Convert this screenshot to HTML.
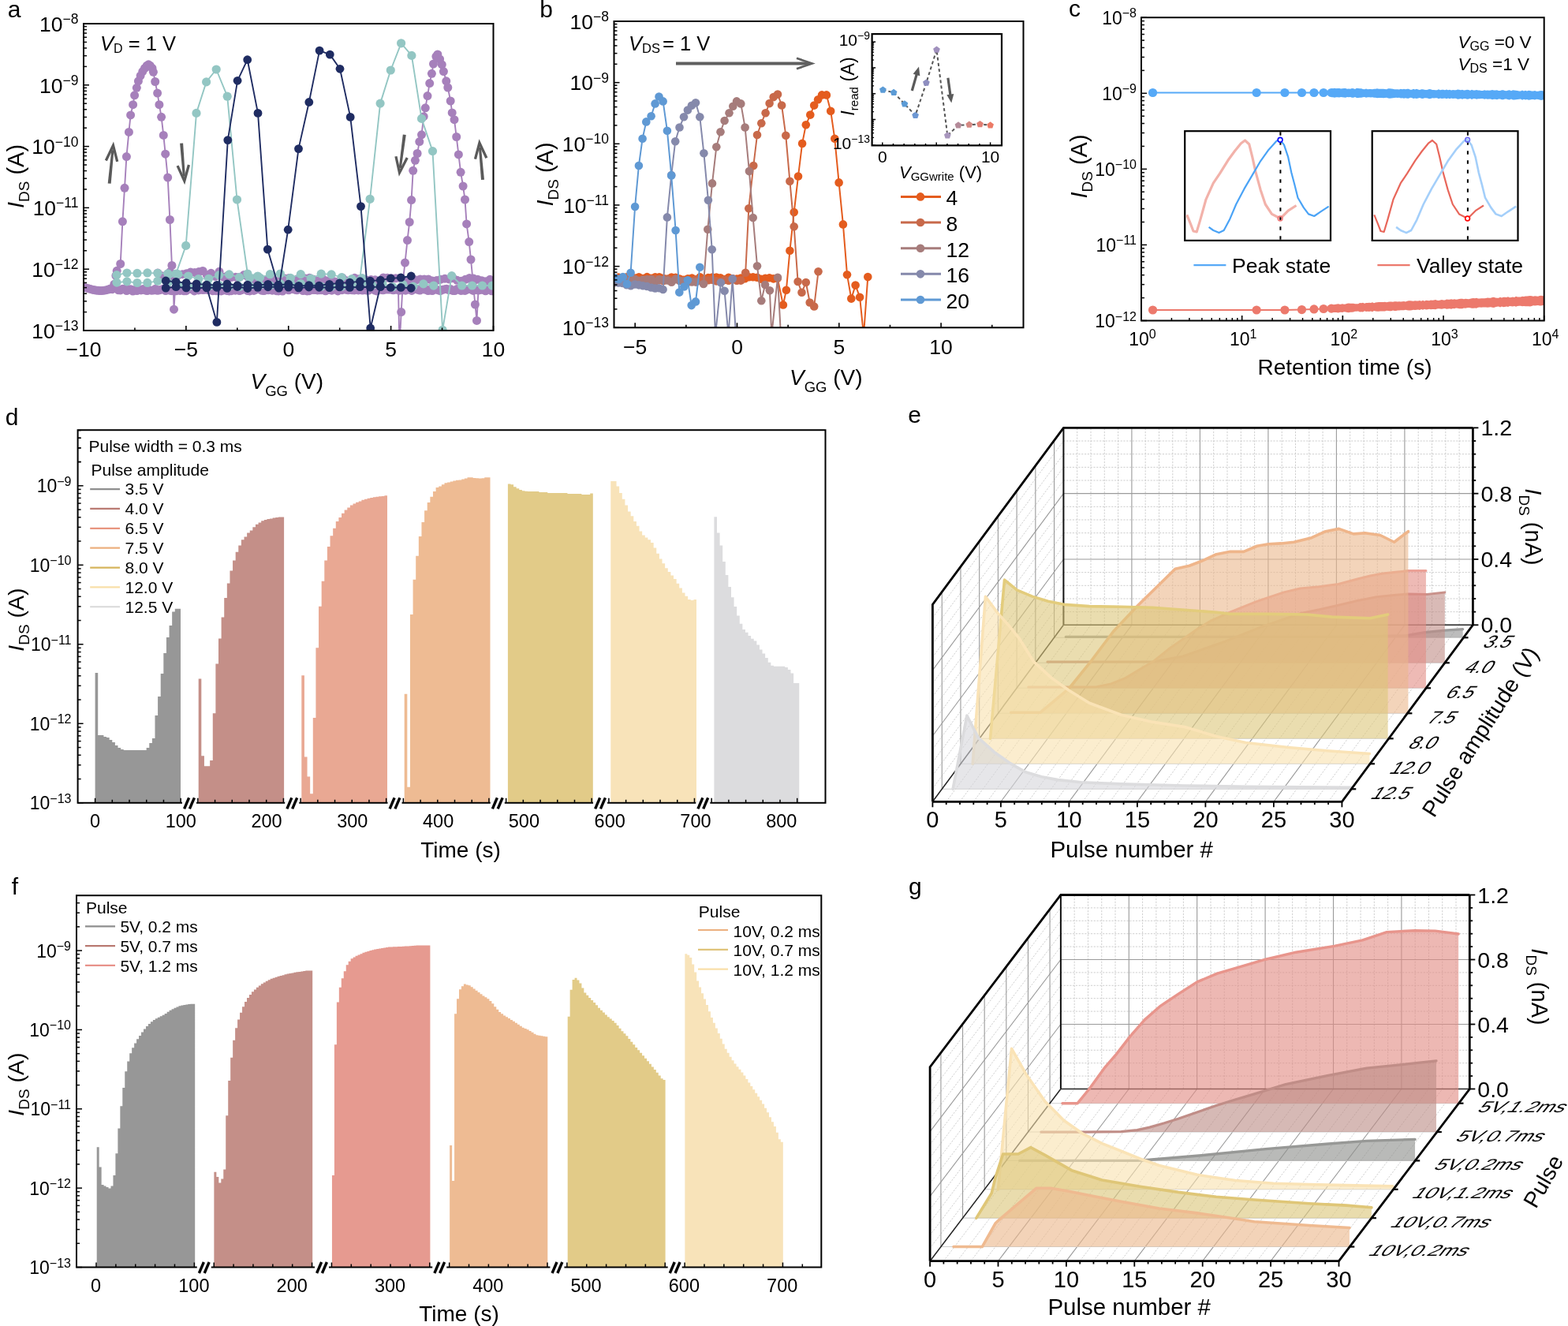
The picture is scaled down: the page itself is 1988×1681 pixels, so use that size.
<!DOCTYPE html><html><head><meta charset="utf-8"><style>html,body{margin:0;padding:0;background:#fff;}svg{display:block;}</style></head><body>
<svg xmlns="http://www.w3.org/2000/svg" width="1988" height="1681" viewBox="0 0 1988 1681" font-family='"Liberation Sans", Arial, Helvetica, sans-serif'>
<rect width="1988" height="1681" fill="#fff"/>
<g id="pa">
<clipPath id="clipa"><rect x="106.0" y="30.0" width="519.5" height="389.0"/></clipPath>
<g clip-path="url(#clipa)">
<path d="M106 364.23 L108.6 364.8 L111.2 365.48 L113.8 366.19 L116.4 366.9 L119 367.52 L121.6 368.03 L124.2 368.36 L126.8 368.5 L129.4 368.43 L132 368.16 L134.6 367.71 L137.2 367.12 L139.8 366.43 L142.4 366.71 L150.2 367.81 L152.8 367.88 L155.4 366.2 L158 366.04 L160.6 368.51 L163.2 366.78 L165.8 366.7 L168.4 368.99 L171 367.41 L173.6 368.51 L176.2 367.43 L178.8 367.92 L181.4 366.45 L184 367.9 L186.6 368.6 L189.2 367.57 L191.8 368.22 L194.4 368.01 L197 366.19 L199.6 368.27 L202.2 367.77 L204.8 366.9 L207.4 366.09 L210 368.6 L212.6 367.42 L215.2 368.16 L217.8 368.64 L220.4 368.14 L223 368.76 L225.6 367.18 L228.2 368.4 L230.8 367.33 L233.4 368.81 L236 368.64 L238.6 366.29 L241.2 366.41 L243.8 366.65 L246.4 368.9 L249 367.31 L251.6 367.88 L254.2 366.9 L256.8 367.52 L259.4 367.16 L262 367.05 L264.6 367.76 L267.2 367.75 L269.8 368.71 L272.4 368.05 L275 368.79 L277.6 368.57 L280.2 368.97 L282.8 368.01 L285.4 366.49 L288 368.58 L290.6 368.89 L293.2 368.71 L295.8 367.71 L298.4 368.14 L301 366.63 L303.6 368.49 L306.2 367.72 L308.8 366.85 L311.4 366.19 L314 368.56 L316.6 368.97 L319.2 366.27 L321.8 368.4 L324.4 367.23 L327 366.45 L329.6 366.88 L332.2 368.31 L334.8 368.62 L337.4 366.13 L340 367.84 L342.6 366.13 L345.2 368.16 L347.8 366.99 L350.4 368.64 L353 368.94 L355.6 367.52 L358.2 369 L360.8 366.93 L363.4 366.23 L366 367.8 L368.6 366.09 L371.2 366.59 L373.8 367.22 L376.4 367.83 L379 366.47 L381.6 366.13 L384.2 368.6 L386.8 366.94 L389.4 368.88 L392 368.69 L394.6 367.13 L397.2 367.38 L399.8 367.56 L402.4 367.93 L405 367.79 L407.6 367.68 L410.2 367.86 L412.8 368.82 L415.4 367.52 L418 367.29 L420.6 368.16 L423.2 366.71 L425.8 366.9 L428.4 368.93 L431 367.56 L433.6 367.65 L436.2 366.03 L438.8 367.25 L441.4 367.74 L444 366.06 L446.6 367.85 L449.2 367.9 L451.8 366.18 L454.4 367.88 L457 367.4 L459.6 368.04 L462.2 367.06 L464.8 368.12 L467.4 368.21 L470 366.07 L472.6 366.18 L475.2 368.03 L477.8 368.89 L480.4 366.75 L483 367.37 L485.6 367.78 L488.2 366.96 L490.8 367.09 L493.4 366.94 L496 367.11 L498.6 367.79 L501.2 366.9 L503.8 367.13 L506.4 368.32 L509 366.08 L511.6 367.71 L514.2 368.21 L516.8 366.93 L519.4 366.67 L522 368.41 L524.6 366.72 L527.2 366.56 L529.8 367.31 L532.4 368.09 L535 366.31 L537.6 366.97 L540.2 367 L542.8 368.5 L545.4 367.32 L548 368.57 L550.6 366.51 L553.2 367.01 L555.8 367.95 L558.4 368.65 L561 367.35 L563.6 366.68 L566.2 366.36 L568.8 367.59 L571.4 366.57 L574 368.42 L576.6 368.52 L579.2 366.55 L581.8 366.84 L584.4 368.42 L587 367.93 L589.6 368.42 L592.2 367.04 L594.8 366.39 L597.4 366.88 L600 368.38 L602.6 366.81 L605.2 367.04 L607.8 367.25 L610.4 367.26 L613 367.23 L615.6 368.76 L618.2 366.47 L620.8 366.01 L623.4 368.83 L626 368.64 L628.6 368.96" stroke="#a680bb" fill="none" stroke-width="1.5" />
<path d="M200 346.04 L205.2 349.65 L210.4 349.49 L215.6 344.55 L220.8 348.22 L226 348.86 L231.2 347.64 L236.4 346.63 L241.6 345.02 L246.8 345.39 L252 344.59 L257.2 343.48 L262.4 348.71 L267.6 346.3 L272.8 350.48 L278 344.36 L283.2 351.23 L288.4 349.55 L293.6 351.39 L298.8 351.17 L304 351.2 L309.2 348.62 L314.4 351.08 L319.6 355.47 L324.8 352.03 L330 352.8 L335.2 354.98 L340.4 354.15 L345.6 353.48 L350.8 356.63 L356 354.67 L361.2 353.05 L366.4 352.51 L371.6 356.17 L376.8 353.86 L382 355.69 L387.2 353.11 L392.4 352.18 L397.6 354.21 L402.8 355.9 L408 352.03 L413.2 355.75 L418.4 356.53 L423.6 356.84 L428.8 356.94 L434 352.05 L439.2 355.77 L444.4 357.18 L449.6 352.3 L454.8 353.63 L460 353.61 L465.2 355.16 L470.4 354.54 L475.6 354.84 L480.8 356.66 L486 352.01 L491.2 352.33 L496.4 352.76 L501.6 352.75 L506.8 352.41 L512 357.85 L517.2 357.13 L522.4 352.52 L527.6 355.01 L532.8 353.9 L538 353.89 L543.2 354.11 L548.4 355.88 L553.6 355.52 L558.8 354.17 L564 353.15 L569.2 353.97 L574.4 352.74 L579.6 355.33 L584.8 356.3 L590 354.28 L595.2 352.48 L600.4 353.07 L605.6 354.24 L610.8 355.63 L616 356.7 L621.2 354.28" stroke="#a680bb" fill="none" stroke-width="1.5" />
<circle cx="106" cy="364.23" r="5.5" fill="#a680bb" />
<circle cx="108.6" cy="364.8" r="5.5" fill="#a680bb" />
<circle cx="111.2" cy="365.48" r="5.5" fill="#a680bb" />
<circle cx="113.8" cy="366.19" r="5.5" fill="#a680bb" />
<circle cx="116.4" cy="366.9" r="5.5" fill="#a680bb" />
<circle cx="119" cy="367.52" r="5.5" fill="#a680bb" />
<circle cx="121.6" cy="368.03" r="5.5" fill="#a680bb" />
<circle cx="124.2" cy="368.36" r="5.5" fill="#a680bb" />
<circle cx="126.8" cy="368.5" r="5.5" fill="#a680bb" />
<circle cx="129.4" cy="368.43" r="5.5" fill="#a680bb" />
<circle cx="132" cy="368.16" r="5.5" fill="#a680bb" />
<circle cx="134.6" cy="367.71" r="5.5" fill="#a680bb" />
<circle cx="137.2" cy="367.12" r="5.5" fill="#a680bb" />
<circle cx="139.8" cy="366.43" r="5.5" fill="#a680bb" />
<circle cx="142.4" cy="366.71" r="5.5" fill="#a680bb" />
<circle cx="150.2" cy="367.81" r="5.5" fill="#a680bb" />
<circle cx="152.8" cy="367.88" r="5.5" fill="#a680bb" />
<circle cx="155.4" cy="366.2" r="5.5" fill="#a680bb" />
<circle cx="158" cy="366.04" r="5.5" fill="#a680bb" />
<circle cx="160.6" cy="368.51" r="5.5" fill="#a680bb" />
<circle cx="163.2" cy="366.78" r="5.5" fill="#a680bb" />
<circle cx="165.8" cy="366.7" r="5.5" fill="#a680bb" />
<circle cx="168.4" cy="368.99" r="5.5" fill="#a680bb" />
<circle cx="171" cy="367.41" r="5.5" fill="#a680bb" />
<circle cx="173.6" cy="368.51" r="5.5" fill="#a680bb" />
<circle cx="176.2" cy="367.43" r="5.5" fill="#a680bb" />
<circle cx="178.8" cy="367.92" r="5.5" fill="#a680bb" />
<circle cx="181.4" cy="366.45" r="5.5" fill="#a680bb" />
<circle cx="184" cy="367.9" r="5.5" fill="#a680bb" />
<circle cx="186.6" cy="368.6" r="5.5" fill="#a680bb" />
<circle cx="189.2" cy="367.57" r="5.5" fill="#a680bb" />
<circle cx="191.8" cy="368.22" r="5.5" fill="#a680bb" />
<circle cx="194.4" cy="368.01" r="5.5" fill="#a680bb" />
<circle cx="197" cy="366.19" r="5.5" fill="#a680bb" />
<circle cx="199.6" cy="368.27" r="5.5" fill="#a680bb" />
<circle cx="202.2" cy="367.77" r="5.5" fill="#a680bb" />
<circle cx="204.8" cy="366.9" r="5.5" fill="#a680bb" />
<circle cx="207.4" cy="366.09" r="5.5" fill="#a680bb" />
<circle cx="210" cy="368.6" r="5.5" fill="#a680bb" />
<circle cx="212.6" cy="367.42" r="5.5" fill="#a680bb" />
<circle cx="215.2" cy="368.16" r="5.5" fill="#a680bb" />
<circle cx="217.8" cy="368.64" r="5.5" fill="#a680bb" />
<circle cx="220.4" cy="368.14" r="5.5" fill="#a680bb" />
<circle cx="223" cy="368.76" r="5.5" fill="#a680bb" />
<circle cx="225.6" cy="367.18" r="5.5" fill="#a680bb" />
<circle cx="228.2" cy="368.4" r="5.5" fill="#a680bb" />
<circle cx="230.8" cy="367.33" r="5.5" fill="#a680bb" />
<circle cx="233.4" cy="368.81" r="5.5" fill="#a680bb" />
<circle cx="236" cy="368.64" r="5.5" fill="#a680bb" />
<circle cx="238.6" cy="366.29" r="5.5" fill="#a680bb" />
<circle cx="241.2" cy="366.41" r="5.5" fill="#a680bb" />
<circle cx="243.8" cy="366.65" r="5.5" fill="#a680bb" />
<circle cx="246.4" cy="368.9" r="5.5" fill="#a680bb" />
<circle cx="249" cy="367.31" r="5.5" fill="#a680bb" />
<circle cx="251.6" cy="367.88" r="5.5" fill="#a680bb" />
<circle cx="254.2" cy="366.9" r="5.5" fill="#a680bb" />
<circle cx="256.8" cy="367.52" r="5.5" fill="#a680bb" />
<circle cx="259.4" cy="367.16" r="5.5" fill="#a680bb" />
<circle cx="262" cy="367.05" r="5.5" fill="#a680bb" />
<circle cx="264.6" cy="367.76" r="5.5" fill="#a680bb" />
<circle cx="267.2" cy="367.75" r="5.5" fill="#a680bb" />
<circle cx="269.8" cy="368.71" r="5.5" fill="#a680bb" />
<circle cx="272.4" cy="368.05" r="5.5" fill="#a680bb" />
<circle cx="275" cy="368.79" r="5.5" fill="#a680bb" />
<circle cx="277.6" cy="368.57" r="5.5" fill="#a680bb" />
<circle cx="280.2" cy="368.97" r="5.5" fill="#a680bb" />
<circle cx="282.8" cy="368.01" r="5.5" fill="#a680bb" />
<circle cx="285.4" cy="366.49" r="5.5" fill="#a680bb" />
<circle cx="288" cy="368.58" r="5.5" fill="#a680bb" />
<circle cx="290.6" cy="368.89" r="5.5" fill="#a680bb" />
<circle cx="293.2" cy="368.71" r="5.5" fill="#a680bb" />
<circle cx="295.8" cy="367.71" r="5.5" fill="#a680bb" />
<circle cx="298.4" cy="368.14" r="5.5" fill="#a680bb" />
<circle cx="301" cy="366.63" r="5.5" fill="#a680bb" />
<circle cx="303.6" cy="368.49" r="5.5" fill="#a680bb" />
<circle cx="306.2" cy="367.72" r="5.5" fill="#a680bb" />
<circle cx="308.8" cy="366.85" r="5.5" fill="#a680bb" />
<circle cx="311.4" cy="366.19" r="5.5" fill="#a680bb" />
<circle cx="314" cy="368.56" r="5.5" fill="#a680bb" />
<circle cx="316.6" cy="368.97" r="5.5" fill="#a680bb" />
<circle cx="319.2" cy="366.27" r="5.5" fill="#a680bb" />
<circle cx="321.8" cy="368.4" r="5.5" fill="#a680bb" />
<circle cx="324.4" cy="367.23" r="5.5" fill="#a680bb" />
<circle cx="327" cy="366.45" r="5.5" fill="#a680bb" />
<circle cx="329.6" cy="366.88" r="5.5" fill="#a680bb" />
<circle cx="332.2" cy="368.31" r="5.5" fill="#a680bb" />
<circle cx="334.8" cy="368.62" r="5.5" fill="#a680bb" />
<circle cx="337.4" cy="366.13" r="5.5" fill="#a680bb" />
<circle cx="340" cy="367.84" r="5.5" fill="#a680bb" />
<circle cx="342.6" cy="366.13" r="5.5" fill="#a680bb" />
<circle cx="345.2" cy="368.16" r="5.5" fill="#a680bb" />
<circle cx="347.8" cy="366.99" r="5.5" fill="#a680bb" />
<circle cx="350.4" cy="368.64" r="5.5" fill="#a680bb" />
<circle cx="353" cy="368.94" r="5.5" fill="#a680bb" />
<circle cx="355.6" cy="367.52" r="5.5" fill="#a680bb" />
<circle cx="358.2" cy="369" r="5.5" fill="#a680bb" />
<circle cx="360.8" cy="366.93" r="5.5" fill="#a680bb" />
<circle cx="363.4" cy="366.23" r="5.5" fill="#a680bb" />
<circle cx="366" cy="367.8" r="5.5" fill="#a680bb" />
<circle cx="368.6" cy="366.09" r="5.5" fill="#a680bb" />
<circle cx="371.2" cy="366.59" r="5.5" fill="#a680bb" />
<circle cx="373.8" cy="367.22" r="5.5" fill="#a680bb" />
<circle cx="376.4" cy="367.83" r="5.5" fill="#a680bb" />
<circle cx="379" cy="366.47" r="5.5" fill="#a680bb" />
<circle cx="381.6" cy="366.13" r="5.5" fill="#a680bb" />
<circle cx="384.2" cy="368.6" r="5.5" fill="#a680bb" />
<circle cx="386.8" cy="366.94" r="5.5" fill="#a680bb" />
<circle cx="389.4" cy="368.88" r="5.5" fill="#a680bb" />
<circle cx="392" cy="368.69" r="5.5" fill="#a680bb" />
<circle cx="394.6" cy="367.13" r="5.5" fill="#a680bb" />
<circle cx="397.2" cy="367.38" r="5.5" fill="#a680bb" />
<circle cx="399.8" cy="367.56" r="5.5" fill="#a680bb" />
<circle cx="402.4" cy="367.93" r="5.5" fill="#a680bb" />
<circle cx="405" cy="367.79" r="5.5" fill="#a680bb" />
<circle cx="407.6" cy="367.68" r="5.5" fill="#a680bb" />
<circle cx="410.2" cy="367.86" r="5.5" fill="#a680bb" />
<circle cx="412.8" cy="368.82" r="5.5" fill="#a680bb" />
<circle cx="415.4" cy="367.52" r="5.5" fill="#a680bb" />
<circle cx="418" cy="367.29" r="5.5" fill="#a680bb" />
<circle cx="420.6" cy="368.16" r="5.5" fill="#a680bb" />
<circle cx="423.2" cy="366.71" r="5.5" fill="#a680bb" />
<circle cx="425.8" cy="366.9" r="5.5" fill="#a680bb" />
<circle cx="428.4" cy="368.93" r="5.5" fill="#a680bb" />
<circle cx="431" cy="367.56" r="5.5" fill="#a680bb" />
<circle cx="433.6" cy="367.65" r="5.5" fill="#a680bb" />
<circle cx="436.2" cy="366.03" r="5.5" fill="#a680bb" />
<circle cx="438.8" cy="367.25" r="5.5" fill="#a680bb" />
<circle cx="441.4" cy="367.74" r="5.5" fill="#a680bb" />
<circle cx="444" cy="366.06" r="5.5" fill="#a680bb" />
<circle cx="446.6" cy="367.85" r="5.5" fill="#a680bb" />
<circle cx="449.2" cy="367.9" r="5.5" fill="#a680bb" />
<circle cx="451.8" cy="366.18" r="5.5" fill="#a680bb" />
<circle cx="454.4" cy="367.88" r="5.5" fill="#a680bb" />
<circle cx="457" cy="367.4" r="5.5" fill="#a680bb" />
<circle cx="459.6" cy="368.04" r="5.5" fill="#a680bb" />
<circle cx="462.2" cy="367.06" r="5.5" fill="#a680bb" />
<circle cx="464.8" cy="368.12" r="5.5" fill="#a680bb" />
<circle cx="467.4" cy="368.21" r="5.5" fill="#a680bb" />
<circle cx="470" cy="366.07" r="5.5" fill="#a680bb" />
<circle cx="472.6" cy="366.18" r="5.5" fill="#a680bb" />
<circle cx="475.2" cy="368.03" r="5.5" fill="#a680bb" />
<circle cx="477.8" cy="368.89" r="5.5" fill="#a680bb" />
<circle cx="480.4" cy="366.75" r="5.5" fill="#a680bb" />
<circle cx="483" cy="367.37" r="5.5" fill="#a680bb" />
<circle cx="485.6" cy="367.78" r="5.5" fill="#a680bb" />
<circle cx="488.2" cy="366.96" r="5.5" fill="#a680bb" />
<circle cx="490.8" cy="367.09" r="5.5" fill="#a680bb" />
<circle cx="493.4" cy="366.94" r="5.5" fill="#a680bb" />
<circle cx="496" cy="367.11" r="5.5" fill="#a680bb" />
<circle cx="498.6" cy="367.79" r="5.5" fill="#a680bb" />
<circle cx="501.2" cy="366.9" r="5.5" fill="#a680bb" />
<circle cx="503.8" cy="367.13" r="5.5" fill="#a680bb" />
<circle cx="506.4" cy="368.32" r="5.5" fill="#a680bb" />
<circle cx="509" cy="366.08" r="5.5" fill="#a680bb" />
<circle cx="511.6" cy="367.71" r="5.5" fill="#a680bb" />
<circle cx="514.2" cy="368.21" r="5.5" fill="#a680bb" />
<circle cx="516.8" cy="366.93" r="5.5" fill="#a680bb" />
<circle cx="519.4" cy="366.67" r="5.5" fill="#a680bb" />
<circle cx="522" cy="368.41" r="5.5" fill="#a680bb" />
<circle cx="524.6" cy="366.72" r="5.5" fill="#a680bb" />
<circle cx="527.2" cy="366.56" r="5.5" fill="#a680bb" />
<circle cx="529.8" cy="367.31" r="5.5" fill="#a680bb" />
<circle cx="532.4" cy="368.09" r="5.5" fill="#a680bb" />
<circle cx="535" cy="366.31" r="5.5" fill="#a680bb" />
<circle cx="537.6" cy="366.97" r="5.5" fill="#a680bb" />
<circle cx="540.2" cy="367" r="5.5" fill="#a680bb" />
<circle cx="542.8" cy="368.5" r="5.5" fill="#a680bb" />
<circle cx="545.4" cy="367.32" r="5.5" fill="#a680bb" />
<circle cx="548" cy="368.57" r="5.5" fill="#a680bb" />
<circle cx="550.6" cy="366.51" r="5.5" fill="#a680bb" />
<circle cx="553.2" cy="367.01" r="5.5" fill="#a680bb" />
<circle cx="555.8" cy="367.95" r="5.5" fill="#a680bb" />
<circle cx="558.4" cy="368.65" r="5.5" fill="#a680bb" />
<circle cx="561" cy="367.35" r="5.5" fill="#a680bb" />
<circle cx="563.6" cy="366.68" r="5.5" fill="#a680bb" />
<circle cx="566.2" cy="366.36" r="5.5" fill="#a680bb" />
<circle cx="568.8" cy="367.59" r="5.5" fill="#a680bb" />
<circle cx="571.4" cy="366.57" r="5.5" fill="#a680bb" />
<circle cx="574" cy="368.42" r="5.5" fill="#a680bb" />
<circle cx="576.6" cy="368.52" r="5.5" fill="#a680bb" />
<circle cx="579.2" cy="366.55" r="5.5" fill="#a680bb" />
<circle cx="581.8" cy="366.84" r="5.5" fill="#a680bb" />
<circle cx="584.4" cy="368.42" r="5.5" fill="#a680bb" />
<circle cx="587" cy="367.93" r="5.5" fill="#a680bb" />
<circle cx="589.6" cy="368.42" r="5.5" fill="#a680bb" />
<circle cx="592.2" cy="367.04" r="5.5" fill="#a680bb" />
<circle cx="594.8" cy="366.39" r="5.5" fill="#a680bb" />
<circle cx="597.4" cy="366.88" r="5.5" fill="#a680bb" />
<circle cx="600" cy="368.38" r="5.5" fill="#a680bb" />
<circle cx="602.6" cy="366.81" r="5.5" fill="#a680bb" />
<circle cx="605.2" cy="367.04" r="5.5" fill="#a680bb" />
<circle cx="607.8" cy="367.25" r="5.5" fill="#a680bb" />
<circle cx="610.4" cy="367.26" r="5.5" fill="#a680bb" />
<circle cx="613" cy="367.23" r="5.5" fill="#a680bb" />
<circle cx="615.6" cy="368.76" r="5.5" fill="#a680bb" />
<circle cx="618.2" cy="366.47" r="5.5" fill="#a680bb" />
<circle cx="620.8" cy="366.01" r="5.5" fill="#a680bb" />
<circle cx="623.4" cy="368.83" r="5.5" fill="#a680bb" />
<circle cx="626" cy="368.64" r="5.5" fill="#a680bb" />
<circle cx="628.6" cy="368.96" r="5.5" fill="#a680bb" />
<circle cx="200" cy="346.04" r="5.5" fill="#a680bb" />
<circle cx="205.2" cy="349.65" r="5.5" fill="#a680bb" />
<circle cx="210.4" cy="349.49" r="5.5" fill="#a680bb" />
<circle cx="215.6" cy="344.55" r="5.5" fill="#a680bb" />
<circle cx="220.8" cy="348.22" r="5.5" fill="#a680bb" />
<circle cx="226" cy="348.86" r="5.5" fill="#a680bb" />
<circle cx="231.2" cy="347.64" r="5.5" fill="#a680bb" />
<circle cx="236.4" cy="346.63" r="5.5" fill="#a680bb" />
<circle cx="241.6" cy="345.02" r="5.5" fill="#a680bb" />
<circle cx="246.8" cy="345.39" r="5.5" fill="#a680bb" />
<circle cx="252" cy="344.59" r="5.5" fill="#a680bb" />
<circle cx="257.2" cy="343.48" r="5.5" fill="#a680bb" />
<circle cx="262.4" cy="348.71" r="5.5" fill="#a680bb" />
<circle cx="267.6" cy="346.3" r="5.5" fill="#a680bb" />
<circle cx="272.8" cy="350.48" r="5.5" fill="#a680bb" />
<circle cx="278" cy="344.36" r="5.5" fill="#a680bb" />
<circle cx="283.2" cy="351.23" r="5.5" fill="#a680bb" />
<circle cx="288.4" cy="349.55" r="5.5" fill="#a680bb" />
<circle cx="293.6" cy="351.39" r="5.5" fill="#a680bb" />
<circle cx="298.8" cy="351.17" r="5.5" fill="#a680bb" />
<circle cx="304" cy="351.2" r="5.5" fill="#a680bb" />
<circle cx="309.2" cy="348.62" r="5.5" fill="#a680bb" />
<circle cx="314.4" cy="351.08" r="5.5" fill="#a680bb" />
<circle cx="319.6" cy="355.47" r="5.5" fill="#a680bb" />
<circle cx="324.8" cy="352.03" r="5.5" fill="#a680bb" />
<circle cx="330" cy="352.8" r="5.5" fill="#a680bb" />
<circle cx="335.2" cy="354.98" r="5.5" fill="#a680bb" />
<circle cx="340.4" cy="354.15" r="5.5" fill="#a680bb" />
<circle cx="345.6" cy="353.48" r="5.5" fill="#a680bb" />
<circle cx="350.8" cy="356.63" r="5.5" fill="#a680bb" />
<circle cx="356" cy="354.67" r="5.5" fill="#a680bb" />
<circle cx="361.2" cy="353.05" r="5.5" fill="#a680bb" />
<circle cx="366.4" cy="352.51" r="5.5" fill="#a680bb" />
<circle cx="371.6" cy="356.17" r="5.5" fill="#a680bb" />
<circle cx="376.8" cy="353.86" r="5.5" fill="#a680bb" />
<circle cx="382" cy="355.69" r="5.5" fill="#a680bb" />
<circle cx="387.2" cy="353.11" r="5.5" fill="#a680bb" />
<circle cx="392.4" cy="352.18" r="5.5" fill="#a680bb" />
<circle cx="397.6" cy="354.21" r="5.5" fill="#a680bb" />
<circle cx="402.8" cy="355.9" r="5.5" fill="#a680bb" />
<circle cx="408" cy="352.03" r="5.5" fill="#a680bb" />
<circle cx="413.2" cy="355.75" r="5.5" fill="#a680bb" />
<circle cx="418.4" cy="356.53" r="5.5" fill="#a680bb" />
<circle cx="423.6" cy="356.84" r="5.5" fill="#a680bb" />
<circle cx="428.8" cy="356.94" r="5.5" fill="#a680bb" />
<circle cx="434" cy="352.05" r="5.5" fill="#a680bb" />
<circle cx="439.2" cy="355.77" r="5.5" fill="#a680bb" />
<circle cx="444.4" cy="357.18" r="5.5" fill="#a680bb" />
<circle cx="449.6" cy="352.3" r="5.5" fill="#a680bb" />
<circle cx="454.8" cy="353.63" r="5.5" fill="#a680bb" />
<circle cx="460" cy="353.61" r="5.5" fill="#a680bb" />
<circle cx="465.2" cy="355.16" r="5.5" fill="#a680bb" />
<circle cx="470.4" cy="354.54" r="5.5" fill="#a680bb" />
<circle cx="475.6" cy="354.84" r="5.5" fill="#a680bb" />
<circle cx="480.8" cy="356.66" r="5.5" fill="#a680bb" />
<circle cx="486" cy="352.01" r="5.5" fill="#a680bb" />
<circle cx="491.2" cy="352.33" r="5.5" fill="#a680bb" />
<circle cx="496.4" cy="352.76" r="5.5" fill="#a680bb" />
<circle cx="501.6" cy="352.75" r="5.5" fill="#a680bb" />
<circle cx="506.8" cy="352.41" r="5.5" fill="#a680bb" />
<circle cx="512" cy="357.85" r="5.5" fill="#a680bb" />
<circle cx="517.2" cy="357.13" r="5.5" fill="#a680bb" />
<circle cx="522.4" cy="352.52" r="5.5" fill="#a680bb" />
<circle cx="527.6" cy="355.01" r="5.5" fill="#a680bb" />
<circle cx="532.8" cy="353.9" r="5.5" fill="#a680bb" />
<circle cx="538" cy="353.89" r="5.5" fill="#a680bb" />
<circle cx="543.2" cy="354.11" r="5.5" fill="#a680bb" />
<circle cx="548.4" cy="355.88" r="5.5" fill="#a680bb" />
<circle cx="553.6" cy="355.52" r="5.5" fill="#a680bb" />
<circle cx="558.8" cy="354.17" r="5.5" fill="#a680bb" />
<circle cx="564" cy="353.15" r="5.5" fill="#a680bb" />
<circle cx="569.2" cy="353.97" r="5.5" fill="#a680bb" />
<circle cx="574.4" cy="352.74" r="5.5" fill="#a680bb" />
<circle cx="579.6" cy="355.33" r="5.5" fill="#a680bb" />
<circle cx="584.8" cy="356.3" r="5.5" fill="#a680bb" />
<circle cx="590" cy="354.28" r="5.5" fill="#a680bb" />
<circle cx="595.2" cy="352.48" r="5.5" fill="#a680bb" />
<circle cx="600.4" cy="353.07" r="5.5" fill="#a680bb" />
<circle cx="605.6" cy="354.24" r="5.5" fill="#a680bb" />
<circle cx="610.8" cy="355.63" r="5.5" fill="#a680bb" />
<circle cx="616" cy="356.7" r="5.5" fill="#a680bb" />
<circle cx="621.2" cy="354.28" r="5.5" fill="#a680bb" />
<path d="M140 366 L144.8 360.3 L146.9 349.4 L148.2 343.3 L152.7 334.5 L155.4 280.8 L158 238.3 L160.4 198.6 L163.4 167.4 L165.6 145.9 L168.6 132.7 L170.6 120.8 L173.3 111.3 L175.4 102.8 L178.1 96.1 L180.8 90.6 L183.5 86.5 L186.2 83.2 L188.3 81.8 L190.3 83.2 L193 86.5 L194.4 91.3 L196.7 103.5 L199.6 118.1 L201.9 132.7 L204.6 148.3 L207.3 171.4 L209.7 195.2 L212.7 225.1 L215.4 278.5 L217.9 336.5 L219.5 350 L220.5 392.2 L222 367" stroke="#a680bb" fill="none" stroke-width="1.9" stroke-linejoin="round"/>
<circle cx="140" cy="366" r="5.5" fill="#a680bb" />
<circle cx="144.8" cy="360.3" r="5.5" fill="#a680bb" />
<circle cx="146.9" cy="349.4" r="5.5" fill="#a680bb" />
<circle cx="148.2" cy="343.3" r="5.5" fill="#a680bb" />
<circle cx="152.7" cy="334.5" r="5.5" fill="#a680bb" />
<circle cx="155.4" cy="280.8" r="5.5" fill="#a680bb" />
<circle cx="158" cy="238.3" r="5.5" fill="#a680bb" />
<circle cx="160.4" cy="198.6" r="5.5" fill="#a680bb" />
<circle cx="163.4" cy="167.4" r="5.5" fill="#a680bb" />
<circle cx="165.6" cy="145.9" r="5.5" fill="#a680bb" />
<circle cx="168.6" cy="132.7" r="5.5" fill="#a680bb" />
<circle cx="170.6" cy="120.8" r="5.5" fill="#a680bb" />
<circle cx="173.3" cy="111.3" r="5.5" fill="#a680bb" />
<circle cx="175.4" cy="102.8" r="5.5" fill="#a680bb" />
<circle cx="178.1" cy="96.1" r="5.5" fill="#a680bb" />
<circle cx="180.8" cy="90.6" r="5.5" fill="#a680bb" />
<circle cx="183.5" cy="86.5" r="5.5" fill="#a680bb" />
<circle cx="186.2" cy="83.2" r="5.5" fill="#a680bb" />
<circle cx="188.3" cy="81.8" r="5.5" fill="#a680bb" />
<circle cx="190.3" cy="83.2" r="5.5" fill="#a680bb" />
<circle cx="193" cy="86.5" r="5.5" fill="#a680bb" />
<circle cx="194.4" cy="91.3" r="5.5" fill="#a680bb" />
<circle cx="196.7" cy="103.5" r="5.5" fill="#a680bb" />
<circle cx="199.6" cy="118.1" r="5.5" fill="#a680bb" />
<circle cx="201.9" cy="132.7" r="5.5" fill="#a680bb" />
<circle cx="204.6" cy="148.3" r="5.5" fill="#a680bb" />
<circle cx="207.3" cy="171.4" r="5.5" fill="#a680bb" />
<circle cx="209.7" cy="195.2" r="5.5" fill="#a680bb" />
<circle cx="212.7" cy="225.1" r="5.5" fill="#a680bb" />
<circle cx="215.4" cy="278.5" r="5.5" fill="#a680bb" />
<circle cx="217.9" cy="336.5" r="5.5" fill="#a680bb" />
<circle cx="219.5" cy="350" r="5.5" fill="#a680bb" />
<circle cx="220.5" cy="392.2" r="5.5" fill="#a680bb" />
<circle cx="222" cy="367" r="5.5" fill="#a680bb" />
<path d="M505 367 L506.5 440 L508.7 395.6 L511 355 L513.5 333.1 L516.5 304.6 L519.2 281.5 L521.6 253.6 L523.7 216.3 L526.4 203.3 L529.1 194.5 L531.8 179.6 L534.5 170.8 L537.2 147.7 L539.3 136.8 L542 121.6 L544.7 105.6 L547.4 93.3 L549.5 81.1 L552.9 71.6 L554.9 68.9 L557.6 75 L560.3 81.8 L562.4 90.6 L565.8 102.8 L567.8 111 L571.2 128 L573.2 142.9 L576 151.7 L578.7 173.5 L581.4 195.9 L584.1 218.3 L587.1 236 L589.5 253 L591.6 283.9 L594.7 306.6 L597 329 L599.7 357.5 L602.4 386 L604.5 406.4 L606.5 368 L608 366" stroke="#a680bb" fill="none" stroke-width="1.9" stroke-linejoin="round"/>
<circle cx="505" cy="367" r="5.5" fill="#a680bb" />
<circle cx="506.5" cy="440" r="5.5" fill="#a680bb" />
<circle cx="508.7" cy="395.6" r="5.5" fill="#a680bb" />
<circle cx="511" cy="355" r="5.5" fill="#a680bb" />
<circle cx="513.5" cy="333.1" r="5.5" fill="#a680bb" />
<circle cx="516.5" cy="304.6" r="5.5" fill="#a680bb" />
<circle cx="519.2" cy="281.5" r="5.5" fill="#a680bb" />
<circle cx="521.6" cy="253.6" r="5.5" fill="#a680bb" />
<circle cx="523.7" cy="216.3" r="5.5" fill="#a680bb" />
<circle cx="526.4" cy="203.3" r="5.5" fill="#a680bb" />
<circle cx="529.1" cy="194.5" r="5.5" fill="#a680bb" />
<circle cx="531.8" cy="179.6" r="5.5" fill="#a680bb" />
<circle cx="534.5" cy="170.8" r="5.5" fill="#a680bb" />
<circle cx="537.2" cy="147.7" r="5.5" fill="#a680bb" />
<circle cx="539.3" cy="136.8" r="5.5" fill="#a680bb" />
<circle cx="542" cy="121.6" r="5.5" fill="#a680bb" />
<circle cx="544.7" cy="105.6" r="5.5" fill="#a680bb" />
<circle cx="547.4" cy="93.3" r="5.5" fill="#a680bb" />
<circle cx="549.5" cy="81.1" r="5.5" fill="#a680bb" />
<circle cx="552.9" cy="71.6" r="5.5" fill="#a680bb" />
<circle cx="554.9" cy="68.9" r="5.5" fill="#a680bb" />
<circle cx="557.6" cy="75" r="5.5" fill="#a680bb" />
<circle cx="560.3" cy="81.8" r="5.5" fill="#a680bb" />
<circle cx="562.4" cy="90.6" r="5.5" fill="#a680bb" />
<circle cx="565.8" cy="102.8" r="5.5" fill="#a680bb" />
<circle cx="567.8" cy="111" r="5.5" fill="#a680bb" />
<circle cx="571.2" cy="128" r="5.5" fill="#a680bb" />
<circle cx="573.2" cy="142.9" r="5.5" fill="#a680bb" />
<circle cx="576" cy="151.7" r="5.5" fill="#a680bb" />
<circle cx="578.7" cy="173.5" r="5.5" fill="#a680bb" />
<circle cx="581.4" cy="195.9" r="5.5" fill="#a680bb" />
<circle cx="584.1" cy="218.3" r="5.5" fill="#a680bb" />
<circle cx="587.1" cy="236" r="5.5" fill="#a680bb" />
<circle cx="589.5" cy="253" r="5.5" fill="#a680bb" />
<circle cx="591.6" cy="283.9" r="5.5" fill="#a680bb" />
<circle cx="594.7" cy="306.6" r="5.5" fill="#a680bb" />
<circle cx="597" cy="329" r="5.5" fill="#a680bb" />
<circle cx="599.7" cy="357.5" r="5.5" fill="#a680bb" />
<circle cx="602.4" cy="386" r="5.5" fill="#a680bb" />
<circle cx="604.5" cy="406.4" r="5.5" fill="#a680bb" />
<circle cx="606.5" cy="368" r="5.5" fill="#a680bb" />
<circle cx="608" cy="366" r="5.5" fill="#a680bb" />
<path d="M148 348.61 L160.96 346.02 L173.92 346.47 L186.88 345.94 L199.84 346.23 L212.8 346.75 L225.76 347.5 L238.72 349.98 L251.68 353.56 L264.64 353.28 L277.6 348.84 L290.56 347.86 L303.52 351.64 L316.48 352.55 L329.44 352.14 L342.4 347.72 L355.36 347.03 L368.32 352.42 L381.28 347.64 L394.24 353.16 L407.2 347.16 L420.16 347.85 L433.12 351.71 L446.08 353.67 L459.04 352.59" stroke="#93c6c3" fill="none" stroke-width="1.6" />
<path d="M148 358.11 L160.96 356.86 L173.92 358.51 L186.88 358.47 L199.84 356.23 L212.8 358.48 L225.76 361.12 L238.72 363.4 L251.68 360.87 L264.64 362.95 L277.6 361.32 L290.56 363.07 L303.52 363.44 L316.48 362.34 L329.44 361.82 L342.4 361.94 L355.36 359.72 L368.32 359.22 L381.28 359.5 L394.24 359.9 L407.2 363.21 L420.16 363.22 L433.12 363.18 L446.08 361.9 L459.04 359.18 L472 361.56 L484.96 359.53 L497.92 363.67 L510.88 360.62 L523.84 363.14 L536.8 359.9 L549.76 362.08" stroke="#93c6c3" fill="none" stroke-width="1.6" />
<circle cx="148" cy="348.61" r="5.6" fill="#93c6c3" />
<circle cx="160.96" cy="346.02" r="5.6" fill="#93c6c3" />
<circle cx="173.92" cy="346.47" r="5.6" fill="#93c6c3" />
<circle cx="186.88" cy="345.94" r="5.6" fill="#93c6c3" />
<circle cx="199.84" cy="346.23" r="5.6" fill="#93c6c3" />
<circle cx="212.8" cy="346.75" r="5.6" fill="#93c6c3" />
<circle cx="225.76" cy="347.5" r="5.6" fill="#93c6c3" />
<circle cx="238.72" cy="349.98" r="5.6" fill="#93c6c3" />
<circle cx="251.68" cy="353.56" r="5.6" fill="#93c6c3" />
<circle cx="264.64" cy="353.28" r="5.6" fill="#93c6c3" />
<circle cx="277.6" cy="348.84" r="5.6" fill="#93c6c3" />
<circle cx="290.56" cy="347.86" r="5.6" fill="#93c6c3" />
<circle cx="303.52" cy="351.64" r="5.6" fill="#93c6c3" />
<circle cx="316.48" cy="352.55" r="5.6" fill="#93c6c3" />
<circle cx="329.44" cy="352.14" r="5.6" fill="#93c6c3" />
<circle cx="342.4" cy="347.72" r="5.6" fill="#93c6c3" />
<circle cx="355.36" cy="347.03" r="5.6" fill="#93c6c3" />
<circle cx="368.32" cy="352.42" r="5.6" fill="#93c6c3" />
<circle cx="381.28" cy="347.64" r="5.6" fill="#93c6c3" />
<circle cx="394.24" cy="353.16" r="5.6" fill="#93c6c3" />
<circle cx="407.2" cy="347.16" r="5.6" fill="#93c6c3" />
<circle cx="420.16" cy="347.85" r="5.6" fill="#93c6c3" />
<circle cx="433.12" cy="351.71" r="5.6" fill="#93c6c3" />
<circle cx="446.08" cy="353.67" r="5.6" fill="#93c6c3" />
<circle cx="459.04" cy="352.59" r="5.6" fill="#93c6c3" />
<circle cx="148" cy="358.11" r="5.6" fill="#93c6c3" />
<circle cx="160.96" cy="356.86" r="5.6" fill="#93c6c3" />
<circle cx="173.92" cy="358.51" r="5.6" fill="#93c6c3" />
<circle cx="186.88" cy="358.47" r="5.6" fill="#93c6c3" />
<circle cx="199.84" cy="356.23" r="5.6" fill="#93c6c3" />
<circle cx="212.8" cy="358.48" r="5.6" fill="#93c6c3" />
<circle cx="225.76" cy="361.12" r="5.6" fill="#93c6c3" />
<circle cx="238.72" cy="363.4" r="5.6" fill="#93c6c3" />
<circle cx="251.68" cy="360.87" r="5.6" fill="#93c6c3" />
<circle cx="264.64" cy="362.95" r="5.6" fill="#93c6c3" />
<circle cx="277.6" cy="361.32" r="5.6" fill="#93c6c3" />
<circle cx="290.56" cy="363.07" r="5.6" fill="#93c6c3" />
<circle cx="303.52" cy="363.44" r="5.6" fill="#93c6c3" />
<circle cx="316.48" cy="362.34" r="5.6" fill="#93c6c3" />
<circle cx="329.44" cy="361.82" r="5.6" fill="#93c6c3" />
<circle cx="342.4" cy="361.94" r="5.6" fill="#93c6c3" />
<circle cx="355.36" cy="359.72" r="5.6" fill="#93c6c3" />
<circle cx="368.32" cy="359.22" r="5.6" fill="#93c6c3" />
<circle cx="381.28" cy="359.5" r="5.6" fill="#93c6c3" />
<circle cx="394.24" cy="359.9" r="5.6" fill="#93c6c3" />
<circle cx="407.2" cy="363.21" r="5.6" fill="#93c6c3" />
<circle cx="420.16" cy="363.22" r="5.6" fill="#93c6c3" />
<circle cx="433.12" cy="363.18" r="5.6" fill="#93c6c3" />
<circle cx="446.08" cy="361.9" r="5.6" fill="#93c6c3" />
<circle cx="459.04" cy="359.18" r="5.6" fill="#93c6c3" />
<circle cx="472" cy="361.56" r="5.6" fill="#93c6c3" />
<circle cx="484.96" cy="359.53" r="5.6" fill="#93c6c3" />
<circle cx="497.92" cy="363.67" r="5.6" fill="#93c6c3" />
<circle cx="510.88" cy="360.62" r="5.6" fill="#93c6c3" />
<circle cx="523.84" cy="363.14" r="5.6" fill="#93c6c3" />
<circle cx="536.8" cy="359.9" r="5.6" fill="#93c6c3" />
<circle cx="549.76" cy="362.08" r="5.6" fill="#93c6c3" />
<path d="M210.2 356 L223.2 347 L235.7 311.4 L249 143.4 L261.6 103.9 L274.2 88 L288.2 122.2 L300.5 253 L313.9 347 L326.8 350" stroke="#93c6c3" fill="none" stroke-width="1.9" stroke-linejoin="round"/>
<circle cx="210.2" cy="356" r="5.6" fill="#93c6c3" />
<circle cx="223.2" cy="347" r="5.6" fill="#93c6c3" />
<circle cx="235.7" cy="311.4" r="5.6" fill="#93c6c3" />
<circle cx="249" cy="143.4" r="5.6" fill="#93c6c3" />
<circle cx="261.6" cy="103.9" r="5.6" fill="#93c6c3" />
<circle cx="274.2" cy="88" r="5.6" fill="#93c6c3" />
<circle cx="288.2" cy="122.2" r="5.6" fill="#93c6c3" />
<circle cx="300.5" cy="253" r="5.6" fill="#93c6c3" />
<circle cx="313.9" cy="347" r="5.6" fill="#93c6c3" />
<circle cx="326.8" cy="350" r="5.6" fill="#93c6c3" />
<path d="M456 356 L469.1 252.3 L482.1 131.1 L495.3 89 L508.6 54.8 L521.9 70.4 L534.5 150.4 L548.5 191.6 L561.1 418.3 L572.7 349.6 L585.6 362 L598.6 362 L611.5 362 L624 362" stroke="#93c6c3" fill="none" stroke-width="1.9" stroke-linejoin="round"/>
<circle cx="456" cy="356" r="5.6" fill="#93c6c3" />
<circle cx="469.1" cy="252.3" r="5.6" fill="#93c6c3" />
<circle cx="482.1" cy="131.1" r="5.6" fill="#93c6c3" />
<circle cx="495.3" cy="89" r="5.6" fill="#93c6c3" />
<circle cx="508.6" cy="54.8" r="5.6" fill="#93c6c3" />
<circle cx="521.9" cy="70.4" r="5.6" fill="#93c6c3" />
<circle cx="534.5" cy="150.4" r="5.6" fill="#93c6c3" />
<circle cx="548.5" cy="191.6" r="5.6" fill="#93c6c3" />
<circle cx="561.1" cy="418.3" r="5.6" fill="#93c6c3" />
<circle cx="572.7" cy="349.6" r="5.6" fill="#93c6c3" />
<circle cx="585.6" cy="362" r="5.6" fill="#93c6c3" />
<circle cx="598.6" cy="362" r="5.6" fill="#93c6c3" />
<circle cx="611.5" cy="362" r="5.6" fill="#93c6c3" />
<circle cx="624" cy="362" r="5.6" fill="#93c6c3" />
<path d="M210.2 365.09 L223.16 363.69 L236.12 364.96 L249.08 365.11 L262.04 364.92 L275 364.46 L287.96 365.45 L300.92 363.53 L313.88 365.5 L326.84 364.36 L339.8 363.75 L352.76 363.78 L365.72 364.06 L378.68 364.96 L391.64 364.01 L404.6 364.29 L417.56 364.7 L430.52 363.82 L443.48 364.45 L456.44 363.71 L469.4 364.07 L482.36 363.64 L495.32 364.45 L508.28 364.42 L521.24 365.27" stroke="#1f2c62" fill="none" stroke-width="1.9" stroke-linejoin="round"/>
<circle cx="210.2" cy="365.09" r="5.4" fill="#1f2c62" />
<circle cx="223.16" cy="363.69" r="5.4" fill="#1f2c62" />
<circle cx="236.12" cy="364.96" r="5.4" fill="#1f2c62" />
<circle cx="249.08" cy="365.11" r="5.4" fill="#1f2c62" />
<circle cx="262.04" cy="364.92" r="5.4" fill="#1f2c62" />
<circle cx="275" cy="364.46" r="5.4" fill="#1f2c62" />
<circle cx="287.96" cy="365.45" r="5.4" fill="#1f2c62" />
<circle cx="300.92" cy="363.53" r="5.4" fill="#1f2c62" />
<circle cx="313.88" cy="365.5" r="5.4" fill="#1f2c62" />
<circle cx="326.84" cy="364.36" r="5.4" fill="#1f2c62" />
<circle cx="339.8" cy="363.75" r="5.4" fill="#1f2c62" />
<circle cx="352.76" cy="363.78" r="5.4" fill="#1f2c62" />
<circle cx="365.72" cy="364.06" r="5.4" fill="#1f2c62" />
<circle cx="378.68" cy="364.96" r="5.4" fill="#1f2c62" />
<circle cx="391.64" cy="364.01" r="5.4" fill="#1f2c62" />
<circle cx="404.6" cy="364.29" r="5.4" fill="#1f2c62" />
<circle cx="417.56" cy="364.7" r="5.4" fill="#1f2c62" />
<circle cx="430.52" cy="363.82" r="5.4" fill="#1f2c62" />
<circle cx="443.48" cy="364.45" r="5.4" fill="#1f2c62" />
<circle cx="456.44" cy="363.71" r="5.4" fill="#1f2c62" />
<circle cx="469.4" cy="364.07" r="5.4" fill="#1f2c62" />
<circle cx="482.36" cy="363.64" r="5.4" fill="#1f2c62" />
<circle cx="495.32" cy="364.45" r="5.4" fill="#1f2c62" />
<circle cx="508.28" cy="364.42" r="5.4" fill="#1f2c62" />
<circle cx="521.24" cy="365.27" r="5.4" fill="#1f2c62" />
<path d="M210.2 356.02 L223.16 357.32 L236.12 358.61 L249.08 359.91 L262.04 361.05 L275 361.43 L287.96 359.95 L300.92 361.74 L313.88 361.05 L326.84 361.66 L339.8 360.3 L352.76 361.26 L365.72 360.2 L378.68 362.36 L391.64 361.62 L404.6 362.06 L417.56 360.3 L430.52 358.89 L443.48 358.18 L456.44 356.71 L469.4 356.11 L482.36 355.12 L495.32 352.91 L508.28 351.96 L521.24 349.98" stroke="#1f2c62" fill="none" stroke-width="1.9" stroke-linejoin="round"/>
<circle cx="210.2" cy="356.02" r="5.4" fill="#1f2c62" />
<circle cx="223.16" cy="357.32" r="5.4" fill="#1f2c62" />
<circle cx="236.12" cy="358.61" r="5.4" fill="#1f2c62" />
<circle cx="249.08" cy="359.91" r="5.4" fill="#1f2c62" />
<circle cx="262.04" cy="361.05" r="5.4" fill="#1f2c62" />
<circle cx="275" cy="361.43" r="5.4" fill="#1f2c62" />
<circle cx="287.96" cy="359.95" r="5.4" fill="#1f2c62" />
<circle cx="300.92" cy="361.74" r="5.4" fill="#1f2c62" />
<circle cx="313.88" cy="361.05" r="5.4" fill="#1f2c62" />
<circle cx="326.84" cy="361.66" r="5.4" fill="#1f2c62" />
<circle cx="339.8" cy="360.3" r="5.4" fill="#1f2c62" />
<circle cx="352.76" cy="361.26" r="5.4" fill="#1f2c62" />
<circle cx="365.72" cy="360.2" r="5.4" fill="#1f2c62" />
<circle cx="378.68" cy="362.36" r="5.4" fill="#1f2c62" />
<circle cx="391.64" cy="361.62" r="5.4" fill="#1f2c62" />
<circle cx="404.6" cy="362.06" r="5.4" fill="#1f2c62" />
<circle cx="417.56" cy="360.3" r="5.4" fill="#1f2c62" />
<circle cx="430.52" cy="358.89" r="5.4" fill="#1f2c62" />
<circle cx="443.48" cy="358.18" r="5.4" fill="#1f2c62" />
<circle cx="456.44" cy="356.71" r="5.4" fill="#1f2c62" />
<circle cx="469.4" cy="356.11" r="5.4" fill="#1f2c62" />
<circle cx="482.36" cy="355.12" r="5.4" fill="#1f2c62" />
<circle cx="495.32" cy="352.91" r="5.4" fill="#1f2c62" />
<circle cx="508.28" cy="351.96" r="5.4" fill="#1f2c62" />
<circle cx="521.24" cy="349.98" r="5.4" fill="#1f2c62" />
<path d="M262 364 L274.9 408.4 L288.8 177.6 L301.1 102.3 L313.7 75.7 L327 143.4 L339.3 316.1 L353.6 365.2 L365.2 291.2 L378.5 188.6 L391.8 129.5 L405.1 64.1 L418.3 69.1 L431 87.3 L444.2 148.4 L457.5 261.6 L469.7 416 L482.2 363" stroke="#1f2c62" fill="none" stroke-width="1.9" stroke-linejoin="round"/>
<circle cx="262" cy="364" r="5.4" fill="#1f2c62" />
<circle cx="274.9" cy="408.4" r="5.4" fill="#1f2c62" />
<circle cx="288.8" cy="177.6" r="5.4" fill="#1f2c62" />
<circle cx="301.1" cy="102.3" r="5.4" fill="#1f2c62" />
<circle cx="313.7" cy="75.7" r="5.4" fill="#1f2c62" />
<circle cx="327" cy="143.4" r="5.4" fill="#1f2c62" />
<circle cx="339.3" cy="316.1" r="5.4" fill="#1f2c62" />
<circle cx="353.6" cy="365.2" r="5.4" fill="#1f2c62" />
<circle cx="365.2" cy="291.2" r="5.4" fill="#1f2c62" />
<circle cx="378.5" cy="188.6" r="5.4" fill="#1f2c62" />
<circle cx="391.8" cy="129.5" r="5.4" fill="#1f2c62" />
<circle cx="405.1" cy="64.1" r="5.4" fill="#1f2c62" />
<circle cx="418.3" cy="69.1" r="5.4" fill="#1f2c62" />
<circle cx="431" cy="87.3" r="5.4" fill="#1f2c62" />
<circle cx="444.2" cy="148.4" r="5.4" fill="#1f2c62" />
<circle cx="457.5" cy="261.6" r="5.4" fill="#1f2c62" />
<circle cx="469.7" cy="416" r="5.4" fill="#1f2c62" />
<circle cx="482.2" cy="363" r="5.4" fill="#1f2c62" />
<path d="M140.69 232.8 L144.42 190.42 L141.39 190.12 L136.71 232.4 Z" stroke="none" fill="#5a5a5a" stroke-width="1" />
<path d="M148.69 204.91 L143.5 184.3 L134.36 203.49" stroke="#5a5a5a" fill="none" stroke-width="3.3" stroke-linejoin="miter" stroke-miterlimit="10" stroke-linecap="butt"/>
<path d="M228.11 181.75 L231.82 223.63 L234.85 223.4 L232.09 181.45 Z" stroke="none" fill="#5a5a5a" stroke-width="1" />
<path d="M225.08 210.11 L233.8 229.5 L239.44 209" stroke="#5a5a5a" fill="none" stroke-width="3.3" stroke-linejoin="miter" stroke-miterlimit="10" stroke-linecap="butt"/>
<path d="M510.82 170.54 L505.77 212.85 L508.78 213.25 L514.78 171.06 Z" stroke="none" fill="#5a5a5a" stroke-width="1" />
<path d="M501.95 198.24 L506.5 219 L516.23 200.1" stroke="#5a5a5a" fill="none" stroke-width="3.3" stroke-linejoin="miter" stroke-miterlimit="10" stroke-linecap="butt"/>
<path d="M613.99 227.63 L609.94 186.84 L606.91 187.11 L610.01 227.97 Z" stroke="none" fill="#5a5a5a" stroke-width="1" />
<path d="M616.82 200.3 L607.9 181 L602.47 201.55" stroke="#5a5a5a" fill="none" stroke-width="3.3" stroke-linejoin="miter" stroke-miterlimit="10" stroke-linecap="butt"/>
</g>
<rect x="106.0" y="30.0" width="519.5" height="389.0" fill="none" stroke="#000" stroke-width="2"/>
<line x1="106" y1="30" x2="113" y2="30" stroke="#000" stroke-width="1.5" />
<line x1="106" y1="84.38" x2="110" y2="84.38" stroke="#000" stroke-width="1.5" />
<line x1="106" y1="70.68" x2="110" y2="70.68" stroke="#000" stroke-width="1.5" />
<line x1="106" y1="60.96" x2="110" y2="60.96" stroke="#000" stroke-width="1.5" />
<line x1="106" y1="53.42" x2="110" y2="53.42" stroke="#000" stroke-width="1.5" />
<line x1="106" y1="47.26" x2="110" y2="47.26" stroke="#000" stroke-width="1.5" />
<line x1="106" y1="42.05" x2="110" y2="42.05" stroke="#000" stroke-width="1.5" />
<line x1="106" y1="37.54" x2="110" y2="37.54" stroke="#000" stroke-width="1.5" />
<line x1="106" y1="33.56" x2="110" y2="33.56" stroke="#000" stroke-width="1.5" />
<line x1="106" y1="107.8" x2="113" y2="107.8" stroke="#000" stroke-width="1.5" />
<line x1="106" y1="162.18" x2="110" y2="162.18" stroke="#000" stroke-width="1.5" />
<line x1="106" y1="148.48" x2="110" y2="148.48" stroke="#000" stroke-width="1.5" />
<line x1="106" y1="138.76" x2="110" y2="138.76" stroke="#000" stroke-width="1.5" />
<line x1="106" y1="131.22" x2="110" y2="131.22" stroke="#000" stroke-width="1.5" />
<line x1="106" y1="125.06" x2="110" y2="125.06" stroke="#000" stroke-width="1.5" />
<line x1="106" y1="119.85" x2="110" y2="119.85" stroke="#000" stroke-width="1.5" />
<line x1="106" y1="115.34" x2="110" y2="115.34" stroke="#000" stroke-width="1.5" />
<line x1="106" y1="111.36" x2="110" y2="111.36" stroke="#000" stroke-width="1.5" />
<line x1="106" y1="185.6" x2="113" y2="185.6" stroke="#000" stroke-width="1.5" />
<line x1="106" y1="239.98" x2="110" y2="239.98" stroke="#000" stroke-width="1.5" />
<line x1="106" y1="226.28" x2="110" y2="226.28" stroke="#000" stroke-width="1.5" />
<line x1="106" y1="216.56" x2="110" y2="216.56" stroke="#000" stroke-width="1.5" />
<line x1="106" y1="209.02" x2="110" y2="209.02" stroke="#000" stroke-width="1.5" />
<line x1="106" y1="202.86" x2="110" y2="202.86" stroke="#000" stroke-width="1.5" />
<line x1="106" y1="197.65" x2="110" y2="197.65" stroke="#000" stroke-width="1.5" />
<line x1="106" y1="193.14" x2="110" y2="193.14" stroke="#000" stroke-width="1.5" />
<line x1="106" y1="189.16" x2="110" y2="189.16" stroke="#000" stroke-width="1.5" />
<line x1="106" y1="263.4" x2="113" y2="263.4" stroke="#000" stroke-width="1.5" />
<line x1="106" y1="317.78" x2="110" y2="317.78" stroke="#000" stroke-width="1.5" />
<line x1="106" y1="304.08" x2="110" y2="304.08" stroke="#000" stroke-width="1.5" />
<line x1="106" y1="294.36" x2="110" y2="294.36" stroke="#000" stroke-width="1.5" />
<line x1="106" y1="286.82" x2="110" y2="286.82" stroke="#000" stroke-width="1.5" />
<line x1="106" y1="280.66" x2="110" y2="280.66" stroke="#000" stroke-width="1.5" />
<line x1="106" y1="275.45" x2="110" y2="275.45" stroke="#000" stroke-width="1.5" />
<line x1="106" y1="270.94" x2="110" y2="270.94" stroke="#000" stroke-width="1.5" />
<line x1="106" y1="266.96" x2="110" y2="266.96" stroke="#000" stroke-width="1.5" />
<line x1="106" y1="341.2" x2="113" y2="341.2" stroke="#000" stroke-width="1.5" />
<line x1="106" y1="395.58" x2="110" y2="395.58" stroke="#000" stroke-width="1.5" />
<line x1="106" y1="381.88" x2="110" y2="381.88" stroke="#000" stroke-width="1.5" />
<line x1="106" y1="372.16" x2="110" y2="372.16" stroke="#000" stroke-width="1.5" />
<line x1="106" y1="364.62" x2="110" y2="364.62" stroke="#000" stroke-width="1.5" />
<line x1="106" y1="358.46" x2="110" y2="358.46" stroke="#000" stroke-width="1.5" />
<line x1="106" y1="353.25" x2="110" y2="353.25" stroke="#000" stroke-width="1.5" />
<line x1="106" y1="348.74" x2="110" y2="348.74" stroke="#000" stroke-width="1.5" />
<line x1="106" y1="344.76" x2="110" y2="344.76" stroke="#000" stroke-width="1.5" />
<line x1="106" y1="419" x2="113" y2="419" stroke="#000" stroke-width="1.5" />
<line x1="106" y1="419" x2="106" y2="413" stroke="#000" stroke-width="1.6" />
<line x1="235.88" y1="419" x2="235.88" y2="413" stroke="#000" stroke-width="1.6" />
<line x1="365.75" y1="419" x2="365.75" y2="413" stroke="#000" stroke-width="1.6" />
<line x1="495.62" y1="419" x2="495.62" y2="413" stroke="#000" stroke-width="1.6" />
<line x1="625.5" y1="419" x2="625.5" y2="413" stroke="#000" stroke-width="1.6" />
<line x1="170.94" y1="419" x2="170.94" y2="415.5" stroke="#000" stroke-width="1.6" />
<line x1="300.81" y1="419" x2="300.81" y2="415.5" stroke="#000" stroke-width="1.6" />
<line x1="430.69" y1="419" x2="430.69" y2="415.5" stroke="#000" stroke-width="1.6" />
<line x1="560.56" y1="419" x2="560.56" y2="415.5" stroke="#000" stroke-width="1.6" />
<text x="99.5" y="39.8" font-size="26.5" text-anchor="end">10<tspan dy="-9.8" font-size="17.5">−8</tspan></text>
<text x="99.5" y="117.6" font-size="26.5" text-anchor="end">10<tspan dy="-9.8" font-size="17.5">−9</tspan></text>
<text x="99.5" y="195.4" font-size="26.5" text-anchor="end">10<tspan dy="-9.8" font-size="17.5">−10</tspan></text>
<text x="99.5" y="273.2" font-size="26.5" text-anchor="end">10<tspan dy="-9.8" font-size="17.5">−11</tspan></text>
<text x="99.5" y="351" font-size="26.5" text-anchor="end">10<tspan dy="-9.8" font-size="17.5">−12</tspan></text>
<text x="99.5" y="428.8" font-size="26.5" text-anchor="end">10<tspan dy="-9.8" font-size="17.5">−13</tspan></text>
<text x="106" y="452" font-size="26.5" text-anchor="middle"  style="">−10</text>
<text x="235.88" y="452" font-size="26.5" text-anchor="middle"  style="">−5</text>
<text x="365.75" y="452" font-size="26.5" text-anchor="middle"  style="">0</text>
<text x="495.62" y="452" font-size="26.5" text-anchor="middle"  style="">5</text>
<text x="625.5" y="452" font-size="26.5" text-anchor="middle"  style="">10</text>
<text x="363.75" y="492.5" font-size="28" text-anchor="middle"><tspan font-style="italic">V</tspan><tspan font-size="18.5" dy="9.5">GG</tspan><tspan dy="-9.5"> (V)</tspan></text>
<text transform="translate(29.5,223.5) rotate(-90)" font-size="29" text-anchor="middle"><tspan font-style="italic">I</tspan><tspan font-size="19" dy="7">DS</tspan><tspan dy="-7"> (A)</tspan></text>
<text x="9.7" y="21.7" font-size="30" text-anchor="start"  style="">a</text>
<text x="127" y="64" font-size="25.5"><tspan font-style="italic">V</tspan><tspan font-size="16" dy="2.5">D</tspan><tspan dy="-2.5"> = 1 V</tspan></text>
</g>
<g id="pb">
<clipPath id="clipb"><rect x="778.5" y="27.0" width="519.0" height="388.3"/></clipPath>
<g clip-path="url(#clipb)">
<path d="M779 352.3 L784.17 351.6 L789.34 353.6 L794.51 351.29 L799.68 353.14 L804.85 352.46 L810.02 351.23 L815.19 353.03 L820.36 351.15 L825.53 352.73 L830.7 351.28 L835.87 351.36 L841.04 352.7 L846.21 354.31 L851.38 351.5 L856.55 351.89 L861.72 353.51 L866.89 354.79 L872.06 353.31 L877.23 352.59 L882.4 354.91 L887.57 351.19 L892.74 354.43 L897.91 352.16 L903.08 351.58 L908.25 351.47 L913.42 352.23 L918.59 354.26 L923.76 351.72 L928.93 353.33 L934.1 353.56 L939.27 352.49 L944.44 353.19 L949.61 351.25 L954.78 351.24 L959.95 351.82 L965.12 353.72 L970.29 352.71 L975.46 352.26 L980.63 353.34 L985.8 352.81 L992.9 386.5 L996.9 367.8 L1001.4 317.8 L1006.7 269.1 L1012 223.5 L1017.1 181.9 L1021.8 158.3 L1027.3 145.6 L1032.2 133.6 L1037.1 126.3 L1042 120.4 L1047.9 120.4 L1053.2 140.7 L1058.3 175.8 L1063.6 231.4 L1068.9 284.4 L1074 348.2 L1079.3 378.6 L1084.6 361.6 L1090.1 376.7 L1095 425 L1100.3 351.1" stroke="#e45c1e" fill="none" stroke-width="2" stroke-linejoin="round"/>
<circle cx="779" cy="352.3" r="5.3" fill="#e45c1e" />
<circle cx="784.17" cy="351.6" r="5.3" fill="#e45c1e" />
<circle cx="789.34" cy="353.6" r="5.3" fill="#e45c1e" />
<circle cx="794.51" cy="351.29" r="5.3" fill="#e45c1e" />
<circle cx="799.68" cy="353.14" r="5.3" fill="#e45c1e" />
<circle cx="804.85" cy="352.46" r="5.3" fill="#e45c1e" />
<circle cx="810.02" cy="351.23" r="5.3" fill="#e45c1e" />
<circle cx="815.19" cy="353.03" r="5.3" fill="#e45c1e" />
<circle cx="820.36" cy="351.15" r="5.3" fill="#e45c1e" />
<circle cx="825.53" cy="352.73" r="5.3" fill="#e45c1e" />
<circle cx="830.7" cy="351.28" r="5.3" fill="#e45c1e" />
<circle cx="835.87" cy="351.36" r="5.3" fill="#e45c1e" />
<circle cx="841.04" cy="352.7" r="5.3" fill="#e45c1e" />
<circle cx="846.21" cy="354.31" r="5.3" fill="#e45c1e" />
<circle cx="851.38" cy="351.5" r="5.3" fill="#e45c1e" />
<circle cx="856.55" cy="351.89" r="5.3" fill="#e45c1e" />
<circle cx="861.72" cy="353.51" r="5.3" fill="#e45c1e" />
<circle cx="866.89" cy="354.79" r="5.3" fill="#e45c1e" />
<circle cx="872.06" cy="353.31" r="5.3" fill="#e45c1e" />
<circle cx="877.23" cy="352.59" r="5.3" fill="#e45c1e" />
<circle cx="882.4" cy="354.91" r="5.3" fill="#e45c1e" />
<circle cx="887.57" cy="351.19" r="5.3" fill="#e45c1e" />
<circle cx="892.74" cy="354.43" r="5.3" fill="#e45c1e" />
<circle cx="897.91" cy="352.16" r="5.3" fill="#e45c1e" />
<circle cx="903.08" cy="351.58" r="5.3" fill="#e45c1e" />
<circle cx="908.25" cy="351.47" r="5.3" fill="#e45c1e" />
<circle cx="913.42" cy="352.23" r="5.3" fill="#e45c1e" />
<circle cx="918.59" cy="354.26" r="5.3" fill="#e45c1e" />
<circle cx="923.76" cy="351.72" r="5.3" fill="#e45c1e" />
<circle cx="928.93" cy="353.33" r="5.3" fill="#e45c1e" />
<circle cx="934.1" cy="353.56" r="5.3" fill="#e45c1e" />
<circle cx="939.27" cy="352.49" r="5.3" fill="#e45c1e" />
<circle cx="944.44" cy="353.19" r="5.3" fill="#e45c1e" />
<circle cx="949.61" cy="351.25" r="5.3" fill="#e45c1e" />
<circle cx="954.78" cy="351.24" r="5.3" fill="#e45c1e" />
<circle cx="959.95" cy="351.82" r="5.3" fill="#e45c1e" />
<circle cx="965.12" cy="353.72" r="5.3" fill="#e45c1e" />
<circle cx="970.29" cy="352.71" r="5.3" fill="#e45c1e" />
<circle cx="975.46" cy="352.26" r="5.3" fill="#e45c1e" />
<circle cx="980.63" cy="353.34" r="5.3" fill="#e45c1e" />
<circle cx="985.8" cy="352.81" r="5.3" fill="#e45c1e" />
<circle cx="992.9" cy="386.5" r="5.3" fill="#e45c1e" />
<circle cx="996.9" cy="367.8" r="5.3" fill="#e45c1e" />
<circle cx="1001.4" cy="317.8" r="5.3" fill="#e45c1e" />
<circle cx="1006.7" cy="269.1" r="5.3" fill="#e45c1e" />
<circle cx="1012" cy="223.5" r="5.3" fill="#e45c1e" />
<circle cx="1017.1" cy="181.9" r="5.3" fill="#e45c1e" />
<circle cx="1021.8" cy="158.3" r="5.3" fill="#e45c1e" />
<circle cx="1027.3" cy="145.6" r="5.3" fill="#e45c1e" />
<circle cx="1032.2" cy="133.6" r="5.3" fill="#e45c1e" />
<circle cx="1037.1" cy="126.3" r="5.3" fill="#e45c1e" />
<circle cx="1042" cy="120.4" r="5.3" fill="#e45c1e" />
<circle cx="1047.9" cy="120.4" r="5.3" fill="#e45c1e" />
<circle cx="1053.2" cy="140.7" r="5.3" fill="#e45c1e" />
<circle cx="1058.3" cy="175.8" r="5.3" fill="#e45c1e" />
<circle cx="1063.6" cy="231.4" r="5.3" fill="#e45c1e" />
<circle cx="1068.9" cy="284.4" r="5.3" fill="#e45c1e" />
<circle cx="1074" cy="348.2" r="5.3" fill="#e45c1e" />
<circle cx="1079.3" cy="378.6" r="5.3" fill="#e45c1e" />
<circle cx="1084.6" cy="361.6" r="5.3" fill="#e45c1e" />
<circle cx="1090.1" cy="376.7" r="5.3" fill="#e45c1e" />
<circle cx="1095" cy="425" r="5.3" fill="#e45c1e" />
<circle cx="1100.3" cy="351.1" r="5.3" fill="#e45c1e" />
<path d="M779 354.2 L784.17 356.18 L789.34 355.8 L794.51 353.98 L799.68 355.3 L804.85 355.1 L810.02 356.5 L815.19 355.92 L820.36 354.15 L825.53 356.92 L830.7 353.47 L835.87 354.67 L841.04 356.03 L846.21 353.61 L851.38 354.96 L856.55 353.16 L861.72 355.67 L866.89 356.06 L872.06 355.29 L877.23 356.5 L882.4 354.25 L887.57 355.78 L892.74 355.38 L897.91 355.32 L903.08 354.82 L908.25 356.36 L913.42 356.78 L918.59 354.9 L923.76 355.66 L928.93 353.24 L934.1 355.81 L939.27 355.59 L945.2 345.7 L949.3 264.2 L955.3 210 L960 171 L965.3 156.2 L970.6 143.2 L975.6 131.1 L980.7 123.1 L986 119.6 L991.1 133.5 L996.3 171.8 L1001.4 229.8 L1006.7 287.3 L1011.6 357 L1016.5 370.8 L1021.8 358 L1026.7 383.5 L1032.2 388.5 L1037.5 344.3" stroke="#c8694a" fill="none" stroke-width="2" stroke-linejoin="round"/>
<circle cx="779" cy="354.2" r="5.3" fill="#c8694a" />
<circle cx="784.17" cy="356.18" r="5.3" fill="#c8694a" />
<circle cx="789.34" cy="355.8" r="5.3" fill="#c8694a" />
<circle cx="794.51" cy="353.98" r="5.3" fill="#c8694a" />
<circle cx="799.68" cy="355.3" r="5.3" fill="#c8694a" />
<circle cx="804.85" cy="355.1" r="5.3" fill="#c8694a" />
<circle cx="810.02" cy="356.5" r="5.3" fill="#c8694a" />
<circle cx="815.19" cy="355.92" r="5.3" fill="#c8694a" />
<circle cx="820.36" cy="354.15" r="5.3" fill="#c8694a" />
<circle cx="825.53" cy="356.92" r="5.3" fill="#c8694a" />
<circle cx="830.7" cy="353.47" r="5.3" fill="#c8694a" />
<circle cx="835.87" cy="354.67" r="5.3" fill="#c8694a" />
<circle cx="841.04" cy="356.03" r="5.3" fill="#c8694a" />
<circle cx="846.21" cy="353.61" r="5.3" fill="#c8694a" />
<circle cx="851.38" cy="354.96" r="5.3" fill="#c8694a" />
<circle cx="856.55" cy="353.16" r="5.3" fill="#c8694a" />
<circle cx="861.72" cy="355.67" r="5.3" fill="#c8694a" />
<circle cx="866.89" cy="356.06" r="5.3" fill="#c8694a" />
<circle cx="872.06" cy="355.29" r="5.3" fill="#c8694a" />
<circle cx="877.23" cy="356.5" r="5.3" fill="#c8694a" />
<circle cx="882.4" cy="354.25" r="5.3" fill="#c8694a" />
<circle cx="887.57" cy="355.78" r="5.3" fill="#c8694a" />
<circle cx="892.74" cy="355.38" r="5.3" fill="#c8694a" />
<circle cx="897.91" cy="355.32" r="5.3" fill="#c8694a" />
<circle cx="903.08" cy="354.82" r="5.3" fill="#c8694a" />
<circle cx="908.25" cy="356.36" r="5.3" fill="#c8694a" />
<circle cx="913.42" cy="356.78" r="5.3" fill="#c8694a" />
<circle cx="918.59" cy="354.9" r="5.3" fill="#c8694a" />
<circle cx="923.76" cy="355.66" r="5.3" fill="#c8694a" />
<circle cx="928.93" cy="353.24" r="5.3" fill="#c8694a" />
<circle cx="934.1" cy="355.81" r="5.3" fill="#c8694a" />
<circle cx="939.27" cy="355.59" r="5.3" fill="#c8694a" />
<circle cx="945.2" cy="345.7" r="5.3" fill="#c8694a" />
<circle cx="949.3" cy="264.2" r="5.3" fill="#c8694a" />
<circle cx="955.3" cy="210" r="5.3" fill="#c8694a" />
<circle cx="960" cy="171" r="5.3" fill="#c8694a" />
<circle cx="965.3" cy="156.2" r="5.3" fill="#c8694a" />
<circle cx="970.6" cy="143.2" r="5.3" fill="#c8694a" />
<circle cx="975.6" cy="131.1" r="5.3" fill="#c8694a" />
<circle cx="980.7" cy="123.1" r="5.3" fill="#c8694a" />
<circle cx="986" cy="119.6" r="5.3" fill="#c8694a" />
<circle cx="991.1" cy="133.5" r="5.3" fill="#c8694a" />
<circle cx="996.3" cy="171.8" r="5.3" fill="#c8694a" />
<circle cx="1001.4" cy="229.8" r="5.3" fill="#c8694a" />
<circle cx="1006.7" cy="287.3" r="5.3" fill="#c8694a" />
<circle cx="1011.6" cy="357" r="5.3" fill="#c8694a" />
<circle cx="1016.5" cy="370.8" r="5.3" fill="#c8694a" />
<circle cx="1021.8" cy="358" r="5.3" fill="#c8694a" />
<circle cx="1026.7" cy="383.5" r="5.3" fill="#c8694a" />
<circle cx="1032.2" cy="388.5" r="5.3" fill="#c8694a" />
<circle cx="1037.5" cy="344.3" r="5.3" fill="#c8694a" />
<path d="M779 358.17 L784.17 357.42 L789.34 355.05 L794.51 355.5 L799.68 356.74 L804.85 353.9 L810.02 355.83 L815.19 354.54 L820.36 354.32 L825.53 354.06 L830.7 357.18 L835.87 354.37 L841.04 354.89 L846.21 355.52 L851.38 357.63 L856.55 354.15 L861.72 355.78 L866.89 356.22 L872.06 357.69 L877.23 357.4 L882.4 357.6 L892 360 L897.3 290.8 L903 232.4 L908.3 186.3 L913.5 167.2 L918.6 153 L924.5 143.2 L929.3 134.7 L934 128.4 L939.3 131.4 L944.6 161.5 L949.9 217.1 L954.7 276 L960 337.2 L965.3 381.2 L970 361.1 L975.9 368.2 L978.3 425 L986 351.7 L990 425" stroke="#a67c7b" fill="none" stroke-width="2" stroke-linejoin="round"/>
<circle cx="779" cy="358.17" r="5.3" fill="#a67c7b" />
<circle cx="784.17" cy="357.42" r="5.3" fill="#a67c7b" />
<circle cx="789.34" cy="355.05" r="5.3" fill="#a67c7b" />
<circle cx="794.51" cy="355.5" r="5.3" fill="#a67c7b" />
<circle cx="799.68" cy="356.74" r="5.3" fill="#a67c7b" />
<circle cx="804.85" cy="353.9" r="5.3" fill="#a67c7b" />
<circle cx="810.02" cy="355.83" r="5.3" fill="#a67c7b" />
<circle cx="815.19" cy="354.54" r="5.3" fill="#a67c7b" />
<circle cx="820.36" cy="354.32" r="5.3" fill="#a67c7b" />
<circle cx="825.53" cy="354.06" r="5.3" fill="#a67c7b" />
<circle cx="830.7" cy="357.18" r="5.3" fill="#a67c7b" />
<circle cx="835.87" cy="354.37" r="5.3" fill="#a67c7b" />
<circle cx="841.04" cy="354.89" r="5.3" fill="#a67c7b" />
<circle cx="846.21" cy="355.52" r="5.3" fill="#a67c7b" />
<circle cx="851.38" cy="357.63" r="5.3" fill="#a67c7b" />
<circle cx="856.55" cy="354.15" r="5.3" fill="#a67c7b" />
<circle cx="861.72" cy="355.78" r="5.3" fill="#a67c7b" />
<circle cx="866.89" cy="356.22" r="5.3" fill="#a67c7b" />
<circle cx="872.06" cy="357.69" r="5.3" fill="#a67c7b" />
<circle cx="877.23" cy="357.4" r="5.3" fill="#a67c7b" />
<circle cx="882.4" cy="357.6" r="5.3" fill="#a67c7b" />
<circle cx="892" cy="360" r="5.3" fill="#a67c7b" />
<circle cx="897.3" cy="290.8" r="5.3" fill="#a67c7b" />
<circle cx="903" cy="232.4" r="5.3" fill="#a67c7b" />
<circle cx="908.3" cy="186.3" r="5.3" fill="#a67c7b" />
<circle cx="913.5" cy="167.2" r="5.3" fill="#a67c7b" />
<circle cx="918.6" cy="153" r="5.3" fill="#a67c7b" />
<circle cx="924.5" cy="143.2" r="5.3" fill="#a67c7b" />
<circle cx="929.3" cy="134.7" r="5.3" fill="#a67c7b" />
<circle cx="934" cy="128.4" r="5.3" fill="#a67c7b" />
<circle cx="939.3" cy="131.4" r="5.3" fill="#a67c7b" />
<circle cx="944.6" cy="161.5" r="5.3" fill="#a67c7b" />
<circle cx="949.9" cy="217.1" r="5.3" fill="#a67c7b" />
<circle cx="954.7" cy="276" r="5.3" fill="#a67c7b" />
<circle cx="960" cy="337.2" r="5.3" fill="#a67c7b" />
<circle cx="965.3" cy="381.2" r="5.3" fill="#a67c7b" />
<circle cx="970" cy="361.1" r="5.3" fill="#a67c7b" />
<circle cx="975.9" cy="368.2" r="5.3" fill="#a67c7b" />
<circle cx="978.3" cy="425" r="5.3" fill="#a67c7b" />
<circle cx="986" cy="351.7" r="5.3" fill="#a67c7b" />
<circle cx="990" cy="425" r="5.3" fill="#a67c7b" />
<path d="M779 357.34 L784.17 358.47 L789.34 359.02 L794.51 361.32 L799.68 362.27 L804.85 360.57 L810.02 361.37 L815.19 362.26 L820.36 362.99 L825.53 364.47 L830.7 365.51 L835.87 365.25 L840.6 367 L845.9 275.4 L851.2 222 L856.2 179.2 L861.5 161.5 L867 148.3 L871.9 139.6 L876.9 133.7 L882 130.2 L887.3 148.3 L892.4 194.3 L897.9 253.7 L902.7 316.2 L907 425 L913.9 358.2 L918.6 368.8 L923.5 425 L928.7 353.4 L933 425" stroke="#8589ab" fill="none" stroke-width="2" stroke-linejoin="round"/>
<circle cx="779" cy="357.34" r="5.3" fill="#8589ab" />
<circle cx="784.17" cy="358.47" r="5.3" fill="#8589ab" />
<circle cx="789.34" cy="359.02" r="5.3" fill="#8589ab" />
<circle cx="794.51" cy="361.32" r="5.3" fill="#8589ab" />
<circle cx="799.68" cy="362.27" r="5.3" fill="#8589ab" />
<circle cx="804.85" cy="360.57" r="5.3" fill="#8589ab" />
<circle cx="810.02" cy="361.37" r="5.3" fill="#8589ab" />
<circle cx="815.19" cy="362.26" r="5.3" fill="#8589ab" />
<circle cx="820.36" cy="362.99" r="5.3" fill="#8589ab" />
<circle cx="825.53" cy="364.47" r="5.3" fill="#8589ab" />
<circle cx="830.7" cy="365.51" r="5.3" fill="#8589ab" />
<circle cx="835.87" cy="365.25" r="5.3" fill="#8589ab" />
<circle cx="840.6" cy="367" r="5.3" fill="#8589ab" />
<circle cx="845.9" cy="275.4" r="5.3" fill="#8589ab" />
<circle cx="851.2" cy="222" r="5.3" fill="#8589ab" />
<circle cx="856.2" cy="179.2" r="5.3" fill="#8589ab" />
<circle cx="861.5" cy="161.5" r="5.3" fill="#8589ab" />
<circle cx="867" cy="148.3" r="5.3" fill="#8589ab" />
<circle cx="871.9" cy="139.6" r="5.3" fill="#8589ab" />
<circle cx="876.9" cy="133.7" r="5.3" fill="#8589ab" />
<circle cx="882" cy="130.2" r="5.3" fill="#8589ab" />
<circle cx="887.3" cy="148.3" r="5.3" fill="#8589ab" />
<circle cx="892.4" cy="194.3" r="5.3" fill="#8589ab" />
<circle cx="897.9" cy="253.7" r="5.3" fill="#8589ab" />
<circle cx="902.7" cy="316.2" r="5.3" fill="#8589ab" />
<circle cx="907" cy="425" r="5.3" fill="#8589ab" />
<circle cx="913.9" cy="358.2" r="5.3" fill="#8589ab" />
<circle cx="918.6" cy="368.8" r="5.3" fill="#8589ab" />
<circle cx="923.5" cy="425" r="5.3" fill="#8589ab" />
<circle cx="928.7" cy="353.4" r="5.3" fill="#8589ab" />
<circle cx="933" cy="425" r="5.3" fill="#8589ab" />
<path d="M779.5 352 L784.7 354 L789.8 351 L795 360 L799.6 345.7 L805.1 262 L809.9 210 L814.6 175.7 L819.3 154.4 L825.6 147.3 L830.6 131.4 L835.5 122.5 L840.6 128.4 L845.9 165.7 L851.2 222.4 L856.6 292 L861.3 370.6 L867.2 363.5 L871.9 355.2 L876.7 387.1 L882 382.4 L887.3 338.7" stroke="#5f99d4" fill="none" stroke-width="2" stroke-linejoin="round"/>
<circle cx="779.5" cy="352" r="5.3" fill="#5f99d4" />
<circle cx="784.7" cy="354" r="5.3" fill="#5f99d4" />
<circle cx="789.8" cy="351" r="5.3" fill="#5f99d4" />
<circle cx="795" cy="360" r="5.3" fill="#5f99d4" />
<circle cx="799.6" cy="345.7" r="5.3" fill="#5f99d4" />
<circle cx="805.1" cy="262" r="5.3" fill="#5f99d4" />
<circle cx="809.9" cy="210" r="5.3" fill="#5f99d4" />
<circle cx="814.6" cy="175.7" r="5.3" fill="#5f99d4" />
<circle cx="819.3" cy="154.4" r="5.3" fill="#5f99d4" />
<circle cx="825.6" cy="147.3" r="5.3" fill="#5f99d4" />
<circle cx="830.6" cy="131.4" r="5.3" fill="#5f99d4" />
<circle cx="835.5" cy="122.5" r="5.3" fill="#5f99d4" />
<circle cx="840.6" cy="128.4" r="5.3" fill="#5f99d4" />
<circle cx="845.9" cy="165.7" r="5.3" fill="#5f99d4" />
<circle cx="851.2" cy="222.4" r="5.3" fill="#5f99d4" />
<circle cx="856.6" cy="292" r="5.3" fill="#5f99d4" />
<circle cx="861.3" cy="370.6" r="5.3" fill="#5f99d4" />
<circle cx="867.2" cy="363.5" r="5.3" fill="#5f99d4" />
<circle cx="871.9" cy="355.2" r="5.3" fill="#5f99d4" />
<circle cx="876.7" cy="387.1" r="5.3" fill="#5f99d4" />
<circle cx="882" cy="382.4" r="5.3" fill="#5f99d4" />
<circle cx="887.3" cy="338.7" r="5.3" fill="#5f99d4" />
</g>
<rect x="778.5" y="27.0" width="519.0" height="388.3" fill="none" stroke="#000" stroke-width="2"/>
<line x1="778.5" y1="27" x2="785.5" y2="27" stroke="#000" stroke-width="1.5" />
<line x1="778.5" y1="81.28" x2="782.5" y2="81.28" stroke="#000" stroke-width="1.5" />
<line x1="778.5" y1="67.61" x2="782.5" y2="67.61" stroke="#000" stroke-width="1.5" />
<line x1="778.5" y1="57.9" x2="782.5" y2="57.9" stroke="#000" stroke-width="1.5" />
<line x1="778.5" y1="50.38" x2="782.5" y2="50.38" stroke="#000" stroke-width="1.5" />
<line x1="778.5" y1="44.23" x2="782.5" y2="44.23" stroke="#000" stroke-width="1.5" />
<line x1="778.5" y1="39.03" x2="782.5" y2="39.03" stroke="#000" stroke-width="1.5" />
<line x1="778.5" y1="34.53" x2="782.5" y2="34.53" stroke="#000" stroke-width="1.5" />
<line x1="778.5" y1="30.55" x2="782.5" y2="30.55" stroke="#000" stroke-width="1.5" />
<line x1="778.5" y1="104.66" x2="785.5" y2="104.66" stroke="#000" stroke-width="1.5" />
<line x1="778.5" y1="158.94" x2="782.5" y2="158.94" stroke="#000" stroke-width="1.5" />
<line x1="778.5" y1="145.27" x2="782.5" y2="145.27" stroke="#000" stroke-width="1.5" />
<line x1="778.5" y1="135.56" x2="782.5" y2="135.56" stroke="#000" stroke-width="1.5" />
<line x1="778.5" y1="128.04" x2="782.5" y2="128.04" stroke="#000" stroke-width="1.5" />
<line x1="778.5" y1="121.89" x2="782.5" y2="121.89" stroke="#000" stroke-width="1.5" />
<line x1="778.5" y1="116.69" x2="782.5" y2="116.69" stroke="#000" stroke-width="1.5" />
<line x1="778.5" y1="112.19" x2="782.5" y2="112.19" stroke="#000" stroke-width="1.5" />
<line x1="778.5" y1="108.21" x2="782.5" y2="108.21" stroke="#000" stroke-width="1.5" />
<line x1="778.5" y1="182.32" x2="785.5" y2="182.32" stroke="#000" stroke-width="1.5" />
<line x1="778.5" y1="236.6" x2="782.5" y2="236.6" stroke="#000" stroke-width="1.5" />
<line x1="778.5" y1="222.93" x2="782.5" y2="222.93" stroke="#000" stroke-width="1.5" />
<line x1="778.5" y1="213.22" x2="782.5" y2="213.22" stroke="#000" stroke-width="1.5" />
<line x1="778.5" y1="205.7" x2="782.5" y2="205.7" stroke="#000" stroke-width="1.5" />
<line x1="778.5" y1="199.55" x2="782.5" y2="199.55" stroke="#000" stroke-width="1.5" />
<line x1="778.5" y1="194.35" x2="782.5" y2="194.35" stroke="#000" stroke-width="1.5" />
<line x1="778.5" y1="189.85" x2="782.5" y2="189.85" stroke="#000" stroke-width="1.5" />
<line x1="778.5" y1="185.87" x2="782.5" y2="185.87" stroke="#000" stroke-width="1.5" />
<line x1="778.5" y1="259.98" x2="785.5" y2="259.98" stroke="#000" stroke-width="1.5" />
<line x1="778.5" y1="314.26" x2="782.5" y2="314.26" stroke="#000" stroke-width="1.5" />
<line x1="778.5" y1="300.59" x2="782.5" y2="300.59" stroke="#000" stroke-width="1.5" />
<line x1="778.5" y1="290.88" x2="782.5" y2="290.88" stroke="#000" stroke-width="1.5" />
<line x1="778.5" y1="283.36" x2="782.5" y2="283.36" stroke="#000" stroke-width="1.5" />
<line x1="778.5" y1="277.21" x2="782.5" y2="277.21" stroke="#000" stroke-width="1.5" />
<line x1="778.5" y1="272.01" x2="782.5" y2="272.01" stroke="#000" stroke-width="1.5" />
<line x1="778.5" y1="267.51" x2="782.5" y2="267.51" stroke="#000" stroke-width="1.5" />
<line x1="778.5" y1="263.53" x2="782.5" y2="263.53" stroke="#000" stroke-width="1.5" />
<line x1="778.5" y1="337.64" x2="785.5" y2="337.64" stroke="#000" stroke-width="1.5" />
<line x1="778.5" y1="391.92" x2="782.5" y2="391.92" stroke="#000" stroke-width="1.5" />
<line x1="778.5" y1="378.25" x2="782.5" y2="378.25" stroke="#000" stroke-width="1.5" />
<line x1="778.5" y1="368.54" x2="782.5" y2="368.54" stroke="#000" stroke-width="1.5" />
<line x1="778.5" y1="361.02" x2="782.5" y2="361.02" stroke="#000" stroke-width="1.5" />
<line x1="778.5" y1="354.87" x2="782.5" y2="354.87" stroke="#000" stroke-width="1.5" />
<line x1="778.5" y1="349.67" x2="782.5" y2="349.67" stroke="#000" stroke-width="1.5" />
<line x1="778.5" y1="345.17" x2="782.5" y2="345.17" stroke="#000" stroke-width="1.5" />
<line x1="778.5" y1="341.19" x2="782.5" y2="341.19" stroke="#000" stroke-width="1.5" />
<line x1="778.5" y1="415.3" x2="785.5" y2="415.3" stroke="#000" stroke-width="1.5" />
<line x1="805.2" y1="415.3" x2="805.2" y2="409.3" stroke="#000" stroke-width="1.6" />
<line x1="934.5" y1="415.3" x2="934.5" y2="409.3" stroke="#000" stroke-width="1.6" />
<line x1="1063.8" y1="415.3" x2="1063.8" y2="409.3" stroke="#000" stroke-width="1.6" />
<line x1="1193.1" y1="415.3" x2="1193.1" y2="409.3" stroke="#000" stroke-width="1.6" />
<line x1="869.85" y1="415.3" x2="869.85" y2="411.8" stroke="#000" stroke-width="1.6" />
<line x1="999.15" y1="415.3" x2="999.15" y2="411.8" stroke="#000" stroke-width="1.6" />
<line x1="1128.45" y1="415.3" x2="1128.45" y2="411.8" stroke="#000" stroke-width="1.6" />
<line x1="1257.75" y1="415.3" x2="1257.75" y2="411.8" stroke="#000" stroke-width="1.6" />
<text x="772" y="36.8" font-size="26.5" text-anchor="end">10<tspan dy="-9.8" font-size="17.5">−8</tspan></text>
<text x="772" y="114.46" font-size="26.5" text-anchor="end">10<tspan dy="-9.8" font-size="17.5">−9</tspan></text>
<text x="772" y="192.12" font-size="26.5" text-anchor="end">10<tspan dy="-9.8" font-size="17.5">−10</tspan></text>
<text x="772" y="269.78" font-size="26.5" text-anchor="end">10<tspan dy="-9.8" font-size="17.5">−11</tspan></text>
<text x="772" y="347.44" font-size="26.5" text-anchor="end">10<tspan dy="-9.8" font-size="17.5">−12</tspan></text>
<text x="772" y="425.1" font-size="26.5" text-anchor="end">10<tspan dy="-9.8" font-size="17.5">−13</tspan></text>
<text x="805.2" y="448.5" font-size="26.5" text-anchor="middle"  style="">−5</text>
<text x="934.5" y="448.5" font-size="26.5" text-anchor="middle"  style="">0</text>
<text x="1063.8" y="448.5" font-size="26.5" text-anchor="middle"  style="">5</text>
<text x="1193.1" y="448.5" font-size="26.5" text-anchor="middle"  style="">10</text>
<text x="1001" y="487.5" font-size="28"><tspan font-style="italic">V</tspan><tspan font-size="18.5" dy="9.5">GG</tspan><tspan dy="-9.5"> (V)</tspan></text>
<text transform="translate(701,221) rotate(-90)" font-size="29" text-anchor="middle"><tspan font-style="italic">I</tspan><tspan font-size="19" dy="7">DS</tspan><tspan dy="-7"> (A)</tspan></text>
<text x="684.2" y="21.6" font-size="30" text-anchor="start"  style="">b</text>
<text x="797" y="64" font-size="25.5"><tspan font-style="italic">V</tspan><tspan font-size="16.5" dy="3">DS</tspan><tspan dy="-3" dx="3">= 1 V</tspan></text>
<line x1="857" y1="80.5" x2="1026" y2="80.5" stroke="#5f5f5f" stroke-width="4" />
<path d="M1010 73.8 L1029.5 80.5 L1010 87.2" stroke="#5f5f5f" fill="none" stroke-width="2.8" />
<line x1="1142" y1="249.4" x2="1193" y2="249.4" stroke="#e45c1e" stroke-width="3" />
<circle cx="1167" cy="249.4" r="5.3" fill="#e45c1e" />
<text x="1199.5" y="260.2" font-size="26.5" text-anchor="start"  style="">4</text>
<line x1="1142" y1="282.05" x2="1193" y2="282.05" stroke="#c8694a" stroke-width="3" />
<circle cx="1167" cy="282.05" r="5.3" fill="#c8694a" />
<text x="1199.5" y="292.85" font-size="26.5" text-anchor="start"  style="">8</text>
<line x1="1142" y1="314.7" x2="1193" y2="314.7" stroke="#a67c7b" stroke-width="3" />
<circle cx="1167" cy="314.7" r="5.3" fill="#a67c7b" />
<text x="1199.5" y="325.5" font-size="26.5" text-anchor="start"  style="">12</text>
<line x1="1142" y1="347.35" x2="1193" y2="347.35" stroke="#8589ab" stroke-width="3" />
<circle cx="1167" cy="347.35" r="5.3" fill="#8589ab" />
<text x="1199.5" y="358.15" font-size="26.5" text-anchor="start"  style="">16</text>
<line x1="1142" y1="380" x2="1193" y2="380" stroke="#5f99d4" stroke-width="3" />
<circle cx="1167" cy="380" r="5.3" fill="#5f99d4" />
<text x="1199.5" y="390.8" font-size="26.5" text-anchor="start"  style="">20</text>
<rect x="1105.6" y="43.1" width="164.4000000000001" height="141.3" fill="#fff" stroke="#000" stroke-width="2.2"/>
<line x1="1105.6" y1="53.1" x2="1110.1" y2="53.1" stroke="#000" stroke-width="1.5" />
<line x1="1105.6" y1="76.03" x2="1108.1" y2="76.03" stroke="#000" stroke-width="1.2" />
<line x1="1105.6" y1="70.25" x2="1108.1" y2="70.25" stroke="#000" stroke-width="1.2" />
<line x1="1105.6" y1="66.15" x2="1108.1" y2="66.15" stroke="#000" stroke-width="1.2" />
<line x1="1105.6" y1="62.97" x2="1108.1" y2="62.97" stroke="#000" stroke-width="1.2" />
<line x1="1105.6" y1="60.38" x2="1108.1" y2="60.38" stroke="#000" stroke-width="1.2" />
<line x1="1105.6" y1="58.18" x2="1108.1" y2="58.18" stroke="#000" stroke-width="1.2" />
<line x1="1105.6" y1="56.28" x2="1108.1" y2="56.28" stroke="#000" stroke-width="1.2" />
<line x1="1105.6" y1="54.6" x2="1108.1" y2="54.6" stroke="#000" stroke-width="1.2" />
<line x1="1105.6" y1="85.9" x2="1110.1" y2="85.9" stroke="#000" stroke-width="1.5" />
<line x1="1105.6" y1="108.83" x2="1108.1" y2="108.83" stroke="#000" stroke-width="1.2" />
<line x1="1105.6" y1="103.05" x2="1108.1" y2="103.05" stroke="#000" stroke-width="1.2" />
<line x1="1105.6" y1="98.95" x2="1108.1" y2="98.95" stroke="#000" stroke-width="1.2" />
<line x1="1105.6" y1="95.77" x2="1108.1" y2="95.77" stroke="#000" stroke-width="1.2" />
<line x1="1105.6" y1="93.18" x2="1108.1" y2="93.18" stroke="#000" stroke-width="1.2" />
<line x1="1105.6" y1="90.98" x2="1108.1" y2="90.98" stroke="#000" stroke-width="1.2" />
<line x1="1105.6" y1="89.08" x2="1108.1" y2="89.08" stroke="#000" stroke-width="1.2" />
<line x1="1105.6" y1="87.4" x2="1108.1" y2="87.4" stroke="#000" stroke-width="1.2" />
<line x1="1105.6" y1="118.7" x2="1110.1" y2="118.7" stroke="#000" stroke-width="1.5" />
<line x1="1105.6" y1="141.63" x2="1108.1" y2="141.63" stroke="#000" stroke-width="1.2" />
<line x1="1105.6" y1="135.85" x2="1108.1" y2="135.85" stroke="#000" stroke-width="1.2" />
<line x1="1105.6" y1="131.75" x2="1108.1" y2="131.75" stroke="#000" stroke-width="1.2" />
<line x1="1105.6" y1="128.57" x2="1108.1" y2="128.57" stroke="#000" stroke-width="1.2" />
<line x1="1105.6" y1="125.98" x2="1108.1" y2="125.98" stroke="#000" stroke-width="1.2" />
<line x1="1105.6" y1="123.78" x2="1108.1" y2="123.78" stroke="#000" stroke-width="1.2" />
<line x1="1105.6" y1="121.88" x2="1108.1" y2="121.88" stroke="#000" stroke-width="1.2" />
<line x1="1105.6" y1="120.2" x2="1108.1" y2="120.2" stroke="#000" stroke-width="1.2" />
<line x1="1105.6" y1="151.5" x2="1110.1" y2="151.5" stroke="#000" stroke-width="1.5" />
<line x1="1105.6" y1="174.43" x2="1108.1" y2="174.43" stroke="#000" stroke-width="1.2" />
<line x1="1105.6" y1="168.65" x2="1108.1" y2="168.65" stroke="#000" stroke-width="1.2" />
<line x1="1105.6" y1="164.55" x2="1108.1" y2="164.55" stroke="#000" stroke-width="1.2" />
<line x1="1105.6" y1="161.37" x2="1108.1" y2="161.37" stroke="#000" stroke-width="1.2" />
<line x1="1105.6" y1="158.78" x2="1108.1" y2="158.78" stroke="#000" stroke-width="1.2" />
<line x1="1105.6" y1="156.58" x2="1108.1" y2="156.58" stroke="#000" stroke-width="1.2" />
<line x1="1105.6" y1="154.68" x2="1108.1" y2="154.68" stroke="#000" stroke-width="1.2" />
<line x1="1105.6" y1="153" x2="1108.1" y2="153" stroke="#000" stroke-width="1.2" />
<line x1="1105.6" y1="184.3" x2="1110.1" y2="184.3" stroke="#000" stroke-width="1.5" />
<line x1="1118.8" y1="184.4" x2="1118.8" y2="180.4" stroke="#000" stroke-width="1.5" />
<line x1="1132.48" y1="184.4" x2="1132.48" y2="181.9" stroke="#000" stroke-width="1.5" />
<line x1="1146.16" y1="184.4" x2="1146.16" y2="181.9" stroke="#000" stroke-width="1.5" />
<line x1="1159.84" y1="184.4" x2="1159.84" y2="181.9" stroke="#000" stroke-width="1.5" />
<line x1="1173.52" y1="184.4" x2="1173.52" y2="181.9" stroke="#000" stroke-width="1.5" />
<line x1="1187.2" y1="184.4" x2="1187.2" y2="180.4" stroke="#000" stroke-width="1.5" />
<line x1="1200.88" y1="184.4" x2="1200.88" y2="181.9" stroke="#000" stroke-width="1.5" />
<line x1="1214.56" y1="184.4" x2="1214.56" y2="181.9" stroke="#000" stroke-width="1.5" />
<line x1="1228.24" y1="184.4" x2="1228.24" y2="181.9" stroke="#000" stroke-width="1.5" />
<line x1="1241.92" y1="184.4" x2="1241.92" y2="181.9" stroke="#000" stroke-width="1.5" />
<line x1="1255.6" y1="184.4" x2="1255.6" y2="180.4" stroke="#000" stroke-width="1.5" />
<text x="1103" y="57.5" font-size="21" text-anchor="end">10<tspan dy="-8" font-size="14">−9</tspan></text>
<text x="1103" y="189" font-size="21" text-anchor="end">10<tspan dy="-8" font-size="14">−13</tspan></text>
<text x="1118.8" y="206" font-size="21" text-anchor="middle"  style="">0</text>
<text x="1255.6" y="206" font-size="21" text-anchor="middle"  style="">10</text>
<text x="1140" y="226" font-size="22"><tspan font-style="italic">V</tspan><tspan font-size="15" dy="3">GGwrite</tspan><tspan dy="-3"> (V)</tspan></text>
<text transform="translate(1083,109.5) rotate(-90)" font-size="23.5" text-anchor="middle"><tspan font-style="italic">I</tspan><tspan font-size="15" dy="5">read</tspan><tspan dy="-5"> (A)</tspan></text>
<path d="M1119.4 114 L1133.1 117.3 L1146.9 131.9 L1160.6 146.3 L1174.4 105 L1187.5 63.1 L1201.3 171.9 L1215 158.8 L1228.8 158.1 L1242.5 157.5 L1255.6 158.8" stroke="#555" fill="none" stroke-width="2" stroke-dasharray="4,3.2"/>
<path d="M1119.4 109.4 L1123.77 112.58 L1122.1 117.72 L1116.7 117.72 L1115.03 112.58 Z" stroke="none" fill="#5b9bd6" stroke-width="1" />
<path d="M1133.1 112.7 L1137.47 115.88 L1135.8 121.02 L1130.4 121.02 L1128.73 115.88 Z" stroke="none" fill="#5b9bd6" stroke-width="1" />
<path d="M1146.9 127.3 L1151.27 130.48 L1149.6 135.62 L1144.2 135.62 L1142.53 130.48 Z" stroke="none" fill="#5b9bd6" stroke-width="1" />
<path d="M1160.6 141.7 L1164.97 144.88 L1163.3 150.02 L1157.9 150.02 L1156.23 144.88 Z" stroke="none" fill="#6e98d3" stroke-width="1" />
<path d="M1174.4 100.4 L1178.77 103.58 L1177.1 108.72 L1171.7 108.72 L1170.03 103.58 Z" stroke="none" fill="#8e8ec0" stroke-width="1" />
<path d="M1187.5 58.5 L1191.87 61.68 L1190.2 66.82 L1184.8 66.82 L1183.13 61.68 Z" stroke="none" fill="#a090bd" stroke-width="1" />
<path d="M1201.3 167.3 L1205.67 170.48 L1204 175.62 L1198.6 175.62 L1196.93 170.48 Z" stroke="none" fill="#a896bd" stroke-width="1" />
<path d="M1215 154.2 L1219.37 157.38 L1217.7 162.52 L1212.3 162.52 L1210.63 157.38 Z" stroke="none" fill="#b48a99" stroke-width="1" />
<path d="M1228.8 153.5 L1233.17 156.68 L1231.5 161.82 L1226.1 161.82 L1224.43 156.68 Z" stroke="none" fill="#d48883" stroke-width="1" />
<path d="M1242.5 152.9 L1246.87 156.08 L1245.2 161.22 L1239.8 161.22 L1238.13 156.08 Z" stroke="none" fill="#e07f74" stroke-width="1" />
<path d="M1255.6 154.2 L1259.97 157.38 L1258.3 162.52 L1252.9 162.52 L1251.23 157.38 Z" stroke="none" fill="#ec7a66" stroke-width="1" />
<line x1="1156.3" y1="115" x2="1163.2" y2="90.75" stroke="#5a5a5a" stroke-width="3.2" />
<path d="M1166.32 96.21 L1165 84.4 L1157.66 93.75 Z" stroke="none" fill="#5a5a5a" stroke-width="1" />
<line x1="1201.9" y1="98.8" x2="1205.4" y2="124.06" stroke="#5a5a5a" stroke-width="3.2" />
<path d="M1200.33 120.32 L1206.3 130.6 L1209.25 119.09 Z" stroke="none" fill="#5a5a5a" stroke-width="1" />
</g>
<g id="pc">
<clipPath id="clipc"><rect x="1447.0" y="22.2" width="510.70000000000005" height="384.3"/></clipPath>
<g clip-path="url(#clipc)">
<path d="M1461.55 117.5 L1593.13 117.5 L1628.92 117.5 L1650.49 117.5 L1665.98 117.5 L1678.08 117.5 L1688 117.5 L1696.42 117.5 L1703.72 117.52 L1710.17 117.6 L1715.95 117.67 L1721.18 117.74" stroke="#56a9f7" fill="none" stroke-width="2" />
<path d="M1461.55 393 L1593.13 393 L1628.92 393 L1650.49 392.55 L1665.98 391.97 L1678.08 391.51 L1688 391.14 L1696.42 390.82 L1703.72 390.55 L1710.17 390.31 L1715.95 390.09 L1721.18 389.89" stroke="#ec796c" fill="none" stroke-width="2" />
<circle cx="1461.55" cy="117.5" r="5.6" fill="#56a9f7" />
<circle cx="1461.55" cy="393" r="5.6" fill="#ec796c" />
<circle cx="1593.13" cy="117.5" r="5.6" fill="#56a9f7" />
<circle cx="1593.13" cy="393" r="5.6" fill="#ec796c" />
<circle cx="1628.92" cy="117.5" r="5.6" fill="#56a9f7" />
<circle cx="1628.92" cy="393" r="5.6" fill="#ec796c" />
<circle cx="1650.49" cy="117.5" r="5.6" fill="#56a9f7" />
<circle cx="1650.49" cy="392.55" r="5.6" fill="#ec796c" />
<circle cx="1665.98" cy="117.5" r="5.6" fill="#56a9f7" />
<circle cx="1665.98" cy="391.97" r="5.6" fill="#ec796c" />
<circle cx="1678.08" cy="117.5" r="5.6" fill="#56a9f7" />
<circle cx="1678.08" cy="391.51" r="5.6" fill="#ec796c" />
<circle cx="1688" cy="117.5" r="5.6" fill="#56a9f7" />
<circle cx="1688" cy="391.14" r="5.6" fill="#ec796c" />
<circle cx="1696.42" cy="117.5" r="5.6" fill="#56a9f7" />
<circle cx="1696.42" cy="390.82" r="5.6" fill="#ec796c" />
<path d="M1688 112.26 L1690 112.13 L1692 111.69 L1694 112.24 L1696 112.19 L1698 112.1 L1700 112.58 L1702 112.19 L1704 112.06 L1706 111.89 L1708 112.76 L1710 112.53 L1712 112.81 L1714 111.97 L1716 112.14 L1718 112.95 L1720 111.84 L1722 111.89 L1724 112.29 L1726 112.36 L1728 112.93 L1730 113.13 L1732 112.54 L1734 113.13 L1736 112.99 L1738 112.96 L1740 113.24 L1742 112.74 L1744 112.79 L1746 112.34 L1748 112.75 L1750 112.63 L1752 112.82 L1754 112.65 L1756 112.92 L1758 113.16 L1760 112.33 L1762 112.35 L1764 112.56 L1766 112.75 L1768 113.24 L1770 113.37 L1772 113.33 L1774 113.61 L1776 112.8 L1778 113.27 L1780 112.76 L1782 113.33 L1784 112.67 L1786 112.83 L1788 113.87 L1790 113.65 L1792 112.83 L1794 113.38 L1796 112.8 L1798 113.52 L1800 113.94 L1802 113.29 L1804 113.14 L1806 113.78 L1808 114.02 L1810 113.75 L1812 113.02 L1814 113.29 L1816 114.08 L1818 113.95 L1820 114.15 L1822 114.23 L1824 113.37 L1826 114.14 L1828 113.7 L1830 113.86 L1832 114.2 L1834 113.57 L1836 114.32 L1838 113.73 L1840 114.39 L1842 114.05 L1844 114.32 L1846 114.28 L1848 113.46 L1850 113.69 L1852 114.31 L1854 113.64 L1856 114.47 L1858 114.28 L1860 113.75 L1862 114.03 L1864 114.71 L1866 113.66 L1868 114.62 L1870 114.59 L1872 114 L1874 114.56 L1876 114.62 L1878 114.91 L1880 114.92 L1882 114.35 L1884 114.78 L1886 114.38 L1888 114.68 L1890 114.61 L1892 114.03 L1894 114.62 L1896 114.54 L1898 114.21 L1900 115.06 L1902 115.12 L1904 114.24 L1906 114.37 L1908 115.08 L1910 115.17 L1912 114.54 L1914 114.32 L1916 115.24 L1918 114.36 L1920 114.47 L1922 114.83 L1924 115.07 L1926 115.48 L1928 115.58 L1930 114.5 L1932 115.39 L1934 114.86 L1936 115.42 L1938 114.76 L1940 115.06 L1942 115.45 L1944 115.62 L1946 114.99 L1948 115.8 L1950 115.63 L1952 115.26 L1954 114.93 L1956 115.24 L1958 115.67 L1960 114.93 L1960 127.03 L1958 126.24 L1956 126.62 L1954 126.88 L1952 126.5 L1950 126.08 L1948 125.86 L1946 126.62 L1944 125.94 L1942 126.06 L1940 126.39 L1938 126.64 L1936 125.94 L1934 126.45 L1932 125.86 L1930 126.71 L1928 125.57 L1926 125.63 L1924 125.98 L1922 126.18 L1920 126.49 L1918 126.54 L1916 125.61 L1914 126.48 L1912 126.21 L1910 125.53 L1908 125.58 L1906 126.23 L1904 126.32 L1902 125.39 L1900 125.4 L1898 126.19 L1896 125.82 L1894 125.68 L1892 126.23 L1890 125.6 L1888 125.47 L1886 125.72 L1884 125.27 L1882 125.65 L1880 125.03 L1878 124.99 L1876 125.23 L1874 125.25 L1872 125.75 L1870 125.11 L1868 125.03 L1866 125.94 L1864 124.85 L1862 125.47 L1860 125.7 L1858 125.12 L1856 124.88 L1854 125.66 L1852 124.94 L1850 125.51 L1848 125.69 L1846 124.82 L1844 124.73 L1842 124.95 L1840 124.56 L1838 125.17 L1836 124.53 L1834 125.23 L1832 124.55 L1830 124.84 L1828 124.95 L1826 124.46 L1824 125.18 L1822 124.27 L1820 124.3 L1818 124.44 L1816 124.27 L1814 125.01 L1812 125.23 L1810 124.45 L1808 124.13 L1806 124.32 L1804 124.91 L1802 124.7 L1800 124.01 L1798 124.38 L1796 125.05 L1794 124.41 L1792 124.92 L1790 124.05 L1788 123.77 L1786 124.77 L1784 124.87 L1782 124.16 L1780 124.69 L1778 124.13 L1776 124.54 L1774 123.68 L1772 123.92 L1770 123.82 L1768 123.9 L1766 124.35 L1764 124.48 L1762 124.64 L1760 124.62 L1758 123.73 L1756 123.92 L1754 124.14 L1752 123.92 L1750 124.07 L1748 123.9 L1746 124.26 L1744 123.75 L1742 123.75 L1740 123.21 L1738 123.44 L1736 123.35 L1734 123.17 L1732 123.71 L1730 123.06 L1728 123.21 L1726 123.74 L1724 123.76 L1722 124.1 L1720 124.1 L1718 122.95 L1716 123.7 L1714 123.82 L1712 122.93 L1710 123.16 L1708 122.88 L1706 123.7 L1704 123.48 L1702 123.31 L1700 122.92 L1698 123.4 L1696 123.31 L1694 123.26 L1692 123.81 L1690 123.37 L1688 123.24 Z" stroke="none" fill="#56a9f7" stroke-width="1" />
<path d="M1688 386.29 L1690 386.44 L1692 386.07 L1694 385.78 L1696 386.17 L1698 385.95 L1700 385.65 L1702 385.32 L1704 385.76 L1706 385.4 L1708 384.69 L1710 384.5 L1712 384.8 L1714 384.68 L1716 384.72 L1718 385.17 L1720 385.21 L1722 385.15 L1724 384 L1726 384.17 L1728 383.77 L1730 384.81 L1732 383.99 L1734 384.1 L1736 383.71 L1738 384.12 L1740 383.23 L1742 384.25 L1744 383.6 L1746 383.29 L1748 383.01 L1750 383.12 L1752 383.08 L1754 382.89 L1756 382.66 L1758 383.25 L1760 382.77 L1762 382.43 L1764 382.38 L1766 382.84 L1768 382.31 L1770 382.14 L1772 382.41 L1774 382.26 L1776 382.47 L1778 382.14 L1780 382.03 L1782 382.58 L1784 381.83 L1786 381.32 L1788 381.37 L1790 381.47 L1792 381.8 L1794 381.3 L1796 381.4 L1798 381.48 L1800 380.92 L1802 381.75 L1804 380.86 L1806 381.64 L1808 380.87 L1810 380.94 L1812 381.15 L1814 380.51 L1816 380.67 L1818 380.44 L1820 379.99 L1822 380.71 L1824 380.92 L1826 380.49 L1828 379.95 L1830 380.44 L1832 380.39 L1834 379.43 L1836 379.64 L1838 379.82 L1840 379.19 L1842 379.79 L1844 379.3 L1846 379.78 L1848 379.42 L1850 378.88 L1852 378.67 L1854 378.63 L1856 379.14 L1858 378.82 L1860 379.05 L1862 379.19 L1864 378.67 L1866 378.18 L1868 378.08 L1870 378.16 L1872 377.79 L1874 378.52 L1876 378.56 L1878 378.14 L1880 378.27 L1882 378.26 L1884 377.94 L1886 377.6 L1888 377.68 L1890 377.81 L1892 377.1 L1894 376.84 L1896 377.39 L1898 377.76 L1900 377.73 L1902 376.64 L1904 377.55 L1906 376.67 L1908 376.75 L1910 376.98 L1912 376.32 L1914 377.16 L1916 376.94 L1918 376.47 L1920 376.91 L1922 375.86 L1924 376.49 L1926 376.52 L1928 376.55 L1930 375.77 L1932 375.9 L1934 375.6 L1936 375.49 L1938 375.22 L1940 374.96 L1942 375.2 L1944 375.7 L1946 375.29 L1948 375.56 L1950 375.68 L1952 375.04 L1954 374.67 L1956 375.22 L1958 375.03 L1960 374.86 L1960 386.97 L1958 386.95 L1956 386.9 L1954 387.61 L1952 387.39 L1950 386.9 L1948 387.17 L1946 387.59 L1944 387.33 L1942 387.98 L1940 388.38 L1938 388.26 L1936 388.15 L1934 388.18 L1932 388.03 L1930 388.32 L1928 387.68 L1926 387.86 L1924 388.05 L1922 388.83 L1920 387.93 L1918 388.51 L1916 388.19 L1914 388.12 L1912 389.12 L1910 388.6 L1908 388.99 L1906 389.22 L1904 388.48 L1902 389.55 L1900 388.61 L1898 388.73 L1896 389.25 L1894 389.95 L1892 389.84 L1890 389.28 L1888 389.57 L1886 389.79 L1884 389.6 L1882 389.43 L1880 389.57 L1878 389.85 L1876 389.58 L1874 389.77 L1872 390.65 L1870 390.43 L1868 390.66 L1866 390.72 L1864 390.37 L1862 390.01 L1860 390.29 L1858 390.68 L1856 390.51 L1854 391.17 L1852 391.28 L1850 391.22 L1848 390.83 L1846 390.62 L1844 391.25 L1842 390.91 L1840 391.66 L1838 391.18 L1836 391.51 L1834 391.87 L1832 391.06 L1830 391.16 L1828 391.8 L1826 391.42 L1824 391.14 L1822 391.5 L1820 392.36 L1818 392.06 L1816 391.99 L1814 392.3 L1812 391.8 L1810 392.17 L1808 392.38 L1806 391.76 L1804 392.69 L1802 391.96 L1800 392.93 L1798 392.52 L1796 392.76 L1794 393.01 L1792 392.66 L1790 393.14 L1788 393.39 L1786 393.59 L1784 393.23 L1782 392.63 L1780 393.33 L1778 393.37 L1776 393.19 L1774 393.55 L1772 393.56 L1770 393.97 L1768 393.95 L1766 393.57 L1764 394.18 L1762 394.29 L1760 394.09 L1758 393.76 L1756 394.5 L1754 394.43 L1752 394.39 L1750 394.49 L1748 394.76 L1746 394.63 L1744 394.47 L1742 393.97 L1740 395.14 L1738 394.39 L1736 394.96 L1734 394.72 L1732 394.98 L1730 394.31 L1728 395.5 L1726 395.26 L1724 395.57 L1722 394.57 L1720 394.66 L1718 394.85 L1716 395.45 L1714 395.65 L1712 395.67 L1710 396.13 L1708 396.09 L1706 395.52 L1704 395.31 L1702 395.91 L1700 395.73 L1698 395.57 L1696 395.51 L1694 396.05 L1692 395.91 L1690 395.68 L1688 395.98 Z" stroke="none" fill="#ec796c" stroke-width="1" />
</g>
<rect x="1447.0" y="22.2" width="510.70000000000005" height="384.3" fill="none" stroke="#000" stroke-width="2"/>
<line x1="1447" y1="22.2" x2="1454" y2="22.2" stroke="#000" stroke-width="1.5" />
<line x1="1447" y1="89.35" x2="1451" y2="89.35" stroke="#000" stroke-width="1.5" />
<line x1="1447" y1="72.44" x2="1451" y2="72.44" stroke="#000" stroke-width="1.5" />
<line x1="1447" y1="60.43" x2="1451" y2="60.43" stroke="#000" stroke-width="1.5" />
<line x1="1447" y1="51.12" x2="1451" y2="51.12" stroke="#000" stroke-width="1.5" />
<line x1="1447" y1="43.51" x2="1451" y2="43.51" stroke="#000" stroke-width="1.5" />
<line x1="1447" y1="37.08" x2="1451" y2="37.08" stroke="#000" stroke-width="1.5" />
<line x1="1447" y1="31.51" x2="1451" y2="31.51" stroke="#000" stroke-width="1.5" />
<line x1="1447" y1="26.6" x2="1451" y2="26.6" stroke="#000" stroke-width="1.5" />
<line x1="1447" y1="118.28" x2="1454" y2="118.28" stroke="#000" stroke-width="1.5" />
<line x1="1447" y1="185.43" x2="1451" y2="185.43" stroke="#000" stroke-width="1.5" />
<line x1="1447" y1="168.51" x2="1451" y2="168.51" stroke="#000" stroke-width="1.5" />
<line x1="1447" y1="156.51" x2="1451" y2="156.51" stroke="#000" stroke-width="1.5" />
<line x1="1447" y1="147.2" x2="1451" y2="147.2" stroke="#000" stroke-width="1.5" />
<line x1="1447" y1="139.59" x2="1451" y2="139.59" stroke="#000" stroke-width="1.5" />
<line x1="1447" y1="133.16" x2="1451" y2="133.16" stroke="#000" stroke-width="1.5" />
<line x1="1447" y1="127.59" x2="1451" y2="127.59" stroke="#000" stroke-width="1.5" />
<line x1="1447" y1="122.67" x2="1451" y2="122.67" stroke="#000" stroke-width="1.5" />
<line x1="1447" y1="214.35" x2="1454" y2="214.35" stroke="#000" stroke-width="1.5" />
<line x1="1447" y1="281.5" x2="1451" y2="281.5" stroke="#000" stroke-width="1.5" />
<line x1="1447" y1="264.59" x2="1451" y2="264.59" stroke="#000" stroke-width="1.5" />
<line x1="1447" y1="252.58" x2="1451" y2="252.58" stroke="#000" stroke-width="1.5" />
<line x1="1447" y1="243.27" x2="1451" y2="243.27" stroke="#000" stroke-width="1.5" />
<line x1="1447" y1="235.66" x2="1451" y2="235.66" stroke="#000" stroke-width="1.5" />
<line x1="1447" y1="229.23" x2="1451" y2="229.23" stroke="#000" stroke-width="1.5" />
<line x1="1447" y1="223.66" x2="1451" y2="223.66" stroke="#000" stroke-width="1.5" />
<line x1="1447" y1="218.75" x2="1451" y2="218.75" stroke="#000" stroke-width="1.5" />
<line x1="1447" y1="310.43" x2="1454" y2="310.43" stroke="#000" stroke-width="1.5" />
<line x1="1447" y1="377.58" x2="1451" y2="377.58" stroke="#000" stroke-width="1.5" />
<line x1="1447" y1="360.66" x2="1451" y2="360.66" stroke="#000" stroke-width="1.5" />
<line x1="1447" y1="348.66" x2="1451" y2="348.66" stroke="#000" stroke-width="1.5" />
<line x1="1447" y1="339.35" x2="1451" y2="339.35" stroke="#000" stroke-width="1.5" />
<line x1="1447" y1="331.74" x2="1451" y2="331.74" stroke="#000" stroke-width="1.5" />
<line x1="1447" y1="325.31" x2="1451" y2="325.31" stroke="#000" stroke-width="1.5" />
<line x1="1447" y1="319.74" x2="1451" y2="319.74" stroke="#000" stroke-width="1.5" />
<line x1="1447" y1="314.82" x2="1451" y2="314.82" stroke="#000" stroke-width="1.5" />
<line x1="1447" y1="406.5" x2="1454" y2="406.5" stroke="#000" stroke-width="1.5" />
<line x1="1447" y1="406.5" x2="1447" y2="400" stroke="#000" stroke-width="1.6" />
<line x1="1485.43" y1="406.5" x2="1485.43" y2="403" stroke="#000" stroke-width="1.5" />
<line x1="1507.92" y1="406.5" x2="1507.92" y2="403" stroke="#000" stroke-width="1.5" />
<line x1="1523.87" y1="406.5" x2="1523.87" y2="403" stroke="#000" stroke-width="1.5" />
<line x1="1536.24" y1="406.5" x2="1536.24" y2="403" stroke="#000" stroke-width="1.5" />
<line x1="1546.35" y1="406.5" x2="1546.35" y2="403" stroke="#000" stroke-width="1.5" />
<line x1="1554.9" y1="406.5" x2="1554.9" y2="403" stroke="#000" stroke-width="1.5" />
<line x1="1562.3" y1="406.5" x2="1562.3" y2="403" stroke="#000" stroke-width="1.5" />
<line x1="1568.83" y1="406.5" x2="1568.83" y2="403" stroke="#000" stroke-width="1.5" />
<line x1="1574.67" y1="406.5" x2="1574.67" y2="400" stroke="#000" stroke-width="1.6" />
<line x1="1613.11" y1="406.5" x2="1613.11" y2="403" stroke="#000" stroke-width="1.5" />
<line x1="1635.59" y1="406.5" x2="1635.59" y2="403" stroke="#000" stroke-width="1.5" />
<line x1="1651.54" y1="406.5" x2="1651.54" y2="403" stroke="#000" stroke-width="1.5" />
<line x1="1663.92" y1="406.5" x2="1663.92" y2="403" stroke="#000" stroke-width="1.5" />
<line x1="1674.03" y1="406.5" x2="1674.03" y2="403" stroke="#000" stroke-width="1.5" />
<line x1="1682.57" y1="406.5" x2="1682.57" y2="403" stroke="#000" stroke-width="1.5" />
<line x1="1689.98" y1="406.5" x2="1689.98" y2="403" stroke="#000" stroke-width="1.5" />
<line x1="1696.51" y1="406.5" x2="1696.51" y2="403" stroke="#000" stroke-width="1.5" />
<line x1="1702.35" y1="406.5" x2="1702.35" y2="400" stroke="#000" stroke-width="1.6" />
<line x1="1740.78" y1="406.5" x2="1740.78" y2="403" stroke="#000" stroke-width="1.5" />
<line x1="1763.27" y1="406.5" x2="1763.27" y2="403" stroke="#000" stroke-width="1.5" />
<line x1="1779.22" y1="406.5" x2="1779.22" y2="403" stroke="#000" stroke-width="1.5" />
<line x1="1791.59" y1="406.5" x2="1791.59" y2="403" stroke="#000" stroke-width="1.5" />
<line x1="1801.7" y1="406.5" x2="1801.7" y2="403" stroke="#000" stroke-width="1.5" />
<line x1="1810.25" y1="406.5" x2="1810.25" y2="403" stroke="#000" stroke-width="1.5" />
<line x1="1817.65" y1="406.5" x2="1817.65" y2="403" stroke="#000" stroke-width="1.5" />
<line x1="1824.18" y1="406.5" x2="1824.18" y2="403" stroke="#000" stroke-width="1.5" />
<line x1="1830.03" y1="406.5" x2="1830.03" y2="400" stroke="#000" stroke-width="1.6" />
<line x1="1868.46" y1="406.5" x2="1868.46" y2="403" stroke="#000" stroke-width="1.5" />
<line x1="1890.94" y1="406.5" x2="1890.94" y2="403" stroke="#000" stroke-width="1.5" />
<line x1="1906.89" y1="406.5" x2="1906.89" y2="403" stroke="#000" stroke-width="1.5" />
<line x1="1919.27" y1="406.5" x2="1919.27" y2="403" stroke="#000" stroke-width="1.5" />
<line x1="1929.38" y1="406.5" x2="1929.38" y2="403" stroke="#000" stroke-width="1.5" />
<line x1="1937.92" y1="406.5" x2="1937.92" y2="403" stroke="#000" stroke-width="1.5" />
<line x1="1945.33" y1="406.5" x2="1945.33" y2="403" stroke="#000" stroke-width="1.5" />
<line x1="1951.86" y1="406.5" x2="1951.86" y2="403" stroke="#000" stroke-width="1.5" />
<line x1="1957.7" y1="406.5" x2="1957.7" y2="400" stroke="#000" stroke-width="1.6" />
<text x="1441" y="30.7" font-size="23" text-anchor="end">10<tspan dy="-8.5" font-size="16">−8</tspan></text>
<text x="1441" y="126.78" font-size="23" text-anchor="end">10<tspan dy="-8.5" font-size="16">−9</tspan></text>
<text x="1441" y="222.85" font-size="23" text-anchor="end">10<tspan dy="-8.5" font-size="16">−10</tspan></text>
<text x="1441" y="318.93" font-size="23" text-anchor="end">10<tspan dy="-8.5" font-size="16">−11</tspan></text>
<text x="1441" y="415" font-size="23" text-anchor="end">10<tspan dy="-8.5" font-size="16">−12</tspan></text>
<text x="1448.5" y="437.5" font-size="23" text-anchor="middle">10<tspan dy="-8.5" font-size="16">0</tspan></text>
<text x="1576.17" y="437.5" font-size="23" text-anchor="middle">10<tspan dy="-8.5" font-size="16">1</tspan></text>
<text x="1703.85" y="437.5" font-size="23" text-anchor="middle">10<tspan dy="-8.5" font-size="16">2</tspan></text>
<text x="1831.53" y="437.5" font-size="23" text-anchor="middle">10<tspan dy="-8.5" font-size="16">3</tspan></text>
<text x="1959.2" y="437.5" font-size="23" text-anchor="middle">10<tspan dy="-8.5" font-size="16">4</tspan></text>
<text x="1594.5" y="475" font-size="28" text-anchor="start"  style="">Retention time (s)</text>
<text transform="translate(1378,211) rotate(-90)" font-size="29" text-anchor="middle"><tspan font-style="italic">I</tspan><tspan font-size="19" dy="7">DS</tspan><tspan dy="-7"> (A)</tspan></text>
<text x="1355" y="20.5" font-size="30" text-anchor="start"  style="">c</text>
<text x="1848.5" y="60.5" font-size="22.5"><tspan font-style="italic">V</tspan><tspan font-size="16" dy="3.2">GG</tspan><tspan dy="-3.2"> =0 V</tspan></text>
<text x="1848.5" y="89" font-size="22.5"><tspan font-style="italic">V</tspan><tspan font-size="16" dy="3.2">DS</tspan><tspan dy="-3.2"> =1 V</tspan></text>
<line x1="1513.4" y1="336.1" x2="1554.4" y2="336.1" stroke="#56a9f7" stroke-width="2.2" />
<text x="1562" y="346" font-size="26.5" text-anchor="start"  style="">Peak state</text>
<line x1="1746.4" y1="336.1" x2="1787.6" y2="336.1" stroke="#ec796c" stroke-width="2.2" />
<text x="1796" y="346" font-size="26.5" text-anchor="start"  style="">Valley state</text>
<rect x="1502.2" y="166.2" width="184.8" height="138.7" fill="#fff" stroke="#000" stroke-width="2.2"/>
<path d="M1504.8 272.4 L1509.4 283.7 L1513 293 L1517.2 294 L1521.8 278.6 L1529 252.8 L1538.3 232.2 L1546.6 219.8 L1556.9 203.3 L1565.1 192 L1573.4 181.7 L1578.5 178 L1583.7 182.7 L1587.8 199.2 L1591.9 217.7 L1598.1 240.4 L1604.3 259 L1612.5 271.4 L1623.4 277 L1633.2 267.2 L1643.5 260.5" stroke="#f2b2aa" fill="none" stroke-width="3.2" stroke-linejoin="round"/>
<path d="M1532.6 287.9 L1538.3 292 L1545.5 295.1 L1551.7 292 L1558.9 278.6 L1567.2 259 L1577.5 239.4 L1587.8 221.9 L1598.1 204.3 L1608.4 189.9 L1618.7 178.6 L1623.1 177.3 L1628 183.7 L1633.2 199.2 L1637.3 218.8 L1641.4 234.2 L1645.5 250.7 L1652.8 263.1 L1659 271.4 L1666.2 274 L1674.4 268.3 L1684.7 261.6" stroke="#4aa3f6" fill="none" stroke-width="2.2" stroke-linejoin="round"/>
<line x1="1623.4" y1="167.2" x2="1623.4" y2="303.9" stroke="#000" stroke-width="2" stroke-dasharray="4.5,7.5"/>
<circle cx="1623.1" cy="177.3" r="2.9" fill="#fff" stroke="#0000ff" stroke-width="1.6"/>
<circle cx="1623.1" cy="277" r="2.9" fill="none" stroke="#f07a7a" stroke-width="1.6"/>
<rect x="1739.7" y="166.2" width="184.8" height="138.7" fill="#fff" stroke="#000" stroke-width="2.2"/>
<path d="M1742.3 272.4 L1746.9 283.7 L1750.5 293 L1754.7 294 L1759.3 278.6 L1766.5 252.8 L1775.8 232.2 L1784.1 219.8 L1794.4 203.3 L1802.6 192 L1810.9 181.7 L1816 178 L1821.2 182.7 L1825.3 199.2 L1829.4 217.7 L1835.6 240.4 L1841.8 259 L1850 271.4 L1860.9 277 L1870.7 267.2 L1881 260.5" stroke="#e8675b" fill="none" stroke-width="2.2" stroke-linejoin="round"/>
<path d="M1770.1 287.9 L1775.8 292 L1783 295.1 L1789.2 292 L1796.4 278.6 L1804.7 259 L1815 239.4 L1825.3 221.9 L1835.6 204.3 L1845.9 189.9 L1856.2 178.6 L1860.6 177.3 L1865.5 183.7 L1870.7 199.2 L1874.8 218.8 L1878.9 234.2 L1883 250.7 L1890.3 263.1 L1896.5 271.4 L1903.7 274 L1911.9 268.3 L1922.2 261.6" stroke="#a4cffa" fill="none" stroke-width="2.6" stroke-linejoin="round"/>
<line x1="1860.9" y1="167.2" x2="1860.9" y2="303.9" stroke="#000" stroke-width="2" stroke-dasharray="4.5,7.5"/>
<circle cx="1860.6" cy="177.3" r="2.9" fill="none" stroke="#6a6af5" stroke-width="1.6"/>
<circle cx="1860.6" cy="277" r="2.9" fill="#fff" stroke="#ff0000" stroke-width="1.6"/>
</g>
<g id="pd">
<path d="M120.6 1017.8 L120.6 853 L124.21 853 L124.21 932 L127.83 932 L127.83 932 L131.44 932 L131.44 934 L135.05 934 L135.05 935 L138.67 935 L138.67 938 L142.28 938 L142.28 941 L145.89 941 L145.89 945 L149.51 945 L149.51 948 L153.12 948 L153.12 950 L156.73 950 L156.73 951 L160.35 951 L160.35 951 L163.96 951 L163.96 951 L167.57 951 L167.57 951 L171.19 951 L171.19 951 L174.8 951 L174.8 951 L178.41 951 L178.41 951 L182.03 951 L182.03 951 L185.64 951 L185.64 948 L189.25 948 L189.25 942 L192.87 942 L192.87 936 L196.48 936 L196.48 907 L200.09 907 L200.09 883 L203.71 883 L203.71 854 L207.32 854 L207.32 828 L210.93 828 L210.93 808 L214.55 808 L214.55 793 L218.16 793 L218.16 775.5 L221.77 775.5 L221.77 771.7 L225.39 771.7 L225.39 771.7 L229 771.7 L229 1017.8 Z" stroke="none" fill="#979797" stroke-width="1" />
<path d="M251.7 1017.8 L251.7 860.5 L255.31 860.5 L255.31 958.2 L258.93 958.2 L258.93 971.3 L262.54 971.3 L262.54 971.3 L266.15 971.3 L266.15 964 L269.77 964 L269.77 904.3 L273.38 904.3 L273.38 841.6 L276.99 841.6 L276.99 809.5 L280.61 809.5 L280.61 782.4 L284.22 782.4 L284.22 758 L287.83 758 L287.83 739.6 L291.45 739.6 L291.45 723.6 L295.06 723.6 L295.06 710.5 L298.67 710.5 L298.67 699.7 L302.29 699.7 L302.29 691.5 L305.9 691.5 L305.9 684.2 L309.51 684.2 L309.51 680.5 L313.13 680.5 L313.13 675.5 L316.74 675.5 L316.74 672.6 L320.35 672.6 L320.35 668.2 L323.97 668.2 L323.97 664.7 L327.58 664.7 L327.58 662.4 L331.19 662.4 L331.19 660.3 L334.81 660.3 L334.81 658.9 L338.42 658.9 L338.42 658 L342.03 658 L342.03 657.4 L345.65 657.4 L345.65 656.6 L349.26 656.6 L349.26 656 L352.87 656 L352.87 655.4 L356.49 655.4 L356.49 655.4 L360.1 655.4 L360.1 1017.8 Z" stroke="none" fill="#c48f88" stroke-width="1" />
<path d="M382.3 1017.8 L382.3 856.2 L385.92 856.2 L385.92 959.6 L389.55 959.6 L389.55 984.4 L393.17 984.4 L393.17 1006.2 L396.79 1006.2 L396.79 910 L400.42 910 L400.42 821.2 L404.04 821.2 L404.04 768.7 L407.66 768.7 L407.66 736.7 L411.29 736.7 L411.29 710.5 L414.91 710.5 L414.91 693 L418.53 693 L418.53 679.3 L422.16 679.3 L422.16 669.7 L425.78 669.7 L425.78 660.9 L429.4 660.9 L429.4 656 L433.03 656 L433.03 650.7 L436.65 650.7 L436.65 646.4 L440.27 646.4 L440.27 643.4 L443.9 643.4 L443.9 640.5 L447.52 640.5 L447.52 638.5 L451.14 638.5 L451.14 636.7 L454.77 636.7 L454.77 635.6 L458.39 635.6 L458.39 633.8 L462.01 633.8 L462.01 632.7 L465.64 632.7 L465.64 631.8 L469.26 631.8 L469.26 630.9 L472.88 630.9 L472.88 630.3 L476.51 630.3 L476.51 629.7 L480.13 629.7 L480.13 629.2 L483.75 629.2 L483.75 628.9 L487.38 628.9 L487.38 628.3 L491 628.3 L491 1017.8 Z" stroke="none" fill="#e9a893" stroke-width="1" />
<path d="M512.7 1017.8 L512.7 879.7 L516.33 879.7 L516.33 997.7 L519.95 997.7 L519.95 779.1 L523.58 779.1 L523.58 734.8 L527.21 734.8 L527.21 704.7 L530.83 704.7 L530.83 680 L534.46 680 L534.46 661.9 L538.09 661.9 L538.09 647.3 L541.71 647.3 L541.71 637.1 L545.34 637.1 L545.34 629.8 L548.97 629.8 L548.97 623.1 L552.59 623.1 L552.59 618.1 L556.22 618.1 L556.22 616.4 L559.85 616.4 L559.85 614.3 L563.47 614.3 L563.47 612.3 L567.1 612.3 L567.1 611.4 L570.73 611.4 L570.73 610.6 L574.35 610.6 L574.35 609.4 L577.98 609.4 L577.98 608.8 L581.61 608.8 L581.61 608.5 L585.23 608.5 L585.23 607.6 L588.86 607.6 L588.86 606.5 L592.49 606.5 L592.49 605.3 L596.11 605.3 L596.11 605.3 L599.74 605.3 L599.74 605.9 L603.37 605.9 L603.37 606.2 L606.99 606.2 L606.99 606.5 L610.62 606.5 L610.62 606.2 L614.25 606.2 L614.25 605.3 L617.87 605.3 L617.87 605.3 L621.5 605.3 L621.5 1017.8 Z" stroke="none" fill="#eebb93" stroke-width="1" />
<path d="M643.9 1017.8 L643.9 613.5 L647.5 613.5 L647.5 614.3 L651.09 614.3 L651.09 617.3 L654.69 617.3 L654.69 619.3 L658.29 619.3 L658.29 621 L661.88 621 L661.88 622.2 L665.48 622.2 L665.48 622.8 L669.08 622.8 L669.08 623.1 L672.67 623.1 L672.67 623.1 L676.27 623.1 L676.27 623.1 L679.87 623.1 L679.87 623.1 L683.46 623.1 L683.46 624 L687.06 624 L687.06 624 L690.66 624 L690.66 624 L694.25 624 L694.25 625.1 L697.85 625.1 L697.85 625.1 L701.45 625.1 L701.45 625.1 L705.04 625.1 L705.04 625.1 L708.64 625.1 L708.64 625.1 L712.24 625.1 L712.24 625.1 L715.83 625.1 L715.83 625.1 L719.43 625.1 L719.43 626 L723.03 626 L723.03 626 L726.62 626 L726.62 626 L730.22 626 L730.22 626 L733.82 626 L733.82 626 L737.41 626 L737.41 626.9 L741.01 626.9 L741.01 626.9 L744.61 626.9 L744.61 626.9 L748.2 626.9 L748.2 625.4 L751.8 625.4 L751.8 1017.8 Z" stroke="none" fill="#e2cb88" stroke-width="1" />
<path d="M774.3 1017.8 L774.3 610 L777.92 610 L777.92 610 L781.55 610 L781.55 616.4 L785.17 616.4 L785.17 625.1 L788.79 625.1 L788.79 632.7 L792.42 632.7 L792.42 640.6 L796.04 640.6 L796.04 648.5 L799.66 648.5 L799.66 654.3 L803.29 654.3 L803.29 661 L806.91 661 L806.91 666.8 L810.53 666.8 L810.53 673.5 L814.16 673.5 L814.16 678.5 L817.78 678.5 L817.78 681.4 L821.4 681.4 L821.4 684.3 L825.03 684.3 L825.03 688.1 L828.65 688.1 L828.65 694.5 L832.27 694.5 L832.27 701.8 L835.9 701.8 L835.9 708.5 L839.52 708.5 L839.52 714.3 L843.14 714.3 L843.14 720.2 L846.77 720.2 L846.77 725.1 L850.39 725.1 L850.39 729.5 L854.01 729.5 L854.01 733.9 L857.64 733.9 L857.64 739.7 L861.26 739.7 L861.26 745.5 L864.88 745.5 L864.88 751.4 L868.51 751.4 L868.51 755.7 L872.13 755.7 L872.13 760.1 L875.75 760.1 L875.75 761 L879.38 761 L879.38 760.1 L883 760.1 L883 1017.8 Z" stroke="none" fill="#f8e3b9" stroke-width="1" />
<path d="M905.4 1017.8 L905.4 655.2 L909 655.2 L909 675.6 L912.59 675.6 L912.59 691.6 L916.19 691.6 L916.19 712 L919.79 712 L919.79 728.9 L923.38 728.9 L923.38 744.1 L926.98 744.1 L926.98 757.2 L930.58 757.2 L930.58 768.9 L934.17 768.9 L934.17 780.5 L937.77 780.5 L937.77 790.7 L941.37 790.7 L941.37 798 L944.96 798 L944.96 801.8 L948.56 801.8 L948.56 805.9 L952.16 805.9 L952.16 809.7 L955.75 809.7 L955.75 812.6 L959.35 812.6 L959.35 817.5 L962.95 817.5 L962.95 823.4 L966.54 823.4 L966.54 828.6 L970.14 828.6 L970.14 833.9 L973.74 833.9 L973.74 839.7 L977.33 839.7 L977.33 843.8 L980.93 843.8 L980.93 844.7 L984.53 844.7 L984.53 844.7 L988.12 844.7 L988.12 844.7 L991.72 844.7 L991.72 844.7 L995.32 844.7 L995.32 846.1 L998.91 846.1 L998.91 849 L1002.51 849 L1002.51 853.4 L1006.11 853.4 L1006.11 866 L1009.7 866 L1009.7 866 L1013.3 866 L1013.3 1017.8 Z" stroke="none" fill="#dcdcde" stroke-width="1" />
<rect x="98.6" y="545.2" width="947.9" height="472.5999999999999" fill="none" stroke="#000" stroke-width="2"/>
<line x1="98.6" y1="1017.8" x2="105.6" y2="1017.8" stroke="#000" stroke-width="1.5" />
<line x1="98.6" y1="987.55" x2="102.6" y2="987.55" stroke="#000" stroke-width="1.5" />
<line x1="98.6" y1="969.85" x2="102.6" y2="969.85" stroke="#000" stroke-width="1.5" />
<line x1="98.6" y1="957.29" x2="102.6" y2="957.29" stroke="#000" stroke-width="1.5" />
<line x1="98.6" y1="947.55" x2="102.6" y2="947.55" stroke="#000" stroke-width="1.5" />
<line x1="98.6" y1="939.6" x2="102.6" y2="939.6" stroke="#000" stroke-width="1.5" />
<line x1="98.6" y1="932.87" x2="102.6" y2="932.87" stroke="#000" stroke-width="1.5" />
<line x1="98.6" y1="927.04" x2="102.6" y2="927.04" stroke="#000" stroke-width="1.5" />
<line x1="98.6" y1="921.9" x2="102.6" y2="921.9" stroke="#000" stroke-width="1.5" />
<line x1="98.6" y1="917.3" x2="105.6" y2="917.3" stroke="#000" stroke-width="1.5" />
<line x1="98.6" y1="887.05" x2="102.6" y2="887.05" stroke="#000" stroke-width="1.5" />
<line x1="98.6" y1="869.35" x2="102.6" y2="869.35" stroke="#000" stroke-width="1.5" />
<line x1="98.6" y1="856.79" x2="102.6" y2="856.79" stroke="#000" stroke-width="1.5" />
<line x1="98.6" y1="847.05" x2="102.6" y2="847.05" stroke="#000" stroke-width="1.5" />
<line x1="98.6" y1="839.1" x2="102.6" y2="839.1" stroke="#000" stroke-width="1.5" />
<line x1="98.6" y1="832.37" x2="102.6" y2="832.37" stroke="#000" stroke-width="1.5" />
<line x1="98.6" y1="826.54" x2="102.6" y2="826.54" stroke="#000" stroke-width="1.5" />
<line x1="98.6" y1="821.4" x2="102.6" y2="821.4" stroke="#000" stroke-width="1.5" />
<line x1="98.6" y1="816.8" x2="105.6" y2="816.8" stroke="#000" stroke-width="1.5" />
<line x1="98.6" y1="786.55" x2="102.6" y2="786.55" stroke="#000" stroke-width="1.5" />
<line x1="98.6" y1="768.85" x2="102.6" y2="768.85" stroke="#000" stroke-width="1.5" />
<line x1="98.6" y1="756.29" x2="102.6" y2="756.29" stroke="#000" stroke-width="1.5" />
<line x1="98.6" y1="746.55" x2="102.6" y2="746.55" stroke="#000" stroke-width="1.5" />
<line x1="98.6" y1="738.6" x2="102.6" y2="738.6" stroke="#000" stroke-width="1.5" />
<line x1="98.6" y1="731.87" x2="102.6" y2="731.87" stroke="#000" stroke-width="1.5" />
<line x1="98.6" y1="726.04" x2="102.6" y2="726.04" stroke="#000" stroke-width="1.5" />
<line x1="98.6" y1="720.9" x2="102.6" y2="720.9" stroke="#000" stroke-width="1.5" />
<line x1="98.6" y1="716.3" x2="105.6" y2="716.3" stroke="#000" stroke-width="1.5" />
<line x1="98.6" y1="686.05" x2="102.6" y2="686.05" stroke="#000" stroke-width="1.5" />
<line x1="98.6" y1="668.35" x2="102.6" y2="668.35" stroke="#000" stroke-width="1.5" />
<line x1="98.6" y1="655.79" x2="102.6" y2="655.79" stroke="#000" stroke-width="1.5" />
<line x1="98.6" y1="646.05" x2="102.6" y2="646.05" stroke="#000" stroke-width="1.5" />
<line x1="98.6" y1="638.1" x2="102.6" y2="638.1" stroke="#000" stroke-width="1.5" />
<line x1="98.6" y1="631.37" x2="102.6" y2="631.37" stroke="#000" stroke-width="1.5" />
<line x1="98.6" y1="625.54" x2="102.6" y2="625.54" stroke="#000" stroke-width="1.5" />
<line x1="98.6" y1="620.4" x2="102.6" y2="620.4" stroke="#000" stroke-width="1.5" />
<line x1="98.6" y1="615.8" x2="105.6" y2="615.8" stroke="#000" stroke-width="1.5" />
<line x1="98.6" y1="585.55" x2="102.6" y2="585.55" stroke="#000" stroke-width="1.5" />
<line x1="98.6" y1="567.85" x2="102.6" y2="567.85" stroke="#000" stroke-width="1.5" />
<line x1="98.6" y1="555.29" x2="102.6" y2="555.29" stroke="#000" stroke-width="1.5" />
<line x1="98.6" y1="545.55" x2="102.6" y2="545.55" stroke="#000" stroke-width="1.5" />
<line x1="98.6" y1="585.55" x2="102.6" y2="585.55" stroke="#000" stroke-width="1.5" />
<line x1="98.6" y1="567.85" x2="102.6" y2="567.85" stroke="#000" stroke-width="1.5" />
<line x1="98.6" y1="555.29" x2="102.6" y2="555.29" stroke="#000" stroke-width="1.5" />
<line x1="120.6" y1="1017.8" x2="120.6" y2="1011.8" stroke="#000" stroke-width="1.5" />
<line x1="142.31" y1="1017.8" x2="142.31" y2="1013.8" stroke="#000" stroke-width="1.5" />
<line x1="164.02" y1="1017.8" x2="164.02" y2="1013.8" stroke="#000" stroke-width="1.5" />
<line x1="185.73" y1="1017.8" x2="185.73" y2="1013.8" stroke="#000" stroke-width="1.5" />
<line x1="207.44" y1="1017.8" x2="207.44" y2="1013.8" stroke="#000" stroke-width="1.5" />
<line x1="229.15" y1="1017.8" x2="229.15" y2="1011.8" stroke="#000" stroke-width="1.5" />
<line x1="250.86" y1="1017.8" x2="250.86" y2="1011.8" stroke="#000" stroke-width="1.5" />
<line x1="272.57" y1="1017.8" x2="272.57" y2="1013.8" stroke="#000" stroke-width="1.5" />
<line x1="294.28" y1="1017.8" x2="294.28" y2="1013.8" stroke="#000" stroke-width="1.5" />
<line x1="315.99" y1="1017.8" x2="315.99" y2="1013.8" stroke="#000" stroke-width="1.5" />
<line x1="337.7" y1="1017.8" x2="337.7" y2="1013.8" stroke="#000" stroke-width="1.5" />
<line x1="359.41" y1="1017.8" x2="359.41" y2="1011.8" stroke="#000" stroke-width="1.5" />
<line x1="381.12" y1="1017.8" x2="381.12" y2="1011.8" stroke="#000" stroke-width="1.5" />
<line x1="402.83" y1="1017.8" x2="402.83" y2="1013.8" stroke="#000" stroke-width="1.5" />
<line x1="424.54" y1="1017.8" x2="424.54" y2="1013.8" stroke="#000" stroke-width="1.5" />
<line x1="446.25" y1="1017.8" x2="446.25" y2="1013.8" stroke="#000" stroke-width="1.5" />
<line x1="467.96" y1="1017.8" x2="467.96" y2="1013.8" stroke="#000" stroke-width="1.5" />
<line x1="489.67" y1="1017.8" x2="489.67" y2="1011.8" stroke="#000" stroke-width="1.5" />
<line x1="511.38" y1="1017.8" x2="511.38" y2="1011.8" stroke="#000" stroke-width="1.5" />
<line x1="533.09" y1="1017.8" x2="533.09" y2="1013.8" stroke="#000" stroke-width="1.5" />
<line x1="554.8" y1="1017.8" x2="554.8" y2="1013.8" stroke="#000" stroke-width="1.5" />
<line x1="576.51" y1="1017.8" x2="576.51" y2="1013.8" stroke="#000" stroke-width="1.5" />
<line x1="598.22" y1="1017.8" x2="598.22" y2="1013.8" stroke="#000" stroke-width="1.5" />
<line x1="619.93" y1="1017.8" x2="619.93" y2="1011.8" stroke="#000" stroke-width="1.5" />
<line x1="641.64" y1="1017.8" x2="641.64" y2="1011.8" stroke="#000" stroke-width="1.5" />
<line x1="663.35" y1="1017.8" x2="663.35" y2="1013.8" stroke="#000" stroke-width="1.5" />
<line x1="685.06" y1="1017.8" x2="685.06" y2="1013.8" stroke="#000" stroke-width="1.5" />
<line x1="706.77" y1="1017.8" x2="706.77" y2="1013.8" stroke="#000" stroke-width="1.5" />
<line x1="728.48" y1="1017.8" x2="728.48" y2="1013.8" stroke="#000" stroke-width="1.5" />
<line x1="750.19" y1="1017.8" x2="750.19" y2="1011.8" stroke="#000" stroke-width="1.5" />
<line x1="771.9" y1="1017.8" x2="771.9" y2="1011.8" stroke="#000" stroke-width="1.5" />
<line x1="793.61" y1="1017.8" x2="793.61" y2="1013.8" stroke="#000" stroke-width="1.5" />
<line x1="815.32" y1="1017.8" x2="815.32" y2="1013.8" stroke="#000" stroke-width="1.5" />
<line x1="837.03" y1="1017.8" x2="837.03" y2="1013.8" stroke="#000" stroke-width="1.5" />
<line x1="858.74" y1="1017.8" x2="858.74" y2="1013.8" stroke="#000" stroke-width="1.5" />
<line x1="880.45" y1="1017.8" x2="880.45" y2="1011.8" stroke="#000" stroke-width="1.5" />
<line x1="902.16" y1="1017.8" x2="902.16" y2="1011.8" stroke="#000" stroke-width="1.5" />
<line x1="923.87" y1="1017.8" x2="923.87" y2="1013.8" stroke="#000" stroke-width="1.5" />
<line x1="945.58" y1="1017.8" x2="945.58" y2="1013.8" stroke="#000" stroke-width="1.5" />
<line x1="967.29" y1="1017.8" x2="967.29" y2="1013.8" stroke="#000" stroke-width="1.5" />
<line x1="989" y1="1017.8" x2="989" y2="1013.8" stroke="#000" stroke-width="1.5" />
<line x1="1010.71" y1="1017.8" x2="1010.71" y2="1011.8" stroke="#000" stroke-width="1.5" />
<rect x="231" y="1016.3" width="18" height="4" fill="#fff"/>
<line x1="233.6" y1="1025.3" x2="239.6" y2="1011.3" stroke="#000" stroke-width="3.4" />
<line x1="240.41" y1="1025.3" x2="246.41" y2="1011.3" stroke="#000" stroke-width="3.4" />
<rect x="361.26" y="1016.3" width="18" height="4" fill="#fff"/>
<line x1="363.87" y1="1025.3" x2="369.87" y2="1011.3" stroke="#000" stroke-width="3.4" />
<line x1="370.66" y1="1025.3" x2="376.66" y2="1011.3" stroke="#000" stroke-width="3.4" />
<rect x="491.52" y="1016.3" width="18" height="4" fill="#fff"/>
<line x1="494.12" y1="1025.3" x2="500.12" y2="1011.3" stroke="#000" stroke-width="3.4" />
<line x1="500.92" y1="1025.3" x2="506.92" y2="1011.3" stroke="#000" stroke-width="3.4" />
<rect x="621.78" y="1016.3" width="18" height="4" fill="#fff"/>
<line x1="624.38" y1="1025.3" x2="630.38" y2="1011.3" stroke="#000" stroke-width="3.4" />
<line x1="631.18" y1="1025.3" x2="637.18" y2="1011.3" stroke="#000" stroke-width="3.4" />
<rect x="752.04" y="1016.3" width="18" height="4" fill="#fff"/>
<line x1="754.64" y1="1025.3" x2="760.64" y2="1011.3" stroke="#000" stroke-width="3.4" />
<line x1="761.44" y1="1025.3" x2="767.44" y2="1011.3" stroke="#000" stroke-width="3.4" />
<rect x="882.3" y="1016.3" width="18" height="4" fill="#fff"/>
<line x1="884.9" y1="1025.3" x2="890.9" y2="1011.3" stroke="#000" stroke-width="3.4" />
<line x1="891.7" y1="1025.3" x2="897.7" y2="1011.3" stroke="#000" stroke-width="3.4" />
<text x="120.5" y="1049" font-size="23.5" text-anchor="middle"  style="">0</text>
<text x="229.28" y="1049" font-size="23.5" text-anchor="middle"  style="">100</text>
<text x="338.06" y="1049" font-size="23.5" text-anchor="middle"  style="">200</text>
<text x="446.84" y="1049" font-size="23.5" text-anchor="middle"  style="">300</text>
<text x="555.62" y="1049" font-size="23.5" text-anchor="middle"  style="">400</text>
<text x="664.4" y="1049" font-size="23.5" text-anchor="middle"  style="">500</text>
<text x="773.18" y="1049" font-size="23.5" text-anchor="middle"  style="">600</text>
<text x="881.96" y="1049" font-size="23.5" text-anchor="middle"  style="">700</text>
<text x="990.74" y="1049" font-size="23.5" text-anchor="middle"  style="">800</text>
<text x="90.5" y="1026.3" font-size="23" text-anchor="end">10<tspan dy="-8.5" font-size="16">−13</tspan></text>
<text x="90.5" y="925.8" font-size="23" text-anchor="end">10<tspan dy="-8.5" font-size="16">−12</tspan></text>
<text x="90.5" y="825.3" font-size="23" text-anchor="end">10<tspan dy="-8.5" font-size="16">−11</tspan></text>
<text x="90.5" y="724.8" font-size="23" text-anchor="end">10<tspan dy="-8.5" font-size="16">−10</tspan></text>
<text x="90.5" y="624.3" font-size="23" text-anchor="end">10<tspan dy="-8.5" font-size="16">−9</tspan></text>
<text x="584" y="1086.5" font-size="28" text-anchor="middle"  style="">Time (s)</text>
<text transform="translate(29.5,785.5) rotate(-90)" font-size="28.5" text-anchor="middle"><tspan font-style="italic">I</tspan><tspan font-size="19" dy="7">DS</tspan><tspan dy="-7"> (A)</tspan></text>
<text x="6.7" y="539.3" font-size="30" text-anchor="start"  style="">d</text>
<text x="112.5" y="572.6" font-size="21" text-anchor="start"  style="">Pulse width = 0.3 ms</text>
<text x="115.5" y="602.7" font-size="21" text-anchor="start"  style="">Pulse amplitude</text>
<line x1="114.2" y1="620.1" x2="152" y2="620.1" stroke="#8e8e8e" stroke-width="2.2" />
<text x="158.5" y="627.4" font-size="21" text-anchor="start"  style="">3.5 V</text>
<line x1="114.2" y1="644.96" x2="152" y2="644.96" stroke="#b97a72" stroke-width="2.2" />
<text x="158.5" y="652.26" font-size="21" text-anchor="start"  style="">4.0 V</text>
<line x1="114.2" y1="669.82" x2="152" y2="669.82" stroke="#e8957f" stroke-width="2.2" />
<text x="158.5" y="677.12" font-size="21" text-anchor="start"  style="">6.5 V</text>
<line x1="114.2" y1="694.68" x2="152" y2="694.68" stroke="#ecb07f" stroke-width="2.2" />
<text x="158.5" y="701.98" font-size="21" text-anchor="start"  style="">7.5 V</text>
<line x1="114.2" y1="719.54" x2="152" y2="719.54" stroke="#d6b55c" stroke-width="2.2" />
<text x="158.5" y="726.84" font-size="21" text-anchor="start"  style="">8.0 V</text>
<line x1="114.2" y1="744.4" x2="152" y2="744.4" stroke="#f9dfa9" stroke-width="2.2" />
<text x="158.5" y="751.7" font-size="21" text-anchor="start"  style="">12.0 V</text>
<line x1="114.2" y1="769.26" x2="152" y2="769.26" stroke="#d9d9d9" stroke-width="2.2" />
<text x="158.5" y="776.56" font-size="21" text-anchor="start"  style="">12.5 V</text>
</g>
<g id="pf">
<path d="M122.7 1606.5 L122.7 1454.2 L125.66 1454.2 L125.66 1479.4 L128.63 1479.4 L128.63 1502.07 L131.59 1502.07 L131.59 1503.55 L134.55 1503.55 L134.55 1505.04 L137.52 1505.04 L137.52 1506.52 L140.48 1506.52 L140.48 1503.44 L143.45 1503.44 L143.45 1489.92 L146.41 1489.92 L146.41 1462.26 L149.38 1462.26 L149.38 1430.51 L152.34 1430.51 L152.34 1402.35 L155.3 1402.35 L155.3 1379.1 L158.27 1379.1 L158.27 1358.31 L161.23 1358.31 L161.23 1345.42 L164.2 1345.42 L164.2 1335.24 L167.16 1335.24 L167.16 1328.2 L170.13 1328.2 L170.13 1322.55 L173.09 1322.55 L173.09 1317.15 L176.06 1317.15 L176.06 1312.97 L179.02 1312.97 L179.02 1308.6 L181.98 1308.6 L181.98 1304.56 L184.95 1304.56 L184.95 1300.96 L187.91 1300.96 L187.91 1298 L190.88 1298 L190.88 1295.32 L193.84 1295.32 L193.84 1293.1 L196.81 1293.1 L196.81 1291.18 L199.77 1291.18 L199.77 1289.7 L202.73 1289.7 L202.73 1288.22 L205.7 1288.22 L205.7 1286.74 L208.66 1286.74 L208.66 1284.89 L211.63 1284.89 L211.63 1282.67 L214.59 1282.67 L214.59 1280.83 L217.56 1280.83 L217.56 1279.35 L220.52 1279.35 L220.52 1277.87 L223.49 1277.87 L223.49 1276.39 L226.45 1276.39 L226.45 1275.34 L229.41 1275.34 L229.41 1274.6 L232.38 1274.6 L232.38 1274.02 L235.34 1274.02 L235.34 1273.54 L238.31 1273.54 L238.31 1273.06 L241.27 1273.06 L241.27 1272.86 L244.24 1272.86 L244.24 1272.86 L247.2 1272.86 L247.2 1606.5 Z" stroke="none" fill="#979797" stroke-width="1" />
<path d="M271.38 1606.5 L271.38 1485.69 L274.36 1485.69 L274.36 1492.09 L277.33 1492.09 L277.33 1499.52 L280.3 1499.52 L280.3 1494.48 L283.27 1494.48 L283.27 1482.4 L286.24 1482.4 L286.24 1414.2 L289.22 1414.2 L289.22 1370.08 L292.19 1370.08 L292.19 1340.76 L295.16 1340.76 L295.16 1318.74 L298.13 1318.74 L298.13 1303.25 L301.1 1303.25 L301.1 1292.54 L304.07 1292.54 L304.07 1283.87 L307.05 1283.87 L307.05 1276.2 L310.02 1276.2 L310.02 1269.88 L312.99 1269.88 L312.99 1265.07 L315.96 1265.07 L315.96 1261 L318.93 1261 L318.93 1257.35 L321.91 1257.35 L321.91 1254.38 L324.88 1254.38 L324.88 1251.67 L327.85 1251.67 L327.85 1249.44 L330.82 1249.44 L330.82 1247.33 L333.79 1247.33 L333.79 1245.39 L336.76 1245.39 L336.76 1243.68 L339.74 1243.68 L339.74 1242.25 L342.71 1242.25 L342.71 1240.82 L345.68 1240.82 L345.68 1239.82 L348.65 1239.82 L348.65 1238.83 L351.62 1238.83 L351.62 1237.85 L354.59 1237.85 L354.59 1237 L357.57 1237 L357.57 1236.15 L360.54 1236.15 L360.54 1235.3 L363.51 1235.3 L363.51 1234.6 L366.48 1234.6 L366.48 1234.01 L369.45 1234.01 L369.45 1233.41 L372.43 1233.41 L372.43 1232.82 L375.4 1232.82 L375.4 1232.32 L378.37 1232.32 L378.37 1231.88 L381.34 1231.88 L381.34 1231.43 L384.31 1231.43 L384.31 1230.98 L387.28 1230.98 L387.28 1230.58 L390.26 1230.58 L390.26 1230.58 L393.23 1230.58 L393.23 1230.58 L396.2 1230.58 L396.2 1606.5 Z" stroke="none" fill="#c48f88" stroke-width="1" />
<path d="M420.95 1606.5 L420.95 1490.06 L423.91 1490.06 L423.91 1324.29 L426.87 1324.29 L426.87 1270.62 L429.84 1270.62 L429.84 1251.78 L432.8 1251.78 L432.8 1240.14 L435.76 1240.14 L435.76 1231.33 L438.73 1231.33 L438.73 1223.27 L441.69 1223.27 L441.69 1218.64 L444.65 1218.64 L444.65 1215.24 L447.62 1215.24 L447.62 1213.46 L450.58 1213.46 L450.58 1211.68 L453.54 1211.68 L453.54 1210.4 L456.51 1210.4 L456.51 1209.13 L459.47 1209.13 L459.47 1207.86 L462.43 1207.86 L462.43 1206.81 L465.39 1206.81 L465.39 1205.95 L468.36 1205.95 L468.36 1205.09 L471.32 1205.09 L471.32 1204.24 L474.28 1204.24 L474.28 1203.42 L477.25 1203.42 L477.25 1202.93 L480.21 1202.93 L480.21 1202.43 L483.17 1202.43 L483.17 1201.94 L486.14 1201.94 L486.14 1201.44 L489.1 1201.44 L489.1 1200.95 L492.06 1200.95 L492.06 1200.53 L495.03 1200.53 L495.03 1200.42 L497.99 1200.42 L497.99 1200.32 L500.95 1200.32 L500.95 1200.21 L503.92 1200.21 L503.92 1200.1 L506.88 1200.1 L506.88 1199.99 L509.84 1199.99 L509.84 1199.81 L512.81 1199.81 L512.81 1199.61 L515.77 1199.61 L515.77 1199.4 L518.73 1199.4 L518.73 1199.2 L521.69 1199.2 L521.69 1198.99 L524.66 1198.99 L524.66 1198.79 L527.62 1198.79 L527.62 1198.58 L530.58 1198.58 L530.58 1198.51 L533.55 1198.51 L533.55 1198.51 L536.51 1198.51 L536.51 1198.51 L539.47 1198.51 L539.47 1198.51 L542.44 1198.51 L542.44 1198.51 L545.4 1198.51 L545.4 1606.5 Z" stroke="none" fill="#e69a90" stroke-width="1" />
<path d="M570.16 1606.5 L570.16 1452.1 L573.11 1452.1 L573.11 1497.12 L576.07 1497.12 L576.07 1285.27 L579.03 1285.27 L579.03 1266.29 L581.98 1266.29 L581.98 1254.27 L584.94 1254.27 L584.94 1250.13 L587.89 1250.13 L587.89 1247.45 L590.85 1247.45 L590.85 1248.4 L593.8 1248.4 L593.8 1249.34 L596.76 1249.34 L596.76 1251.33 L599.72 1251.33 L599.72 1253.55 L602.67 1253.55 L602.67 1255.77 L605.63 1255.77 L605.63 1257.98 L608.58 1257.98 L608.58 1260.2 L611.54 1260.2 L611.54 1262.42 L614.49 1262.42 L614.49 1264.37 L617.45 1264.37 L617.45 1266.29 L620.41 1266.29 L620.41 1269.1 L623.36 1269.1 L623.36 1272.19 L626.32 1272.19 L626.32 1276.13 L629.27 1276.13 L629.27 1279.66 L632.23 1279.66 L632.23 1283.04 L635.18 1283.04 L635.18 1285.25 L638.14 1285.25 L638.14 1287.46 L641.1 1287.46 L641.1 1289.23 L644.05 1289.23 L644.05 1291.01 L647.01 1291.01 L647.01 1292.93 L649.96 1292.93 L649.96 1294.86 L652.92 1294.86 L652.92 1296.78 L655.88 1296.78 L655.88 1298.71 L658.83 1298.71 L658.83 1300.78 L661.79 1300.78 L661.79 1302.73 L664.74 1302.73 L664.74 1303.91 L667.7 1303.91 L667.7 1305.19 L670.65 1305.19 L670.65 1306.97 L673.61 1306.97 L673.61 1308.77 L676.57 1308.77 L676.57 1310.69 L679.52 1310.69 L679.52 1312.28 L682.48 1312.28 L682.48 1312.73 L685.43 1312.73 L685.43 1313.21 L688.39 1313.21 L688.39 1313.84 L691.34 1313.84 L691.34 1314.22 L694.3 1314.22 L694.3 1606.5 Z" stroke="none" fill="#eebb93" stroke-width="1" />
<path d="M719.69 1606.5 L719.69 1288.86 L722.64 1288.86 L722.64 1254.79 L725.59 1254.79 L725.59 1242.08 L728.54 1242.08 L728.54 1239.68 L731.49 1239.68 L731.49 1242.59 L734.44 1242.59 L734.44 1246.47 L737.4 1246.47 L737.4 1252.6 L740.35 1252.6 L740.35 1258.55 L743.3 1258.55 L743.3 1261.79 L746.25 1261.79 L746.25 1265 L749.2 1265 L749.2 1267.95 L752.15 1267.95 L752.15 1270.97 L755.1 1270.97 L755.1 1274.36 L758.05 1274.36 L758.05 1277.68 L761 1277.68 L761 1280.63 L763.95 1280.63 L763.95 1283.58 L766.9 1283.58 L766.9 1286.53 L769.85 1286.53 L769.85 1289.33 L772.8 1289.33 L772.8 1291.54 L775.75 1291.54 L775.75 1293.92 L778.7 1293.92 L778.7 1296.87 L781.65 1296.87 L781.65 1300.01 L784.6 1300.01 L784.6 1303.7 L787.55 1303.7 L787.55 1307.18 L790.5 1307.18 L790.5 1310.13 L793.45 1310.13 L793.45 1313.31 L796.4 1313.31 L796.4 1316.99 L799.35 1316.99 L799.35 1320.68 L802.3 1320.68 L802.3 1324.37 L805.25 1324.37 L805.25 1327.95 L808.2 1327.95 L808.2 1331.35 L811.15 1331.35 L811.15 1334.79 L814.1 1334.79 L814.1 1338.33 L817.05 1338.33 L817.05 1341.81 L820 1341.81 L820 1345.21 L822.95 1345.21 L822.95 1348.72 L825.9 1348.72 L825.9 1352.41 L828.85 1352.41 L828.85 1356.1 L831.8 1356.1 L831.8 1359.79 L834.75 1359.79 L834.75 1363.47 L837.7 1363.47 L837.7 1367.15 L840.65 1367.15 L840.65 1369.03 L843.6 1369.03 L843.6 1606.5 Z" stroke="none" fill="#e2cb88" stroke-width="1" />
<path d="M868.36 1606.5 L868.36 1209.29 L871.32 1209.29 L871.32 1210.86 L874.28 1210.86 L874.28 1213.91 L877.25 1213.91 L877.25 1222.38 L880.21 1222.38 L880.21 1232.57 L883.17 1232.57 L883.17 1243.44 L886.13 1243.44 L886.13 1251.56 L889.1 1251.56 L889.1 1259.16 L892.06 1259.16 L892.06 1266.56 L895.02 1266.56 L895.02 1274.09 L897.99 1274.09 L897.99 1282.23 L900.95 1282.23 L900.95 1290.11 L903.91 1290.11 L903.91 1296.77 L906.87 1296.77 L906.87 1303.44 L909.84 1303.44 L909.84 1310.11 L912.8 1310.11 L912.8 1316.77 L915.76 1316.77 L915.76 1323.44 L918.73 1323.44 L918.73 1329.69 L921.69 1329.69 L921.69 1334.87 L924.65 1334.87 L924.65 1339.82 L927.62 1339.82 L927.62 1344.27 L930.58 1344.27 L930.58 1348.45 L933.54 1348.45 L933.54 1352.16 L936.5 1352.16 L936.5 1355.86 L939.47 1355.86 L939.47 1359.56 L942.43 1359.56 L942.43 1363.57 L945.39 1363.57 L945.39 1368.02 L948.36 1368.02 L948.36 1372.46 L951.32 1372.46 L951.32 1376.91 L954.28 1376.91 L954.28 1381.35 L957.24 1381.35 L957.24 1385.8 L960.21 1385.8 L960.21 1390.24 L963.17 1390.24 L963.17 1394.68 L966.13 1394.68 L966.13 1399.53 L969.1 1399.53 L969.1 1404.72 L972.06 1404.72 L972.06 1410.33 L975.02 1410.33 L975.02 1416.25 L977.99 1416.25 L977.99 1422.18 L980.95 1422.18 L980.95 1428.11 L983.91 1428.11 L983.91 1435.67 L986.87 1435.67 L986.87 1444.15 L989.84 1444.15 L989.84 1447.73 L992.8 1447.73 L992.8 1606.5 Z" stroke="none" fill="#f8e3b9" stroke-width="1" />
<rect x="97.0" y="1135.2" width="944.3" height="471.29999999999995" fill="none" stroke="#000" stroke-width="2"/>
<line x1="97" y1="1606.5" x2="104" y2="1606.5" stroke="#000" stroke-width="1.5" />
<line x1="97" y1="1576.29" x2="101" y2="1576.29" stroke="#000" stroke-width="1.5" />
<line x1="97" y1="1558.62" x2="101" y2="1558.62" stroke="#000" stroke-width="1.5" />
<line x1="97" y1="1546.08" x2="101" y2="1546.08" stroke="#000" stroke-width="1.5" />
<line x1="97" y1="1536.36" x2="101" y2="1536.36" stroke="#000" stroke-width="1.5" />
<line x1="97" y1="1528.41" x2="101" y2="1528.41" stroke="#000" stroke-width="1.5" />
<line x1="97" y1="1521.69" x2="101" y2="1521.69" stroke="#000" stroke-width="1.5" />
<line x1="97" y1="1515.87" x2="101" y2="1515.87" stroke="#000" stroke-width="1.5" />
<line x1="97" y1="1510.74" x2="101" y2="1510.74" stroke="#000" stroke-width="1.5" />
<line x1="97" y1="1506.15" x2="104" y2="1506.15" stroke="#000" stroke-width="1.5" />
<line x1="97" y1="1475.94" x2="101" y2="1475.94" stroke="#000" stroke-width="1.5" />
<line x1="97" y1="1458.27" x2="101" y2="1458.27" stroke="#000" stroke-width="1.5" />
<line x1="97" y1="1445.73" x2="101" y2="1445.73" stroke="#000" stroke-width="1.5" />
<line x1="97" y1="1436.01" x2="101" y2="1436.01" stroke="#000" stroke-width="1.5" />
<line x1="97" y1="1428.06" x2="101" y2="1428.06" stroke="#000" stroke-width="1.5" />
<line x1="97" y1="1421.34" x2="101" y2="1421.34" stroke="#000" stroke-width="1.5" />
<line x1="97" y1="1415.52" x2="101" y2="1415.52" stroke="#000" stroke-width="1.5" />
<line x1="97" y1="1410.39" x2="101" y2="1410.39" stroke="#000" stroke-width="1.5" />
<line x1="97" y1="1405.8" x2="104" y2="1405.8" stroke="#000" stroke-width="1.5" />
<line x1="97" y1="1375.59" x2="101" y2="1375.59" stroke="#000" stroke-width="1.5" />
<line x1="97" y1="1357.92" x2="101" y2="1357.92" stroke="#000" stroke-width="1.5" />
<line x1="97" y1="1345.38" x2="101" y2="1345.38" stroke="#000" stroke-width="1.5" />
<line x1="97" y1="1335.66" x2="101" y2="1335.66" stroke="#000" stroke-width="1.5" />
<line x1="97" y1="1327.71" x2="101" y2="1327.71" stroke="#000" stroke-width="1.5" />
<line x1="97" y1="1320.99" x2="101" y2="1320.99" stroke="#000" stroke-width="1.5" />
<line x1="97" y1="1315.17" x2="101" y2="1315.17" stroke="#000" stroke-width="1.5" />
<line x1="97" y1="1310.04" x2="101" y2="1310.04" stroke="#000" stroke-width="1.5" />
<line x1="97" y1="1305.45" x2="104" y2="1305.45" stroke="#000" stroke-width="1.5" />
<line x1="97" y1="1275.24" x2="101" y2="1275.24" stroke="#000" stroke-width="1.5" />
<line x1="97" y1="1257.57" x2="101" y2="1257.57" stroke="#000" stroke-width="1.5" />
<line x1="97" y1="1245.03" x2="101" y2="1245.03" stroke="#000" stroke-width="1.5" />
<line x1="97" y1="1235.31" x2="101" y2="1235.31" stroke="#000" stroke-width="1.5" />
<line x1="97" y1="1227.36" x2="101" y2="1227.36" stroke="#000" stroke-width="1.5" />
<line x1="97" y1="1220.64" x2="101" y2="1220.64" stroke="#000" stroke-width="1.5" />
<line x1="97" y1="1214.82" x2="101" y2="1214.82" stroke="#000" stroke-width="1.5" />
<line x1="97" y1="1209.69" x2="101" y2="1209.69" stroke="#000" stroke-width="1.5" />
<line x1="97" y1="1205.1" x2="104" y2="1205.1" stroke="#000" stroke-width="1.5" />
<line x1="97" y1="1174.89" x2="101" y2="1174.89" stroke="#000" stroke-width="1.5" />
<line x1="97" y1="1157.22" x2="101" y2="1157.22" stroke="#000" stroke-width="1.5" />
<line x1="97" y1="1144.68" x2="101" y2="1144.68" stroke="#000" stroke-width="1.5" />
<line x1="122" y1="1606.5" x2="122" y2="1600.5" stroke="#000" stroke-width="1.5" />
<line x1="146.87" y1="1606.5" x2="146.87" y2="1602.5" stroke="#000" stroke-width="1.5" />
<line x1="171.74" y1="1606.5" x2="171.74" y2="1602.5" stroke="#000" stroke-width="1.5" />
<line x1="196.61" y1="1606.5" x2="196.61" y2="1602.5" stroke="#000" stroke-width="1.5" />
<line x1="221.48" y1="1606.5" x2="221.48" y2="1602.5" stroke="#000" stroke-width="1.5" />
<line x1="246.35" y1="1606.5" x2="246.35" y2="1600.5" stroke="#000" stroke-width="1.5" />
<line x1="271.22" y1="1606.5" x2="271.22" y2="1600.5" stroke="#000" stroke-width="1.5" />
<line x1="296.09" y1="1606.5" x2="296.09" y2="1602.5" stroke="#000" stroke-width="1.5" />
<line x1="320.96" y1="1606.5" x2="320.96" y2="1602.5" stroke="#000" stroke-width="1.5" />
<line x1="345.83" y1="1606.5" x2="345.83" y2="1602.5" stroke="#000" stroke-width="1.5" />
<line x1="370.7" y1="1606.5" x2="370.7" y2="1602.5" stroke="#000" stroke-width="1.5" />
<line x1="395.57" y1="1606.5" x2="395.57" y2="1600.5" stroke="#000" stroke-width="1.5" />
<line x1="420.44" y1="1606.5" x2="420.44" y2="1600.5" stroke="#000" stroke-width="1.5" />
<line x1="445.31" y1="1606.5" x2="445.31" y2="1602.5" stroke="#000" stroke-width="1.5" />
<line x1="470.18" y1="1606.5" x2="470.18" y2="1602.5" stroke="#000" stroke-width="1.5" />
<line x1="495.05" y1="1606.5" x2="495.05" y2="1602.5" stroke="#000" stroke-width="1.5" />
<line x1="519.92" y1="1606.5" x2="519.92" y2="1602.5" stroke="#000" stroke-width="1.5" />
<line x1="544.79" y1="1606.5" x2="544.79" y2="1600.5" stroke="#000" stroke-width="1.5" />
<line x1="569.66" y1="1606.5" x2="569.66" y2="1600.5" stroke="#000" stroke-width="1.5" />
<line x1="594.53" y1="1606.5" x2="594.53" y2="1602.5" stroke="#000" stroke-width="1.5" />
<line x1="619.4" y1="1606.5" x2="619.4" y2="1602.5" stroke="#000" stroke-width="1.5" />
<line x1="644.27" y1="1606.5" x2="644.27" y2="1602.5" stroke="#000" stroke-width="1.5" />
<line x1="669.14" y1="1606.5" x2="669.14" y2="1602.5" stroke="#000" stroke-width="1.5" />
<line x1="694.01" y1="1606.5" x2="694.01" y2="1600.5" stroke="#000" stroke-width="1.5" />
<line x1="718.88" y1="1606.5" x2="718.88" y2="1600.5" stroke="#000" stroke-width="1.5" />
<line x1="743.75" y1="1606.5" x2="743.75" y2="1602.5" stroke="#000" stroke-width="1.5" />
<line x1="768.62" y1="1606.5" x2="768.62" y2="1602.5" stroke="#000" stroke-width="1.5" />
<line x1="793.49" y1="1606.5" x2="793.49" y2="1602.5" stroke="#000" stroke-width="1.5" />
<line x1="818.36" y1="1606.5" x2="818.36" y2="1602.5" stroke="#000" stroke-width="1.5" />
<line x1="843.23" y1="1606.5" x2="843.23" y2="1600.5" stroke="#000" stroke-width="1.5" />
<line x1="868.1" y1="1606.5" x2="868.1" y2="1600.5" stroke="#000" stroke-width="1.5" />
<line x1="892.97" y1="1606.5" x2="892.97" y2="1602.5" stroke="#000" stroke-width="1.5" />
<line x1="917.84" y1="1606.5" x2="917.84" y2="1602.5" stroke="#000" stroke-width="1.5" />
<line x1="942.71" y1="1606.5" x2="942.71" y2="1602.5" stroke="#000" stroke-width="1.5" />
<line x1="967.58" y1="1606.5" x2="967.58" y2="1602.5" stroke="#000" stroke-width="1.5" />
<line x1="992.45" y1="1606.5" x2="992.45" y2="1600.5" stroke="#000" stroke-width="1.5" />
<line x1="1017.32" y1="1606.5" x2="1017.32" y2="1602.5" stroke="#000" stroke-width="1.5" />
<rect x="249.78" y="1605.0" width="18" height="4" fill="#fff"/>
<line x1="252.38" y1="1614" x2="258.38" y2="1600" stroke="#000" stroke-width="3.4" />
<line x1="259.18" y1="1614" x2="265.18" y2="1600" stroke="#000" stroke-width="3.4" />
<rect x="399" y="1605.0" width="18" height="4" fill="#fff"/>
<line x1="401.61" y1="1614" x2="407.61" y2="1600" stroke="#000" stroke-width="3.4" />
<line x1="408.4" y1="1614" x2="414.4" y2="1600" stroke="#000" stroke-width="3.4" />
<rect x="548.23" y="1605.0" width="18" height="4" fill="#fff"/>
<line x1="550.83" y1="1614" x2="556.83" y2="1600" stroke="#000" stroke-width="3.4" />
<line x1="557.62" y1="1614" x2="563.62" y2="1600" stroke="#000" stroke-width="3.4" />
<rect x="697.45" y="1605.0" width="18" height="4" fill="#fff"/>
<line x1="700.05" y1="1614" x2="706.05" y2="1600" stroke="#000" stroke-width="3.4" />
<line x1="706.85" y1="1614" x2="712.85" y2="1600" stroke="#000" stroke-width="3.4" />
<rect x="846.67" y="1605.0" width="18" height="4" fill="#fff"/>
<line x1="849.27" y1="1614" x2="855.27" y2="1600" stroke="#000" stroke-width="3.4" />
<line x1="856.07" y1="1614" x2="862.07" y2="1600" stroke="#000" stroke-width="3.4" />
<text x="121.6" y="1638" font-size="23.5" text-anchor="middle"  style="">0</text>
<text x="245.9" y="1638" font-size="23.5" text-anchor="middle"  style="">100</text>
<text x="370.2" y="1638" font-size="23.5" text-anchor="middle"  style="">200</text>
<text x="494.5" y="1638" font-size="23.5" text-anchor="middle"  style="">300</text>
<text x="618.8" y="1638" font-size="23.5" text-anchor="middle"  style="">400</text>
<text x="743.1" y="1638" font-size="23.5" text-anchor="middle"  style="">500</text>
<text x="867.4" y="1638" font-size="23.5" text-anchor="middle"  style="">600</text>
<text x="991.7" y="1638" font-size="23.5" text-anchor="middle"  style="">700</text>
<text x="90" y="1615" font-size="23" text-anchor="end">10<tspan dy="-8.5" font-size="16">−13</tspan></text>
<text x="90" y="1514.65" font-size="23" text-anchor="end">10<tspan dy="-8.5" font-size="16">−12</tspan></text>
<text x="90" y="1414.3" font-size="23" text-anchor="end">10<tspan dy="-8.5" font-size="16">−11</tspan></text>
<text x="90" y="1313.95" font-size="23" text-anchor="end">10<tspan dy="-8.5" font-size="16">−10</tspan></text>
<text x="90" y="1213.6" font-size="23" text-anchor="end">10<tspan dy="-8.5" font-size="16">−9</tspan></text>
<text x="582" y="1674.5" font-size="28" text-anchor="middle"  style="">Time (s)</text>
<text transform="translate(29.5,1374.6) rotate(-90)" font-size="28.5" text-anchor="middle"><tspan font-style="italic">I</tspan><tspan font-size="19" dy="7">DS</tspan><tspan dy="-7"> (A)</tspan></text>
<text x="14.7" y="1133.8" font-size="30" text-anchor="start"  style="">f</text>
<text x="109" y="1158" font-size="21" text-anchor="start"  style="">Pulse</text>
<line x1="108" y1="1174.3" x2="146" y2="1174.3" stroke="#8e8e8e" stroke-width="2.2" />
<text x="152.4" y="1182.3" font-size="21" text-anchor="start"  style="">5V, 0.2 ms</text>
<line x1="108" y1="1199.1" x2="146" y2="1199.1" stroke="#b97a72" stroke-width="2.2" />
<text x="152.4" y="1207.1" font-size="21" text-anchor="start"  style="">5V, 0.7 ms</text>
<line x1="108" y1="1223.9" x2="146" y2="1223.9" stroke="#e8928a" stroke-width="2.2" />
<text x="152.4" y="1231.9" font-size="21" text-anchor="start"  style="">5V, 1.2 ms</text>
<text x="885.8" y="1162.6" font-size="21" text-anchor="start"  style="">Pulse</text>
<line x1="885" y1="1179" x2="923" y2="1179" stroke="#ecb07f" stroke-width="2.2" />
<text x="929.6" y="1187.5" font-size="21" text-anchor="start"  style="">10V, 0.2 ms</text>
<line x1="885" y1="1203.8" x2="923" y2="1203.8" stroke="#dfc37a" stroke-width="2.2" />
<text x="929.6" y="1212.3" font-size="21" text-anchor="start"  style="">10V, 0.7 ms</text>
<line x1="885" y1="1228.6" x2="923" y2="1228.6" stroke="#f9dfa9" stroke-width="2.2" />
<text x="929.6" y="1237.1" font-size="21" text-anchor="start"  style="">10V, 1.2 ms</text>
</g>
<g id="pe">
<line x1="1365.7" y1="792.3" x2="1365.7" y2="542.34" stroke="#c8c8c8" stroke-width="0.9" stroke-dasharray="2.2,1.6"/>
<line x1="1383" y1="792.3" x2="1383" y2="542.34" stroke="#c8c8c8" stroke-width="0.9" stroke-dasharray="2.2,1.6"/>
<line x1="1400.3" y1="792.3" x2="1400.3" y2="542.34" stroke="#c8c8c8" stroke-width="0.9" stroke-dasharray="2.2,1.6"/>
<line x1="1417.6" y1="792.3" x2="1417.6" y2="542.34" stroke="#c8c8c8" stroke-width="0.9" stroke-dasharray="2.2,1.6"/>
<line x1="1452.2" y1="792.3" x2="1452.2" y2="542.34" stroke="#c8c8c8" stroke-width="0.9" stroke-dasharray="2.2,1.6"/>
<line x1="1469.5" y1="792.3" x2="1469.5" y2="542.34" stroke="#c8c8c8" stroke-width="0.9" stroke-dasharray="2.2,1.6"/>
<line x1="1486.8" y1="792.3" x2="1486.8" y2="542.34" stroke="#c8c8c8" stroke-width="0.9" stroke-dasharray="2.2,1.6"/>
<line x1="1504.1" y1="792.3" x2="1504.1" y2="542.34" stroke="#c8c8c8" stroke-width="0.9" stroke-dasharray="2.2,1.6"/>
<line x1="1538.7" y1="792.3" x2="1538.7" y2="542.34" stroke="#c8c8c8" stroke-width="0.9" stroke-dasharray="2.2,1.6"/>
<line x1="1556" y1="792.3" x2="1556" y2="542.34" stroke="#c8c8c8" stroke-width="0.9" stroke-dasharray="2.2,1.6"/>
<line x1="1573.3" y1="792.3" x2="1573.3" y2="542.34" stroke="#c8c8c8" stroke-width="0.9" stroke-dasharray="2.2,1.6"/>
<line x1="1590.6" y1="792.3" x2="1590.6" y2="542.34" stroke="#c8c8c8" stroke-width="0.9" stroke-dasharray="2.2,1.6"/>
<line x1="1625.2" y1="792.3" x2="1625.2" y2="542.34" stroke="#c8c8c8" stroke-width="0.9" stroke-dasharray="2.2,1.6"/>
<line x1="1642.5" y1="792.3" x2="1642.5" y2="542.34" stroke="#c8c8c8" stroke-width="0.9" stroke-dasharray="2.2,1.6"/>
<line x1="1659.8" y1="792.3" x2="1659.8" y2="542.34" stroke="#c8c8c8" stroke-width="0.9" stroke-dasharray="2.2,1.6"/>
<line x1="1677.1" y1="792.3" x2="1677.1" y2="542.34" stroke="#c8c8c8" stroke-width="0.9" stroke-dasharray="2.2,1.6"/>
<line x1="1711.7" y1="792.3" x2="1711.7" y2="542.34" stroke="#c8c8c8" stroke-width="0.9" stroke-dasharray="2.2,1.6"/>
<line x1="1729" y1="792.3" x2="1729" y2="542.34" stroke="#c8c8c8" stroke-width="0.9" stroke-dasharray="2.2,1.6"/>
<line x1="1746.3" y1="792.3" x2="1746.3" y2="542.34" stroke="#c8c8c8" stroke-width="0.9" stroke-dasharray="2.2,1.6"/>
<line x1="1763.6" y1="792.3" x2="1763.6" y2="542.34" stroke="#c8c8c8" stroke-width="0.9" stroke-dasharray="2.2,1.6"/>
<line x1="1798.2" y1="792.3" x2="1798.2" y2="542.34" stroke="#c8c8c8" stroke-width="0.9" stroke-dasharray="2.2,1.6"/>
<line x1="1815.5" y1="792.3" x2="1815.5" y2="542.34" stroke="#c8c8c8" stroke-width="0.9" stroke-dasharray="2.2,1.6"/>
<line x1="1832.8" y1="792.3" x2="1832.8" y2="542.34" stroke="#c8c8c8" stroke-width="0.9" stroke-dasharray="2.2,1.6"/>
<line x1="1850.1" y1="792.3" x2="1850.1" y2="542.34" stroke="#c8c8c8" stroke-width="0.9" stroke-dasharray="2.2,1.6"/>
<line x1="1348.4" y1="775.64" x2="1867.4" y2="775.64" stroke="#c8c8c8" stroke-width="0.9" stroke-dasharray="2.2,1.6"/>
<line x1="1348.4" y1="758.97" x2="1867.4" y2="758.97" stroke="#c8c8c8" stroke-width="0.9" stroke-dasharray="2.2,1.6"/>
<line x1="1348.4" y1="742.31" x2="1867.4" y2="742.31" stroke="#c8c8c8" stroke-width="0.9" stroke-dasharray="2.2,1.6"/>
<line x1="1348.4" y1="725.64" x2="1867.4" y2="725.64" stroke="#c8c8c8" stroke-width="0.9" stroke-dasharray="2.2,1.6"/>
<line x1="1348.4" y1="692.32" x2="1867.4" y2="692.32" stroke="#c8c8c8" stroke-width="0.9" stroke-dasharray="2.2,1.6"/>
<line x1="1348.4" y1="675.65" x2="1867.4" y2="675.65" stroke="#c8c8c8" stroke-width="0.9" stroke-dasharray="2.2,1.6"/>
<line x1="1348.4" y1="658.99" x2="1867.4" y2="658.99" stroke="#c8c8c8" stroke-width="0.9" stroke-dasharray="2.2,1.6"/>
<line x1="1348.4" y1="642.32" x2="1867.4" y2="642.32" stroke="#c8c8c8" stroke-width="0.9" stroke-dasharray="2.2,1.6"/>
<line x1="1348.4" y1="609" x2="1867.4" y2="609" stroke="#c8c8c8" stroke-width="0.9" stroke-dasharray="2.2,1.6"/>
<line x1="1348.4" y1="592.33" x2="1867.4" y2="592.33" stroke="#c8c8c8" stroke-width="0.9" stroke-dasharray="2.2,1.6"/>
<line x1="1348.4" y1="575.67" x2="1867.4" y2="575.67" stroke="#c8c8c8" stroke-width="0.9" stroke-dasharray="2.2,1.6"/>
<line x1="1348.4" y1="559" x2="1867.4" y2="559" stroke="#c8c8c8" stroke-width="0.9" stroke-dasharray="2.2,1.6"/>
<line x1="1434.9" y1="792.3" x2="1434.9" y2="542.34" stroke="#9a9a9a" stroke-width="1.1" />
<line x1="1521.4" y1="792.3" x2="1521.4" y2="542.34" stroke="#9a9a9a" stroke-width="1.1" />
<line x1="1607.9" y1="792.3" x2="1607.9" y2="542.34" stroke="#9a9a9a" stroke-width="1.1" />
<line x1="1694.4" y1="792.3" x2="1694.4" y2="542.34" stroke="#9a9a9a" stroke-width="1.1" />
<line x1="1780.9" y1="792.3" x2="1780.9" y2="542.34" stroke="#9a9a9a" stroke-width="1.1" />
<line x1="1348.4" y1="708.98" x2="1867.4" y2="708.98" stroke="#9a9a9a" stroke-width="1.1" />
<line x1="1348.4" y1="625.66" x2="1867.4" y2="625.66" stroke="#9a9a9a" stroke-width="1.1" />
<line x1="1182.4" y1="999.64" x2="1348.4" y2="775.64" stroke="#c8c8c8" stroke-width="0.9" stroke-dasharray="2.2,1.6"/>
<line x1="1182.4" y1="982.97" x2="1348.4" y2="758.97" stroke="#c8c8c8" stroke-width="0.9" stroke-dasharray="2.2,1.6"/>
<line x1="1182.4" y1="966.31" x2="1348.4" y2="742.31" stroke="#c8c8c8" stroke-width="0.9" stroke-dasharray="2.2,1.6"/>
<line x1="1182.4" y1="949.64" x2="1348.4" y2="725.64" stroke="#c8c8c8" stroke-width="0.9" stroke-dasharray="2.2,1.6"/>
<line x1="1182.4" y1="916.32" x2="1348.4" y2="692.32" stroke="#c8c8c8" stroke-width="0.9" stroke-dasharray="2.2,1.6"/>
<line x1="1182.4" y1="899.65" x2="1348.4" y2="675.65" stroke="#c8c8c8" stroke-width="0.9" stroke-dasharray="2.2,1.6"/>
<line x1="1182.4" y1="882.99" x2="1348.4" y2="658.99" stroke="#c8c8c8" stroke-width="0.9" stroke-dasharray="2.2,1.6"/>
<line x1="1182.4" y1="866.32" x2="1348.4" y2="642.32" stroke="#c8c8c8" stroke-width="0.9" stroke-dasharray="2.2,1.6"/>
<line x1="1182.4" y1="833" x2="1348.4" y2="609" stroke="#c8c8c8" stroke-width="0.9" stroke-dasharray="2.2,1.6"/>
<line x1="1182.4" y1="816.33" x2="1348.4" y2="592.33" stroke="#c8c8c8" stroke-width="0.9" stroke-dasharray="2.2,1.6"/>
<line x1="1182.4" y1="799.67" x2="1348.4" y2="575.67" stroke="#c8c8c8" stroke-width="0.9" stroke-dasharray="2.2,1.6"/>
<line x1="1182.4" y1="783" x2="1348.4" y2="559" stroke="#c8c8c8" stroke-width="0.9" stroke-dasharray="2.2,1.6"/>
<line x1="1182.4" y1="932.98" x2="1348.4" y2="708.98" stroke="#9a9a9a" stroke-width="1.1" />
<line x1="1182.4" y1="849.66" x2="1348.4" y2="625.66" stroke="#9a9a9a" stroke-width="1.1" />
<line x1="1194.26" y1="1000.3" x2="1194.26" y2="750.34" stroke="#9a9a9a" stroke-width="1.1" />
<line x1="1217.97" y1="968.3" x2="1217.97" y2="718.34" stroke="#9a9a9a" stroke-width="1.1" />
<line x1="1241.69" y1="936.3" x2="1241.69" y2="686.34" stroke="#9a9a9a" stroke-width="1.1" />
<line x1="1265.4" y1="904.3" x2="1265.4" y2="654.34" stroke="#9a9a9a" stroke-width="1.1" />
<line x1="1289.11" y1="872.3" x2="1289.11" y2="622.34" stroke="#9a9a9a" stroke-width="1.1" />
<line x1="1312.83" y1="840.3" x2="1312.83" y2="590.34" stroke="#9a9a9a" stroke-width="1.1" />
<line x1="1336.54" y1="808.3" x2="1336.54" y2="558.34" stroke="#9a9a9a" stroke-width="1.1" />
<line x1="1199.7" y1="1016.3" x2="1365.7" y2="792.3" stroke="#c8c8c8" stroke-width="0.9" stroke-dasharray="2.2,1.6"/>
<line x1="1217" y1="1016.3" x2="1383" y2="792.3" stroke="#c8c8c8" stroke-width="0.9" stroke-dasharray="2.2,1.6"/>
<line x1="1234.3" y1="1016.3" x2="1400.3" y2="792.3" stroke="#c8c8c8" stroke-width="0.9" stroke-dasharray="2.2,1.6"/>
<line x1="1251.6" y1="1016.3" x2="1417.6" y2="792.3" stroke="#c8c8c8" stroke-width="0.9" stroke-dasharray="2.2,1.6"/>
<line x1="1286.2" y1="1016.3" x2="1452.2" y2="792.3" stroke="#c8c8c8" stroke-width="0.9" stroke-dasharray="2.2,1.6"/>
<line x1="1303.5" y1="1016.3" x2="1469.5" y2="792.3" stroke="#c8c8c8" stroke-width="0.9" stroke-dasharray="2.2,1.6"/>
<line x1="1320.8" y1="1016.3" x2="1486.8" y2="792.3" stroke="#c8c8c8" stroke-width="0.9" stroke-dasharray="2.2,1.6"/>
<line x1="1338.1" y1="1016.3" x2="1504.1" y2="792.3" stroke="#c8c8c8" stroke-width="0.9" stroke-dasharray="2.2,1.6"/>
<line x1="1372.7" y1="1016.3" x2="1538.7" y2="792.3" stroke="#c8c8c8" stroke-width="0.9" stroke-dasharray="2.2,1.6"/>
<line x1="1390" y1="1016.3" x2="1556" y2="792.3" stroke="#c8c8c8" stroke-width="0.9" stroke-dasharray="2.2,1.6"/>
<line x1="1407.3" y1="1016.3" x2="1573.3" y2="792.3" stroke="#c8c8c8" stroke-width="0.9" stroke-dasharray="2.2,1.6"/>
<line x1="1424.6" y1="1016.3" x2="1590.6" y2="792.3" stroke="#c8c8c8" stroke-width="0.9" stroke-dasharray="2.2,1.6"/>
<line x1="1459.2" y1="1016.3" x2="1625.2" y2="792.3" stroke="#c8c8c8" stroke-width="0.9" stroke-dasharray="2.2,1.6"/>
<line x1="1476.5" y1="1016.3" x2="1642.5" y2="792.3" stroke="#c8c8c8" stroke-width="0.9" stroke-dasharray="2.2,1.6"/>
<line x1="1493.8" y1="1016.3" x2="1659.8" y2="792.3" stroke="#c8c8c8" stroke-width="0.9" stroke-dasharray="2.2,1.6"/>
<line x1="1511.1" y1="1016.3" x2="1677.1" y2="792.3" stroke="#c8c8c8" stroke-width="0.9" stroke-dasharray="2.2,1.6"/>
<line x1="1545.7" y1="1016.3" x2="1711.7" y2="792.3" stroke="#c8c8c8" stroke-width="0.9" stroke-dasharray="2.2,1.6"/>
<line x1="1563" y1="1016.3" x2="1729" y2="792.3" stroke="#c8c8c8" stroke-width="0.9" stroke-dasharray="2.2,1.6"/>
<line x1="1580.3" y1="1016.3" x2="1746.3" y2="792.3" stroke="#c8c8c8" stroke-width="0.9" stroke-dasharray="2.2,1.6"/>
<line x1="1597.6" y1="1016.3" x2="1763.6" y2="792.3" stroke="#c8c8c8" stroke-width="0.9" stroke-dasharray="2.2,1.6"/>
<line x1="1632.2" y1="1016.3" x2="1798.2" y2="792.3" stroke="#c8c8c8" stroke-width="0.9" stroke-dasharray="2.2,1.6"/>
<line x1="1649.5" y1="1016.3" x2="1815.5" y2="792.3" stroke="#c8c8c8" stroke-width="0.9" stroke-dasharray="2.2,1.6"/>
<line x1="1666.8" y1="1016.3" x2="1832.8" y2="792.3" stroke="#c8c8c8" stroke-width="0.9" stroke-dasharray="2.2,1.6"/>
<line x1="1684.1" y1="1016.3" x2="1850.1" y2="792.3" stroke="#c8c8c8" stroke-width="0.9" stroke-dasharray="2.2,1.6"/>
<line x1="1268.9" y1="1016.3" x2="1434.9" y2="792.3" stroke="#9a9a9a" stroke-width="1.1" />
<line x1="1355.4" y1="1016.3" x2="1521.4" y2="792.3" stroke="#9a9a9a" stroke-width="1.1" />
<line x1="1441.9" y1="1016.3" x2="1607.9" y2="792.3" stroke="#9a9a9a" stroke-width="1.1" />
<line x1="1528.4" y1="1016.3" x2="1694.4" y2="792.3" stroke="#9a9a9a" stroke-width="1.1" />
<line x1="1614.9" y1="1016.3" x2="1780.9" y2="792.3" stroke="#9a9a9a" stroke-width="1.1" />
<line x1="1194.26" y1="1000.3" x2="1713.26" y2="1000.3" stroke="#cfcfcf" stroke-width="1.1" />
<line x1="1217.97" y1="968.3" x2="1736.97" y2="968.3" stroke="#cfcfcf" stroke-width="1.1" />
<line x1="1241.69" y1="936.3" x2="1760.69" y2="936.3" stroke="#cfcfcf" stroke-width="1.1" />
<line x1="1265.4" y1="904.3" x2="1784.4" y2="904.3" stroke="#cfcfcf" stroke-width="1.1" />
<line x1="1289.11" y1="872.3" x2="1808.11" y2="872.3" stroke="#cfcfcf" stroke-width="1.1" />
<line x1="1312.83" y1="840.3" x2="1831.83" y2="840.3" stroke="#cfcfcf" stroke-width="1.1" />
<line x1="1336.54" y1="808.3" x2="1855.54" y2="808.3" stroke="#cfcfcf" stroke-width="1.1" />
<line x1="1348.4" y1="792.3" x2="1348.4" y2="542.34" stroke="#111" stroke-width="2" />
<line x1="1348.4" y1="792.3" x2="1867.4" y2="792.3" stroke="#222" stroke-width="1.5" />
<line x1="1182.4" y1="1016.3" x2="1348.4" y2="792.3" stroke="#222" stroke-width="1.5" />
<path d="M1351.25 808.3 L1351.25 807.47 L1423.04 807.47 L1509.54 807.47 L1596.04 807.47 L1682.54 807.26 L1717.14 807.05 L1782.19 805.8 L1806.41 801.63 L1832.01 799.13 L1854.68 797.68 L1854.68 808.3 Z" stroke="none" fill="#8f8f8f" stroke-width="1" fill-opacity="0.6"/>
<path d="M1351.25 807.47 L1423.04 807.47 L1509.54 807.47 L1596.04 807.47 L1682.54 807.26 L1717.14 807.05 L1782.19 805.8 L1806.41 801.63 L1832.01 799.13 L1854.68 797.68" stroke="#9c9c9c" fill="none" stroke-width="3.2" stroke-linejoin="round" stroke-linecap="round" stroke-opacity="1.0"/>
<path d="M1327.88 840.3 L1327.88 839.05 L1382.03 839.05 L1463.34 838.63 L1499.67 831.97 L1553.3 813.22 L1600.01 794.47 L1648.45 777.81 L1672.67 772.81 L1696.89 767.19 L1721.11 761.56 L1745.33 756.77 L1769.55 754.27 L1785.12 753.02 L1809.34 753.44 L1831.83 750.94 L1831.83 840.3 Z" stroke="none" fill="#c08c85" stroke-width="1" fill-opacity="0.6"/>
<path d="M1327.88 839.05 L1382.03 839.05 L1463.34 838.63 L1499.67 831.97 L1553.3 813.22 L1600.01 794.47 L1648.45 777.81 L1672.67 772.81 L1696.89 767.19 L1721.11 761.56 L1745.33 756.77 L1769.55 754.27 L1785.12 753.02 L1809.34 753.44 L1831.83 750.94" stroke="#c9928b" fill="none" stroke-width="3" stroke-linejoin="round" stroke-linecap="round" stroke-opacity="1.0"/>
<path d="M1303.65 872.3 L1303.65 871.05 L1341.01 871.05 L1390.49 870.63 L1408.66 866.88 L1426.82 859.59 L1444.81 848.76 L1462.98 837.93 L1481.14 823.35 L1499.14 810.64 L1517.3 797.94 L1535.47 786.9 L1553.46 778.77 L1560.03 775.86 L1576.12 769.4 L1592.21 762.94 L1608.3 757.32 L1627.68 750.86 L1648.44 746.07 L1672.66 743.78 L1696.88 740.45 L1721.1 733.99 L1737.18 730.03 L1753.27 726.91 L1769.36 725.24 L1785.45 723.57 L1807.94 723.57 L1807.94 872.3 Z" stroke="none" fill="#e28c84" stroke-width="1" fill-opacity="0.6"/>
<path d="M1303.65 871.05 L1341.01 871.05 L1390.49 870.63 L1408.66 866.88 L1426.82 859.59 L1444.81 848.76 L1462.98 837.93 L1481.14 823.35 L1499.14 810.64 L1517.3 797.94 L1535.47 786.9 L1553.46 778.77 L1560.03 775.86 L1576.12 769.4 L1592.21 762.94 L1608.3 757.32 L1627.68 750.86 L1648.44 746.07 L1672.66 743.78 L1696.88 740.45 L1721.1 733.99 L1737.18 730.03 L1753.27 726.91 L1769.36 725.24 L1785.45 723.57 L1807.94 723.57" stroke="#eba197" fill="none" stroke-width="3" stroke-linejoin="round" stroke-linecap="round" stroke-opacity="1.0"/>
<path d="M1281.66 904.3 L1281.66 903.26 L1318.86 903.26 L1355.01 873.05 L1381.14 840.98 L1411.41 800.77 L1441.51 768.7 L1465.73 744.95 L1489.95 721.2 L1507.95 717.25 L1526.11 710.16 L1542.2 702.67 L1559.85 699.33 L1576.8 699.33 L1593.75 692.25 L1608.29 689.75 L1624.38 688.92 L1640.46 687.25 L1662.95 681.63 L1680.6 673.71 L1697.55 670.38 L1716.07 676.84 L1730.6 675.79 L1749.97 678.5 L1767.62 687.25 L1785.44 673.71 L1785.44 904.3 Z" stroke="none" fill="#ebb88c" stroke-width="1" fill-opacity="0.6"/>
<path d="M1281.66 903.26 L1318.86 903.26 L1355.01 873.05 L1381.14 840.98 L1411.41 800.77 L1441.51 768.7 L1465.73 744.95 L1489.95 721.2 L1507.95 717.25 L1526.11 710.16 L1542.2 702.67 L1559.85 699.33 L1576.8 699.33 L1593.75 692.25 L1608.29 689.75 L1624.38 688.92 L1640.46 687.25 L1662.95 681.63 L1680.6 673.71 L1697.55 670.38 L1716.07 676.84 L1730.6 675.79 L1749.97 678.5 L1767.62 687.25 L1785.44 673.71" stroke="#efb58a" fill="none" stroke-width="3.6" stroke-linejoin="round" stroke-linecap="round" stroke-opacity="1.0"/>
<path d="M1255.53 936.3 L1255.53 936.3 L1273.52 735.08 L1289.61 748.21 L1308.81 756.12 L1328.88 762.16 L1348.95 766.33 L1381.12 768.62 L1421.61 769.24 L1461.4 770.28 L1501.88 773.2 L1542.71 776.33 L1560.01 778.41 L1608.27 778.41 L1656.54 779.03 L1688.72 782.16 L1737.16 783.82 L1759.65 779.03 L1759.65 936.3 Z" stroke="none" fill="#dcc67a" stroke-width="1" fill-opacity="0.6"/>
<path d="M1255.53 936.3 L1273.52 735.08 L1289.61 748.21 L1308.81 756.12 L1328.88 762.16 L1348.95 766.33 L1381.12 768.62 L1421.61 769.24 L1461.4 770.28 L1501.88 773.2 L1542.71 776.33 L1560.01 778.41 L1608.27 778.41 L1656.54 779.03 L1688.72 782.16 L1737.16 783.82 L1759.65 779.03" stroke="#e3cc7c" fill="none" stroke-width="3.6" stroke-linejoin="round" stroke-linecap="round" stroke-opacity="1.0"/>
<path d="M1233.2 968.3 L1233.2 968.3 L1249.46 756.25 L1264.51 776.66 L1280.6 794.79 L1292.71 809.99 L1310.7 838.95 L1332.84 859.15 L1354.99 874.98 L1381.11 891.23 L1421.42 906.23 L1461.73 915.39 L1501.86 921.43 L1542.17 933.51 L1579.54 941.43 L1633.17 947.47 L1685.07 952.05 L1736.45 955.45 L1736.45 968.3 Z" stroke="none" fill="#f8e1ad" stroke-width="1" fill-opacity="0.6"/>
<path d="M1233.2 968.3 L1249.46 756.25 L1264.51 776.66 L1280.6 794.79 L1292.71 809.99 L1310.7 838.95 L1332.84 859.15 L1354.99 874.98 L1381.11 891.23 L1421.42 906.23 L1461.73 915.39 L1501.86 921.43 L1542.17 933.51 L1579.54 941.43 L1633.17 947.47 L1685.07 952.05 L1736.45 955.45" stroke="#fae3b6" fill="none" stroke-width="3.6" stroke-linejoin="round" stroke-linecap="round" stroke-opacity="1.0"/>
<path d="M1208.1 1000.3 L1208.1 1000.3 L1225.92 907.19 L1240.45 935.31 L1260.52 953.43 L1280.76 967.6 L1300.31 978.85 L1320.55 984.68 L1341.31 988.64 L1370.72 991.76 L1420.89 993.84 L1500.47 995.93 L1580.05 997.38 L1713.26 998.22 L1713.26 1000.3 Z" stroke="none" fill="#d6d6da" stroke-width="1" fill-opacity="0.6"/>
<path d="M1208.1 1000.3 L1225.92 907.19 L1240.45 935.31 L1260.52 953.43 L1280.76 967.6 L1300.31 978.85 L1320.55 984.68 L1341.31 988.64 L1370.72 991.76 L1420.89 993.84 L1500.47 995.93 L1580.05 997.38 L1713.26 998.22" stroke="#dcdcde" fill="none" stroke-width="3.6" stroke-linejoin="round" stroke-linecap="round" stroke-opacity="1.0"/>
<path d="M1182.4 1016.3 L1182.4 766.34 L1348.4 542.34 L1867.4 542.34" stroke="#000" fill="none" stroke-width="2.8" stroke-linejoin="miter"/>
<path d="M1182.4 1016.3 L1701.4 1016.3 L1867.4 792.3 L1867.4 542.34" stroke="#000" fill="none" stroke-width="2.8" stroke-linejoin="miter"/>
<line x1="1182.4" y1="1016.3" x2="1182.4" y2="1023.3" stroke="#000" stroke-width="1.8" />
<line x1="1199.7" y1="1016.3" x2="1199.7" y2="1020.1" stroke="#000" stroke-width="1.8" />
<line x1="1217" y1="1016.3" x2="1217" y2="1020.1" stroke="#000" stroke-width="1.8" />
<line x1="1234.3" y1="1016.3" x2="1234.3" y2="1020.1" stroke="#000" stroke-width="1.8" />
<line x1="1251.6" y1="1016.3" x2="1251.6" y2="1020.1" stroke="#000" stroke-width="1.8" />
<line x1="1268.9" y1="1016.3" x2="1268.9" y2="1023.3" stroke="#000" stroke-width="1.8" />
<line x1="1286.2" y1="1016.3" x2="1286.2" y2="1020.1" stroke="#000" stroke-width="1.8" />
<line x1="1303.5" y1="1016.3" x2="1303.5" y2="1020.1" stroke="#000" stroke-width="1.8" />
<line x1="1320.8" y1="1016.3" x2="1320.8" y2="1020.1" stroke="#000" stroke-width="1.8" />
<line x1="1338.1" y1="1016.3" x2="1338.1" y2="1020.1" stroke="#000" stroke-width="1.8" />
<line x1="1355.4" y1="1016.3" x2="1355.4" y2="1023.3" stroke="#000" stroke-width="1.8" />
<line x1="1372.7" y1="1016.3" x2="1372.7" y2="1020.1" stroke="#000" stroke-width="1.8" />
<line x1="1390" y1="1016.3" x2="1390" y2="1020.1" stroke="#000" stroke-width="1.8" />
<line x1="1407.3" y1="1016.3" x2="1407.3" y2="1020.1" stroke="#000" stroke-width="1.8" />
<line x1="1424.6" y1="1016.3" x2="1424.6" y2="1020.1" stroke="#000" stroke-width="1.8" />
<line x1="1441.9" y1="1016.3" x2="1441.9" y2="1023.3" stroke="#000" stroke-width="1.8" />
<line x1="1459.2" y1="1016.3" x2="1459.2" y2="1020.1" stroke="#000" stroke-width="1.8" />
<line x1="1476.5" y1="1016.3" x2="1476.5" y2="1020.1" stroke="#000" stroke-width="1.8" />
<line x1="1493.8" y1="1016.3" x2="1493.8" y2="1020.1" stroke="#000" stroke-width="1.8" />
<line x1="1511.1" y1="1016.3" x2="1511.1" y2="1020.1" stroke="#000" stroke-width="1.8" />
<line x1="1528.4" y1="1016.3" x2="1528.4" y2="1023.3" stroke="#000" stroke-width="1.8" />
<line x1="1545.7" y1="1016.3" x2="1545.7" y2="1020.1" stroke="#000" stroke-width="1.8" />
<line x1="1563" y1="1016.3" x2="1563" y2="1020.1" stroke="#000" stroke-width="1.8" />
<line x1="1580.3" y1="1016.3" x2="1580.3" y2="1020.1" stroke="#000" stroke-width="1.8" />
<line x1="1597.6" y1="1016.3" x2="1597.6" y2="1020.1" stroke="#000" stroke-width="1.8" />
<line x1="1614.9" y1="1016.3" x2="1614.9" y2="1023.3" stroke="#000" stroke-width="1.8" />
<line x1="1632.2" y1="1016.3" x2="1632.2" y2="1020.1" stroke="#000" stroke-width="1.8" />
<line x1="1649.5" y1="1016.3" x2="1649.5" y2="1020.1" stroke="#000" stroke-width="1.8" />
<line x1="1666.8" y1="1016.3" x2="1666.8" y2="1020.1" stroke="#000" stroke-width="1.8" />
<line x1="1684.1" y1="1016.3" x2="1684.1" y2="1020.1" stroke="#000" stroke-width="1.8" />
<line x1="1701.4" y1="1016.3" x2="1701.4" y2="1023.3" stroke="#000" stroke-width="1.8" />
<line x1="1867.4" y1="792.3" x2="1874.4" y2="792.3" stroke="#000" stroke-width="1.8" />
<line x1="1867.4" y1="775.64" x2="1871.2" y2="775.64" stroke="#000" stroke-width="1.8" />
<line x1="1867.4" y1="758.97" x2="1871.2" y2="758.97" stroke="#000" stroke-width="1.8" />
<line x1="1867.4" y1="742.31" x2="1871.2" y2="742.31" stroke="#000" stroke-width="1.8" />
<line x1="1867.4" y1="725.64" x2="1871.2" y2="725.64" stroke="#000" stroke-width="1.8" />
<line x1="1867.4" y1="708.98" x2="1874.4" y2="708.98" stroke="#000" stroke-width="1.8" />
<line x1="1867.4" y1="692.32" x2="1871.2" y2="692.32" stroke="#000" stroke-width="1.8" />
<line x1="1867.4" y1="675.65" x2="1871.2" y2="675.65" stroke="#000" stroke-width="1.8" />
<line x1="1867.4" y1="658.99" x2="1871.2" y2="658.99" stroke="#000" stroke-width="1.8" />
<line x1="1867.4" y1="642.32" x2="1871.2" y2="642.32" stroke="#000" stroke-width="1.8" />
<line x1="1867.4" y1="625.66" x2="1874.4" y2="625.66" stroke="#000" stroke-width="1.8" />
<line x1="1867.4" y1="609" x2="1871.2" y2="609" stroke="#000" stroke-width="1.8" />
<line x1="1867.4" y1="592.33" x2="1871.2" y2="592.33" stroke="#000" stroke-width="1.8" />
<line x1="1867.4" y1="575.67" x2="1871.2" y2="575.67" stroke="#000" stroke-width="1.8" />
<line x1="1867.4" y1="559" x2="1871.2" y2="559" stroke="#000" stroke-width="1.8" />
<line x1="1867.4" y1="542.34" x2="1874.4" y2="542.34" stroke="#000" stroke-width="1.8" />
<line x1="1713.26" y1="1000.3" x2="1719.26" y2="1000.3" stroke="#000" stroke-width="2.2" />
<line x1="1736.97" y1="968.3" x2="1742.97" y2="968.3" stroke="#000" stroke-width="2.2" />
<line x1="1760.69" y1="936.3" x2="1766.69" y2="936.3" stroke="#000" stroke-width="2.2" />
<line x1="1784.4" y1="904.3" x2="1790.4" y2="904.3" stroke="#000" stroke-width="2.2" />
<line x1="1808.11" y1="872.3" x2="1814.11" y2="872.3" stroke="#000" stroke-width="2.2" />
<line x1="1831.83" y1="840.3" x2="1837.83" y2="840.3" stroke="#000" stroke-width="2.2" />
<line x1="1855.54" y1="808.3" x2="1861.54" y2="808.3" stroke="#000" stroke-width="2.2" />
<text x="1182.4" y="1049" font-size="29" text-anchor="middle"  style="">0</text>
<text x="1268.9" y="1049" font-size="29" text-anchor="middle"  style="">5</text>
<text x="1355.4" y="1049" font-size="29" text-anchor="middle"  style="">10</text>
<text x="1441.9" y="1049" font-size="29" text-anchor="middle"  style="">15</text>
<text x="1528.4" y="1049" font-size="29" text-anchor="middle"  style="">20</text>
<text x="1614.9" y="1049" font-size="29" text-anchor="middle"  style="">25</text>
<text x="1701.4" y="1049" font-size="29" text-anchor="middle"  style="">30</text>
<text x="1434.7" y="1086.5" font-size="29.5" text-anchor="middle"  style="">Pulse number #</text>
<text x="1877.4" y="802.3" font-size="28.5" text-anchor="start"  style="">0.0</text>
<text x="1877.4" y="718.98" font-size="28.5" text-anchor="start"  style="">0.4</text>
<text x="1877.4" y="635.66" font-size="28.5" text-anchor="start"  style="">0.8</text>
<text x="1877.4" y="552.34" font-size="28.5" text-anchor="start"  style="">1.2</text>
<text transform="translate(1933.5,668) rotate(90)" font-size="29" text-anchor="middle"><tspan font-style="italic">I</tspan><tspan font-size="19" dy="7.5">DS</tspan><tspan dy="-7.5"> (nA)</tspan></text>
<text transform="matrix(1,0,-0.62,0.9,1736.26,1012.8)" font-size="24.5">12.5</text>
<text transform="matrix(1,0,-0.62,0.9,1759.97,980.8)" font-size="24.5">12.0</text>
<text transform="matrix(1,0,-0.62,0.9,1783.69,948.8)" font-size="24.5">8.0</text>
<text transform="matrix(1,0,-0.62,0.9,1807.4,916.8)" font-size="24.5">7.5</text>
<text transform="matrix(1,0,-0.62,0.9,1831.11,884.8)" font-size="24.5">6.5</text>
<text transform="matrix(1,0,-0.62,0.9,1854.83,852.8)" font-size="24.5">4.0</text>
<text transform="matrix(1,0,-0.62,0.9,1878.54,820.8)" font-size="24.5">3.5</text>
<text transform="translate(1885,933) rotate(-57.5)" font-size="28.5" text-anchor="middle">Pulse amplitude (V)</text>
<text x="1151.3" y="536.4" font-size="30" text-anchor="start"  style="">e</text>
</g>
<g id="pg">
<line x1="1362.18" y1="1380.5" x2="1362.18" y2="1134.5" stroke="#c8c8c8" stroke-width="0.9" stroke-dasharray="2.2,1.6"/>
<line x1="1379.46" y1="1380.5" x2="1379.46" y2="1134.5" stroke="#c8c8c8" stroke-width="0.9" stroke-dasharray="2.2,1.6"/>
<line x1="1396.74" y1="1380.5" x2="1396.74" y2="1134.5" stroke="#c8c8c8" stroke-width="0.9" stroke-dasharray="2.2,1.6"/>
<line x1="1414.02" y1="1380.5" x2="1414.02" y2="1134.5" stroke="#c8c8c8" stroke-width="0.9" stroke-dasharray="2.2,1.6"/>
<line x1="1448.58" y1="1380.5" x2="1448.58" y2="1134.5" stroke="#c8c8c8" stroke-width="0.9" stroke-dasharray="2.2,1.6"/>
<line x1="1465.86" y1="1380.5" x2="1465.86" y2="1134.5" stroke="#c8c8c8" stroke-width="0.9" stroke-dasharray="2.2,1.6"/>
<line x1="1483.14" y1="1380.5" x2="1483.14" y2="1134.5" stroke="#c8c8c8" stroke-width="0.9" stroke-dasharray="2.2,1.6"/>
<line x1="1500.42" y1="1380.5" x2="1500.42" y2="1134.5" stroke="#c8c8c8" stroke-width="0.9" stroke-dasharray="2.2,1.6"/>
<line x1="1534.98" y1="1380.5" x2="1534.98" y2="1134.5" stroke="#c8c8c8" stroke-width="0.9" stroke-dasharray="2.2,1.6"/>
<line x1="1552.26" y1="1380.5" x2="1552.26" y2="1134.5" stroke="#c8c8c8" stroke-width="0.9" stroke-dasharray="2.2,1.6"/>
<line x1="1569.54" y1="1380.5" x2="1569.54" y2="1134.5" stroke="#c8c8c8" stroke-width="0.9" stroke-dasharray="2.2,1.6"/>
<line x1="1586.82" y1="1380.5" x2="1586.82" y2="1134.5" stroke="#c8c8c8" stroke-width="0.9" stroke-dasharray="2.2,1.6"/>
<line x1="1621.38" y1="1380.5" x2="1621.38" y2="1134.5" stroke="#c8c8c8" stroke-width="0.9" stroke-dasharray="2.2,1.6"/>
<line x1="1638.66" y1="1380.5" x2="1638.66" y2="1134.5" stroke="#c8c8c8" stroke-width="0.9" stroke-dasharray="2.2,1.6"/>
<line x1="1655.94" y1="1380.5" x2="1655.94" y2="1134.5" stroke="#c8c8c8" stroke-width="0.9" stroke-dasharray="2.2,1.6"/>
<line x1="1673.22" y1="1380.5" x2="1673.22" y2="1134.5" stroke="#c8c8c8" stroke-width="0.9" stroke-dasharray="2.2,1.6"/>
<line x1="1707.78" y1="1380.5" x2="1707.78" y2="1134.5" stroke="#c8c8c8" stroke-width="0.9" stroke-dasharray="2.2,1.6"/>
<line x1="1725.06" y1="1380.5" x2="1725.06" y2="1134.5" stroke="#c8c8c8" stroke-width="0.9" stroke-dasharray="2.2,1.6"/>
<line x1="1742.34" y1="1380.5" x2="1742.34" y2="1134.5" stroke="#c8c8c8" stroke-width="0.9" stroke-dasharray="2.2,1.6"/>
<line x1="1759.62" y1="1380.5" x2="1759.62" y2="1134.5" stroke="#c8c8c8" stroke-width="0.9" stroke-dasharray="2.2,1.6"/>
<line x1="1794.18" y1="1380.5" x2="1794.18" y2="1134.5" stroke="#c8c8c8" stroke-width="0.9" stroke-dasharray="2.2,1.6"/>
<line x1="1811.46" y1="1380.5" x2="1811.46" y2="1134.5" stroke="#c8c8c8" stroke-width="0.9" stroke-dasharray="2.2,1.6"/>
<line x1="1828.74" y1="1380.5" x2="1828.74" y2="1134.5" stroke="#c8c8c8" stroke-width="0.9" stroke-dasharray="2.2,1.6"/>
<line x1="1846.02" y1="1380.5" x2="1846.02" y2="1134.5" stroke="#c8c8c8" stroke-width="0.9" stroke-dasharray="2.2,1.6"/>
<line x1="1344.9" y1="1364.1" x2="1863.3" y2="1364.1" stroke="#c8c8c8" stroke-width="0.9" stroke-dasharray="2.2,1.6"/>
<line x1="1344.9" y1="1347.7" x2="1863.3" y2="1347.7" stroke="#c8c8c8" stroke-width="0.9" stroke-dasharray="2.2,1.6"/>
<line x1="1344.9" y1="1331.3" x2="1863.3" y2="1331.3" stroke="#c8c8c8" stroke-width="0.9" stroke-dasharray="2.2,1.6"/>
<line x1="1344.9" y1="1314.9" x2="1863.3" y2="1314.9" stroke="#c8c8c8" stroke-width="0.9" stroke-dasharray="2.2,1.6"/>
<line x1="1344.9" y1="1282.1" x2="1863.3" y2="1282.1" stroke="#c8c8c8" stroke-width="0.9" stroke-dasharray="2.2,1.6"/>
<line x1="1344.9" y1="1265.7" x2="1863.3" y2="1265.7" stroke="#c8c8c8" stroke-width="0.9" stroke-dasharray="2.2,1.6"/>
<line x1="1344.9" y1="1249.3" x2="1863.3" y2="1249.3" stroke="#c8c8c8" stroke-width="0.9" stroke-dasharray="2.2,1.6"/>
<line x1="1344.9" y1="1232.9" x2="1863.3" y2="1232.9" stroke="#c8c8c8" stroke-width="0.9" stroke-dasharray="2.2,1.6"/>
<line x1="1344.9" y1="1200.1" x2="1863.3" y2="1200.1" stroke="#c8c8c8" stroke-width="0.9" stroke-dasharray="2.2,1.6"/>
<line x1="1344.9" y1="1183.7" x2="1863.3" y2="1183.7" stroke="#c8c8c8" stroke-width="0.9" stroke-dasharray="2.2,1.6"/>
<line x1="1344.9" y1="1167.3" x2="1863.3" y2="1167.3" stroke="#c8c8c8" stroke-width="0.9" stroke-dasharray="2.2,1.6"/>
<line x1="1344.9" y1="1150.9" x2="1863.3" y2="1150.9" stroke="#c8c8c8" stroke-width="0.9" stroke-dasharray="2.2,1.6"/>
<line x1="1431.3" y1="1380.5" x2="1431.3" y2="1134.5" stroke="#9a9a9a" stroke-width="1.1" />
<line x1="1517.7" y1="1380.5" x2="1517.7" y2="1134.5" stroke="#9a9a9a" stroke-width="1.1" />
<line x1="1604.1" y1="1380.5" x2="1604.1" y2="1134.5" stroke="#9a9a9a" stroke-width="1.1" />
<line x1="1690.5" y1="1380.5" x2="1690.5" y2="1134.5" stroke="#9a9a9a" stroke-width="1.1" />
<line x1="1776.9" y1="1380.5" x2="1776.9" y2="1134.5" stroke="#9a9a9a" stroke-width="1.1" />
<line x1="1344.9" y1="1298.5" x2="1863.3" y2="1298.5" stroke="#9a9a9a" stroke-width="1.1" />
<line x1="1344.9" y1="1216.5" x2="1863.3" y2="1216.5" stroke="#9a9a9a" stroke-width="1.1" />
<line x1="1179.1" y1="1582.3" x2="1344.9" y2="1364.1" stroke="#c8c8c8" stroke-width="0.9" stroke-dasharray="2.2,1.6"/>
<line x1="1179.1" y1="1565.9" x2="1344.9" y2="1347.7" stroke="#c8c8c8" stroke-width="0.9" stroke-dasharray="2.2,1.6"/>
<line x1="1179.1" y1="1549.5" x2="1344.9" y2="1331.3" stroke="#c8c8c8" stroke-width="0.9" stroke-dasharray="2.2,1.6"/>
<line x1="1179.1" y1="1533.1" x2="1344.9" y2="1314.9" stroke="#c8c8c8" stroke-width="0.9" stroke-dasharray="2.2,1.6"/>
<line x1="1179.1" y1="1500.3" x2="1344.9" y2="1282.1" stroke="#c8c8c8" stroke-width="0.9" stroke-dasharray="2.2,1.6"/>
<line x1="1179.1" y1="1483.9" x2="1344.9" y2="1265.7" stroke="#c8c8c8" stroke-width="0.9" stroke-dasharray="2.2,1.6"/>
<line x1="1179.1" y1="1467.5" x2="1344.9" y2="1249.3" stroke="#c8c8c8" stroke-width="0.9" stroke-dasharray="2.2,1.6"/>
<line x1="1179.1" y1="1451.1" x2="1344.9" y2="1232.9" stroke="#c8c8c8" stroke-width="0.9" stroke-dasharray="2.2,1.6"/>
<line x1="1179.1" y1="1418.3" x2="1344.9" y2="1200.1" stroke="#c8c8c8" stroke-width="0.9" stroke-dasharray="2.2,1.6"/>
<line x1="1179.1" y1="1401.9" x2="1344.9" y2="1183.7" stroke="#c8c8c8" stroke-width="0.9" stroke-dasharray="2.2,1.6"/>
<line x1="1179.1" y1="1385.5" x2="1344.9" y2="1167.3" stroke="#c8c8c8" stroke-width="0.9" stroke-dasharray="2.2,1.6"/>
<line x1="1179.1" y1="1369.1" x2="1344.9" y2="1150.9" stroke="#c8c8c8" stroke-width="0.9" stroke-dasharray="2.2,1.6"/>
<line x1="1179.1" y1="1516.7" x2="1344.9" y2="1298.5" stroke="#9a9a9a" stroke-width="1.1" />
<line x1="1179.1" y1="1434.7" x2="1344.9" y2="1216.5" stroke="#9a9a9a" stroke-width="1.1" />
<line x1="1192.92" y1="1580.52" x2="1192.92" y2="1334.52" stroke="#9a9a9a" stroke-width="1.1" />
<line x1="1220.55" y1="1544.15" x2="1220.55" y2="1298.15" stroke="#9a9a9a" stroke-width="1.1" />
<line x1="1248.18" y1="1507.78" x2="1248.18" y2="1261.78" stroke="#9a9a9a" stroke-width="1.1" />
<line x1="1275.82" y1="1471.42" x2="1275.82" y2="1225.42" stroke="#9a9a9a" stroke-width="1.1" />
<line x1="1303.45" y1="1435.05" x2="1303.45" y2="1189.05" stroke="#9a9a9a" stroke-width="1.1" />
<line x1="1331.08" y1="1398.68" x2="1331.08" y2="1152.68" stroke="#9a9a9a" stroke-width="1.1" />
<line x1="1196.38" y1="1598.7" x2="1362.18" y2="1380.5" stroke="#c8c8c8" stroke-width="0.9" stroke-dasharray="2.2,1.6"/>
<line x1="1213.66" y1="1598.7" x2="1379.46" y2="1380.5" stroke="#c8c8c8" stroke-width="0.9" stroke-dasharray="2.2,1.6"/>
<line x1="1230.94" y1="1598.7" x2="1396.74" y2="1380.5" stroke="#c8c8c8" stroke-width="0.9" stroke-dasharray="2.2,1.6"/>
<line x1="1248.22" y1="1598.7" x2="1414.02" y2="1380.5" stroke="#c8c8c8" stroke-width="0.9" stroke-dasharray="2.2,1.6"/>
<line x1="1282.78" y1="1598.7" x2="1448.58" y2="1380.5" stroke="#c8c8c8" stroke-width="0.9" stroke-dasharray="2.2,1.6"/>
<line x1="1300.06" y1="1598.7" x2="1465.86" y2="1380.5" stroke="#c8c8c8" stroke-width="0.9" stroke-dasharray="2.2,1.6"/>
<line x1="1317.34" y1="1598.7" x2="1483.14" y2="1380.5" stroke="#c8c8c8" stroke-width="0.9" stroke-dasharray="2.2,1.6"/>
<line x1="1334.62" y1="1598.7" x2="1500.42" y2="1380.5" stroke="#c8c8c8" stroke-width="0.9" stroke-dasharray="2.2,1.6"/>
<line x1="1369.18" y1="1598.7" x2="1534.98" y2="1380.5" stroke="#c8c8c8" stroke-width="0.9" stroke-dasharray="2.2,1.6"/>
<line x1="1386.46" y1="1598.7" x2="1552.26" y2="1380.5" stroke="#c8c8c8" stroke-width="0.9" stroke-dasharray="2.2,1.6"/>
<line x1="1403.74" y1="1598.7" x2="1569.54" y2="1380.5" stroke="#c8c8c8" stroke-width="0.9" stroke-dasharray="2.2,1.6"/>
<line x1="1421.02" y1="1598.7" x2="1586.82" y2="1380.5" stroke="#c8c8c8" stroke-width="0.9" stroke-dasharray="2.2,1.6"/>
<line x1="1455.58" y1="1598.7" x2="1621.38" y2="1380.5" stroke="#c8c8c8" stroke-width="0.9" stroke-dasharray="2.2,1.6"/>
<line x1="1472.86" y1="1598.7" x2="1638.66" y2="1380.5" stroke="#c8c8c8" stroke-width="0.9" stroke-dasharray="2.2,1.6"/>
<line x1="1490.14" y1="1598.7" x2="1655.94" y2="1380.5" stroke="#c8c8c8" stroke-width="0.9" stroke-dasharray="2.2,1.6"/>
<line x1="1507.42" y1="1598.7" x2="1673.22" y2="1380.5" stroke="#c8c8c8" stroke-width="0.9" stroke-dasharray="2.2,1.6"/>
<line x1="1541.98" y1="1598.7" x2="1707.78" y2="1380.5" stroke="#c8c8c8" stroke-width="0.9" stroke-dasharray="2.2,1.6"/>
<line x1="1559.26" y1="1598.7" x2="1725.06" y2="1380.5" stroke="#c8c8c8" stroke-width="0.9" stroke-dasharray="2.2,1.6"/>
<line x1="1576.54" y1="1598.7" x2="1742.34" y2="1380.5" stroke="#c8c8c8" stroke-width="0.9" stroke-dasharray="2.2,1.6"/>
<line x1="1593.82" y1="1598.7" x2="1759.62" y2="1380.5" stroke="#c8c8c8" stroke-width="0.9" stroke-dasharray="2.2,1.6"/>
<line x1="1628.38" y1="1598.7" x2="1794.18" y2="1380.5" stroke="#c8c8c8" stroke-width="0.9" stroke-dasharray="2.2,1.6"/>
<line x1="1645.66" y1="1598.7" x2="1811.46" y2="1380.5" stroke="#c8c8c8" stroke-width="0.9" stroke-dasharray="2.2,1.6"/>
<line x1="1662.94" y1="1598.7" x2="1828.74" y2="1380.5" stroke="#c8c8c8" stroke-width="0.9" stroke-dasharray="2.2,1.6"/>
<line x1="1680.22" y1="1598.7" x2="1846.02" y2="1380.5" stroke="#c8c8c8" stroke-width="0.9" stroke-dasharray="2.2,1.6"/>
<line x1="1265.5" y1="1598.7" x2="1431.3" y2="1380.5" stroke="#9a9a9a" stroke-width="1.1" />
<line x1="1351.9" y1="1598.7" x2="1517.7" y2="1380.5" stroke="#9a9a9a" stroke-width="1.1" />
<line x1="1438.3" y1="1598.7" x2="1604.1" y2="1380.5" stroke="#9a9a9a" stroke-width="1.1" />
<line x1="1524.7" y1="1598.7" x2="1690.5" y2="1380.5" stroke="#9a9a9a" stroke-width="1.1" />
<line x1="1611.1" y1="1598.7" x2="1776.9" y2="1380.5" stroke="#9a9a9a" stroke-width="1.1" />
<line x1="1192.92" y1="1580.52" x2="1711.32" y2="1580.52" stroke="#cfcfcf" stroke-width="1.1" />
<line x1="1220.55" y1="1544.15" x2="1738.95" y2="1544.15" stroke="#cfcfcf" stroke-width="1.1" />
<line x1="1248.18" y1="1507.78" x2="1766.58" y2="1507.78" stroke="#cfcfcf" stroke-width="1.1" />
<line x1="1275.82" y1="1471.42" x2="1794.22" y2="1471.42" stroke="#cfcfcf" stroke-width="1.1" />
<line x1="1303.45" y1="1435.05" x2="1821.85" y2="1435.05" stroke="#cfcfcf" stroke-width="1.1" />
<line x1="1331.08" y1="1398.68" x2="1849.48" y2="1398.68" stroke="#cfcfcf" stroke-width="1.1" />
<line x1="1344.9" y1="1380.5" x2="1344.9" y2="1134.5" stroke="#111" stroke-width="2" />
<line x1="1344.9" y1="1380.5" x2="1863.3" y2="1380.5" stroke="#222" stroke-width="1.5" />
<line x1="1179.1" y1="1598.7" x2="1344.9" y2="1380.5" stroke="#222" stroke-width="1.5" />
<path d="M1346.98 1398.68 L1346.98 1398.68 L1366.16 1398.68 L1381.2 1380.23 L1400.03 1354.2 L1415.41 1336.36 L1433.21 1313.4 L1451.18 1292.9 L1471.57 1275.07 L1494.72 1259.69 L1517.71 1244.93 L1543.28 1234.07 L1574.04 1225.05 L1604.63 1216.23 L1643.16 1207.21 L1691.72 1199.42 L1727.49 1191.84 L1758.24 1181.59 L1794.01 1179.74 L1819.59 1180.15 L1849.14 1184.05 L1849.14 1398.68 Z" stroke="none" fill="#e28c84" stroke-width="1" fill-opacity="0.62"/>
<path d="M1346.98 1398.68 L1366.16 1398.68 L1381.2 1380.23 L1400.03 1354.2 L1415.41 1336.36 L1433.21 1313.4 L1451.18 1292.9 L1471.57 1275.07 L1494.72 1259.69 L1517.71 1244.93 L1543.28 1234.07 L1574.04 1225.05 L1604.63 1216.23 L1643.16 1207.21 L1691.72 1199.42 L1727.49 1191.84 L1758.24 1181.59 L1794.01 1179.74 L1819.59 1180.15 L1849.14 1184.05" stroke="#e8958c" fill="none" stroke-width="3.4" stroke-linejoin="round" stroke-linecap="round" stroke-opacity="1.0"/>
<path d="M1319.87 1435.05 L1319.87 1435.05 L1373.09 1435.05 L1421.47 1434.64 L1441.69 1432.59 L1457.59 1429.11 L1476.25 1423.78 L1493.88 1418.24 L1517.72 1410.04 L1542.09 1401.43 L1566.11 1394.05 L1590.3 1386.88 L1630.21 1374.58 L1681.54 1363.92 L1732.69 1354.08 L1783.83 1348.95 L1820.99 1344.85 L1820.99 1435.05 Z" stroke="none" fill="#bb8a84" stroke-width="1" fill-opacity="0.6"/>
<path d="M1319.87 1435.05 L1373.09 1435.05 L1421.47 1434.64 L1441.69 1432.59 L1457.59 1429.11 L1476.25 1423.78 L1493.88 1418.24 L1517.72 1410.04 L1542.09 1401.43 L1566.11 1394.05 L1590.3 1386.88 L1630.21 1374.58 L1681.54 1363.92 L1732.69 1354.08 L1783.83 1348.95 L1820.99 1344.85" stroke="#c08d87" fill="none" stroke-width="3.2" stroke-linejoin="round" stroke-linecap="round" stroke-opacity="1.0"/>
<path d="M1292.75 1471.42 L1292.75 1471.42 L1441.7 1471.42 L1451.21 1470.8 L1528.1 1464.24 L1604.66 1456.66 L1681.55 1450.3 L1732.7 1446.41 L1794.04 1444.36 L1794.04 1471.42 Z" stroke="none" fill="#8e908d" stroke-width="1" fill-opacity="0.62"/>
<path d="M1292.75 1471.42 L1441.7 1471.42 L1451.21 1470.8 L1528.1 1464.24 L1604.66 1456.66 L1681.55 1450.3 L1732.7 1446.41 L1794.04 1444.36" stroke="#979896" fill="none" stroke-width="3.4" stroke-linejoin="round" stroke-linecap="round" stroke-opacity="1.0"/>
<path d="M1265.46 1507.78 L1265.46 1507.78 L1282.57 1329.43 L1300.71 1361.41 L1324.91 1396.26 L1348.93 1420.45 L1373.12 1437.47 L1397.31 1449.56 L1421.33 1459.2 L1445.52 1469.04 L1469.71 1477.44 L1517.92 1489.33 L1566.31 1496.51 L1614.52 1500.2 L1659.97 1501.43 L1707.14 1502.66 L1765.89 1503.89 L1765.89 1507.78 Z" stroke="none" fill="#f8e1ad" stroke-width="1" fill-opacity="0.6"/>
<path d="M1265.46 1507.78 L1282.57 1329.43 L1300.71 1361.41 L1324.91 1396.26 L1348.93 1420.45 L1373.12 1437.47 L1397.31 1449.56 L1421.33 1459.2 L1445.52 1469.04 L1469.71 1477.44 L1517.92 1489.33 L1566.31 1496.51 L1614.52 1500.2 L1659.97 1501.43 L1707.14 1502.66 L1765.89 1503.89" stroke="#fae3b6" fill="none" stroke-width="3.6" stroke-linejoin="round" stroke-linecap="round" stroke-opacity="1.0"/>
<path d="M1237.83 1544.15 L1237.83 1544.15 L1257.18 1512.58 L1262.02 1492.9 L1271.7 1462.97 L1290.88 1462.97 L1306.78 1454.57 L1324.92 1464.41 L1358.62 1483.68 L1397.32 1495.98 L1445.54 1504.18 L1493.92 1511.35 L1541.96 1517.3 L1590.34 1520.99 L1659.98 1525.7 L1706.98 1528.16 L1738.95 1530.83 L1738.95 1544.15 Z" stroke="none" fill="#dcc67a" stroke-width="1" fill-opacity="0.62"/>
<path d="M1237.83 1544.15 L1257.18 1512.58 L1262.02 1492.9 L1271.7 1462.97 L1290.88 1462.97 L1306.78 1454.57 L1324.92 1464.41 L1358.62 1483.68 L1397.32 1495.98 L1445.54 1504.18 L1493.92 1511.35 L1541.96 1517.3 L1590.34 1520.99 L1659.98 1525.7 L1706.98 1528.16 L1738.95 1530.83" stroke="#dfc677" fill="none" stroke-width="3.6" stroke-linejoin="round" stroke-linecap="round" stroke-opacity="1.0"/>
<path d="M1208.99 1580.52 L1208.99 1580.52 L1245.28 1580.52 L1262.04 1550.79 L1266.88 1546.28 L1313.88 1506.31 L1332.19 1506.31 L1353.79 1510 L1385.24 1516.15 L1421.36 1523.32 L1469.74 1531.93 L1517.95 1537.88 L1566.34 1545.05 L1590.36 1548.74 L1660 1553.46 L1710.97 1556.53 L1710.97 1580.52 Z" stroke="none" fill="#ebb88c" stroke-width="1" fill-opacity="0.62"/>
<path d="M1208.99 1580.52 L1245.28 1580.52 L1262.04 1550.79 L1266.88 1546.28 L1313.88 1506.31 L1332.19 1506.31 L1353.79 1510 L1385.24 1516.15 L1421.36 1523.32 L1469.74 1531.93 L1517.95 1537.88 L1566.34 1545.05 L1590.36 1548.74 L1660 1553.46 L1710.97 1556.53" stroke="#efba90" fill="none" stroke-width="3.6" stroke-linejoin="round" stroke-linecap="round" stroke-opacity="1.0"/>
<path d="M1179.1 1598.7 L1179.1 1352.7 L1344.9 1134.5 L1863.3 1134.5" stroke="#000" fill="none" stroke-width="2.8" stroke-linejoin="miter"/>
<path d="M1179.1 1598.7 L1697.5 1598.7 L1863.3 1380.5 L1863.3 1134.5" stroke="#000" fill="none" stroke-width="2.8" stroke-linejoin="miter"/>
<line x1="1179.1" y1="1598.7" x2="1179.1" y2="1605.7" stroke="#000" stroke-width="1.8" />
<line x1="1196.38" y1="1598.7" x2="1196.38" y2="1602.5" stroke="#000" stroke-width="1.8" />
<line x1="1213.66" y1="1598.7" x2="1213.66" y2="1602.5" stroke="#000" stroke-width="1.8" />
<line x1="1230.94" y1="1598.7" x2="1230.94" y2="1602.5" stroke="#000" stroke-width="1.8" />
<line x1="1248.22" y1="1598.7" x2="1248.22" y2="1602.5" stroke="#000" stroke-width="1.8" />
<line x1="1265.5" y1="1598.7" x2="1265.5" y2="1605.7" stroke="#000" stroke-width="1.8" />
<line x1="1282.78" y1="1598.7" x2="1282.78" y2="1602.5" stroke="#000" stroke-width="1.8" />
<line x1="1300.06" y1="1598.7" x2="1300.06" y2="1602.5" stroke="#000" stroke-width="1.8" />
<line x1="1317.34" y1="1598.7" x2="1317.34" y2="1602.5" stroke="#000" stroke-width="1.8" />
<line x1="1334.62" y1="1598.7" x2="1334.62" y2="1602.5" stroke="#000" stroke-width="1.8" />
<line x1="1351.9" y1="1598.7" x2="1351.9" y2="1605.7" stroke="#000" stroke-width="1.8" />
<line x1="1369.18" y1="1598.7" x2="1369.18" y2="1602.5" stroke="#000" stroke-width="1.8" />
<line x1="1386.46" y1="1598.7" x2="1386.46" y2="1602.5" stroke="#000" stroke-width="1.8" />
<line x1="1403.74" y1="1598.7" x2="1403.74" y2="1602.5" stroke="#000" stroke-width="1.8" />
<line x1="1421.02" y1="1598.7" x2="1421.02" y2="1602.5" stroke="#000" stroke-width="1.8" />
<line x1="1438.3" y1="1598.7" x2="1438.3" y2="1605.7" stroke="#000" stroke-width="1.8" />
<line x1="1455.58" y1="1598.7" x2="1455.58" y2="1602.5" stroke="#000" stroke-width="1.8" />
<line x1="1472.86" y1="1598.7" x2="1472.86" y2="1602.5" stroke="#000" stroke-width="1.8" />
<line x1="1490.14" y1="1598.7" x2="1490.14" y2="1602.5" stroke="#000" stroke-width="1.8" />
<line x1="1507.42" y1="1598.7" x2="1507.42" y2="1602.5" stroke="#000" stroke-width="1.8" />
<line x1="1524.7" y1="1598.7" x2="1524.7" y2="1605.7" stroke="#000" stroke-width="1.8" />
<line x1="1541.98" y1="1598.7" x2="1541.98" y2="1602.5" stroke="#000" stroke-width="1.8" />
<line x1="1559.26" y1="1598.7" x2="1559.26" y2="1602.5" stroke="#000" stroke-width="1.8" />
<line x1="1576.54" y1="1598.7" x2="1576.54" y2="1602.5" stroke="#000" stroke-width="1.8" />
<line x1="1593.82" y1="1598.7" x2="1593.82" y2="1602.5" stroke="#000" stroke-width="1.8" />
<line x1="1611.1" y1="1598.7" x2="1611.1" y2="1605.7" stroke="#000" stroke-width="1.8" />
<line x1="1628.38" y1="1598.7" x2="1628.38" y2="1602.5" stroke="#000" stroke-width="1.8" />
<line x1="1645.66" y1="1598.7" x2="1645.66" y2="1602.5" stroke="#000" stroke-width="1.8" />
<line x1="1662.94" y1="1598.7" x2="1662.94" y2="1602.5" stroke="#000" stroke-width="1.8" />
<line x1="1680.22" y1="1598.7" x2="1680.22" y2="1602.5" stroke="#000" stroke-width="1.8" />
<line x1="1697.5" y1="1598.7" x2="1697.5" y2="1605.7" stroke="#000" stroke-width="1.8" />
<line x1="1863.3" y1="1380.5" x2="1870.3" y2="1380.5" stroke="#000" stroke-width="1.8" />
<line x1="1863.3" y1="1364.1" x2="1867.1" y2="1364.1" stroke="#000" stroke-width="1.8" />
<line x1="1863.3" y1="1347.7" x2="1867.1" y2="1347.7" stroke="#000" stroke-width="1.8" />
<line x1="1863.3" y1="1331.3" x2="1867.1" y2="1331.3" stroke="#000" stroke-width="1.8" />
<line x1="1863.3" y1="1314.9" x2="1867.1" y2="1314.9" stroke="#000" stroke-width="1.8" />
<line x1="1863.3" y1="1298.5" x2="1870.3" y2="1298.5" stroke="#000" stroke-width="1.8" />
<line x1="1863.3" y1="1282.1" x2="1867.1" y2="1282.1" stroke="#000" stroke-width="1.8" />
<line x1="1863.3" y1="1265.7" x2="1867.1" y2="1265.7" stroke="#000" stroke-width="1.8" />
<line x1="1863.3" y1="1249.3" x2="1867.1" y2="1249.3" stroke="#000" stroke-width="1.8" />
<line x1="1863.3" y1="1232.9" x2="1867.1" y2="1232.9" stroke="#000" stroke-width="1.8" />
<line x1="1863.3" y1="1216.5" x2="1870.3" y2="1216.5" stroke="#000" stroke-width="1.8" />
<line x1="1863.3" y1="1200.1" x2="1867.1" y2="1200.1" stroke="#000" stroke-width="1.8" />
<line x1="1863.3" y1="1183.7" x2="1867.1" y2="1183.7" stroke="#000" stroke-width="1.8" />
<line x1="1863.3" y1="1167.3" x2="1867.1" y2="1167.3" stroke="#000" stroke-width="1.8" />
<line x1="1863.3" y1="1150.9" x2="1867.1" y2="1150.9" stroke="#000" stroke-width="1.8" />
<line x1="1863.3" y1="1134.5" x2="1870.3" y2="1134.5" stroke="#000" stroke-width="1.8" />
<line x1="1711.32" y1="1580.52" x2="1717.32" y2="1580.52" stroke="#000" stroke-width="2.2" />
<line x1="1738.95" y1="1544.15" x2="1744.95" y2="1544.15" stroke="#000" stroke-width="2.2" />
<line x1="1766.58" y1="1507.78" x2="1772.58" y2="1507.78" stroke="#000" stroke-width="2.2" />
<line x1="1794.22" y1="1471.42" x2="1800.22" y2="1471.42" stroke="#000" stroke-width="2.2" />
<line x1="1821.85" y1="1435.05" x2="1827.85" y2="1435.05" stroke="#000" stroke-width="2.2" />
<line x1="1849.48" y1="1398.68" x2="1855.48" y2="1398.68" stroke="#000" stroke-width="2.2" />
<text x="1179.1" y="1631.5" font-size="29" text-anchor="middle"  style="">0</text>
<text x="1265.5" y="1631.5" font-size="29" text-anchor="middle"  style="">5</text>
<text x="1351.9" y="1631.5" font-size="29" text-anchor="middle"  style="">10</text>
<text x="1438.3" y="1631.5" font-size="29" text-anchor="middle"  style="">15</text>
<text x="1524.7" y="1631.5" font-size="29" text-anchor="middle"  style="">20</text>
<text x="1611.1" y="1631.5" font-size="29" text-anchor="middle"  style="">25</text>
<text x="1697.5" y="1631.5" font-size="29" text-anchor="middle"  style="">30</text>
<text x="1431.7" y="1666.5" font-size="29.5" text-anchor="middle"  style="">Pulse number #</text>
<text x="1873.3" y="1390.5" font-size="28.5" text-anchor="start"  style="">0.0</text>
<text x="1873.3" y="1308.5" font-size="28.5" text-anchor="start"  style="">0.4</text>
<text x="1873.3" y="1226.5" font-size="28.5" text-anchor="start"  style="">0.8</text>
<text x="1873.3" y="1144.5" font-size="28.5" text-anchor="start"  style="">1.2</text>
<text transform="translate(1942,1251) rotate(90)" font-size="29" text-anchor="middle"><tspan font-style="italic">I</tspan><tspan font-size="19" dy="7.5">DS</tspan><tspan dy="-7.5"> (nA)</tspan></text>
<text transform="matrix(1,0,-0.6,0.75,1733.32,1592.02)" font-size="26.5">10V,0.2ms</text>
<text transform="matrix(1,0,-0.6,0.75,1760.95,1555.65)" font-size="26.5">10V,0.7ms</text>
<text transform="matrix(1,0,-0.6,0.75,1788.58,1519.28)" font-size="26.5">10V,1.2ms</text>
<text transform="matrix(1,0,-0.6,0.75,1816.22,1482.92)" font-size="26.5">5V,0.2ms</text>
<text transform="matrix(1,0,-0.6,0.75,1843.85,1446.55)" font-size="26.5">5V,0.7ms</text>
<text transform="matrix(1,0,-0.6,0.75,1871.48,1410.18)" font-size="26.5">5V,1.2ms</text>
<text transform="translate(1965,1502.5) rotate(-60)" font-size="28.5" text-anchor="middle">Pulse</text>
<text x="1152" y="1134.4" font-size="30" text-anchor="start"  style="">g</text>
</g>
</svg></body></html>
